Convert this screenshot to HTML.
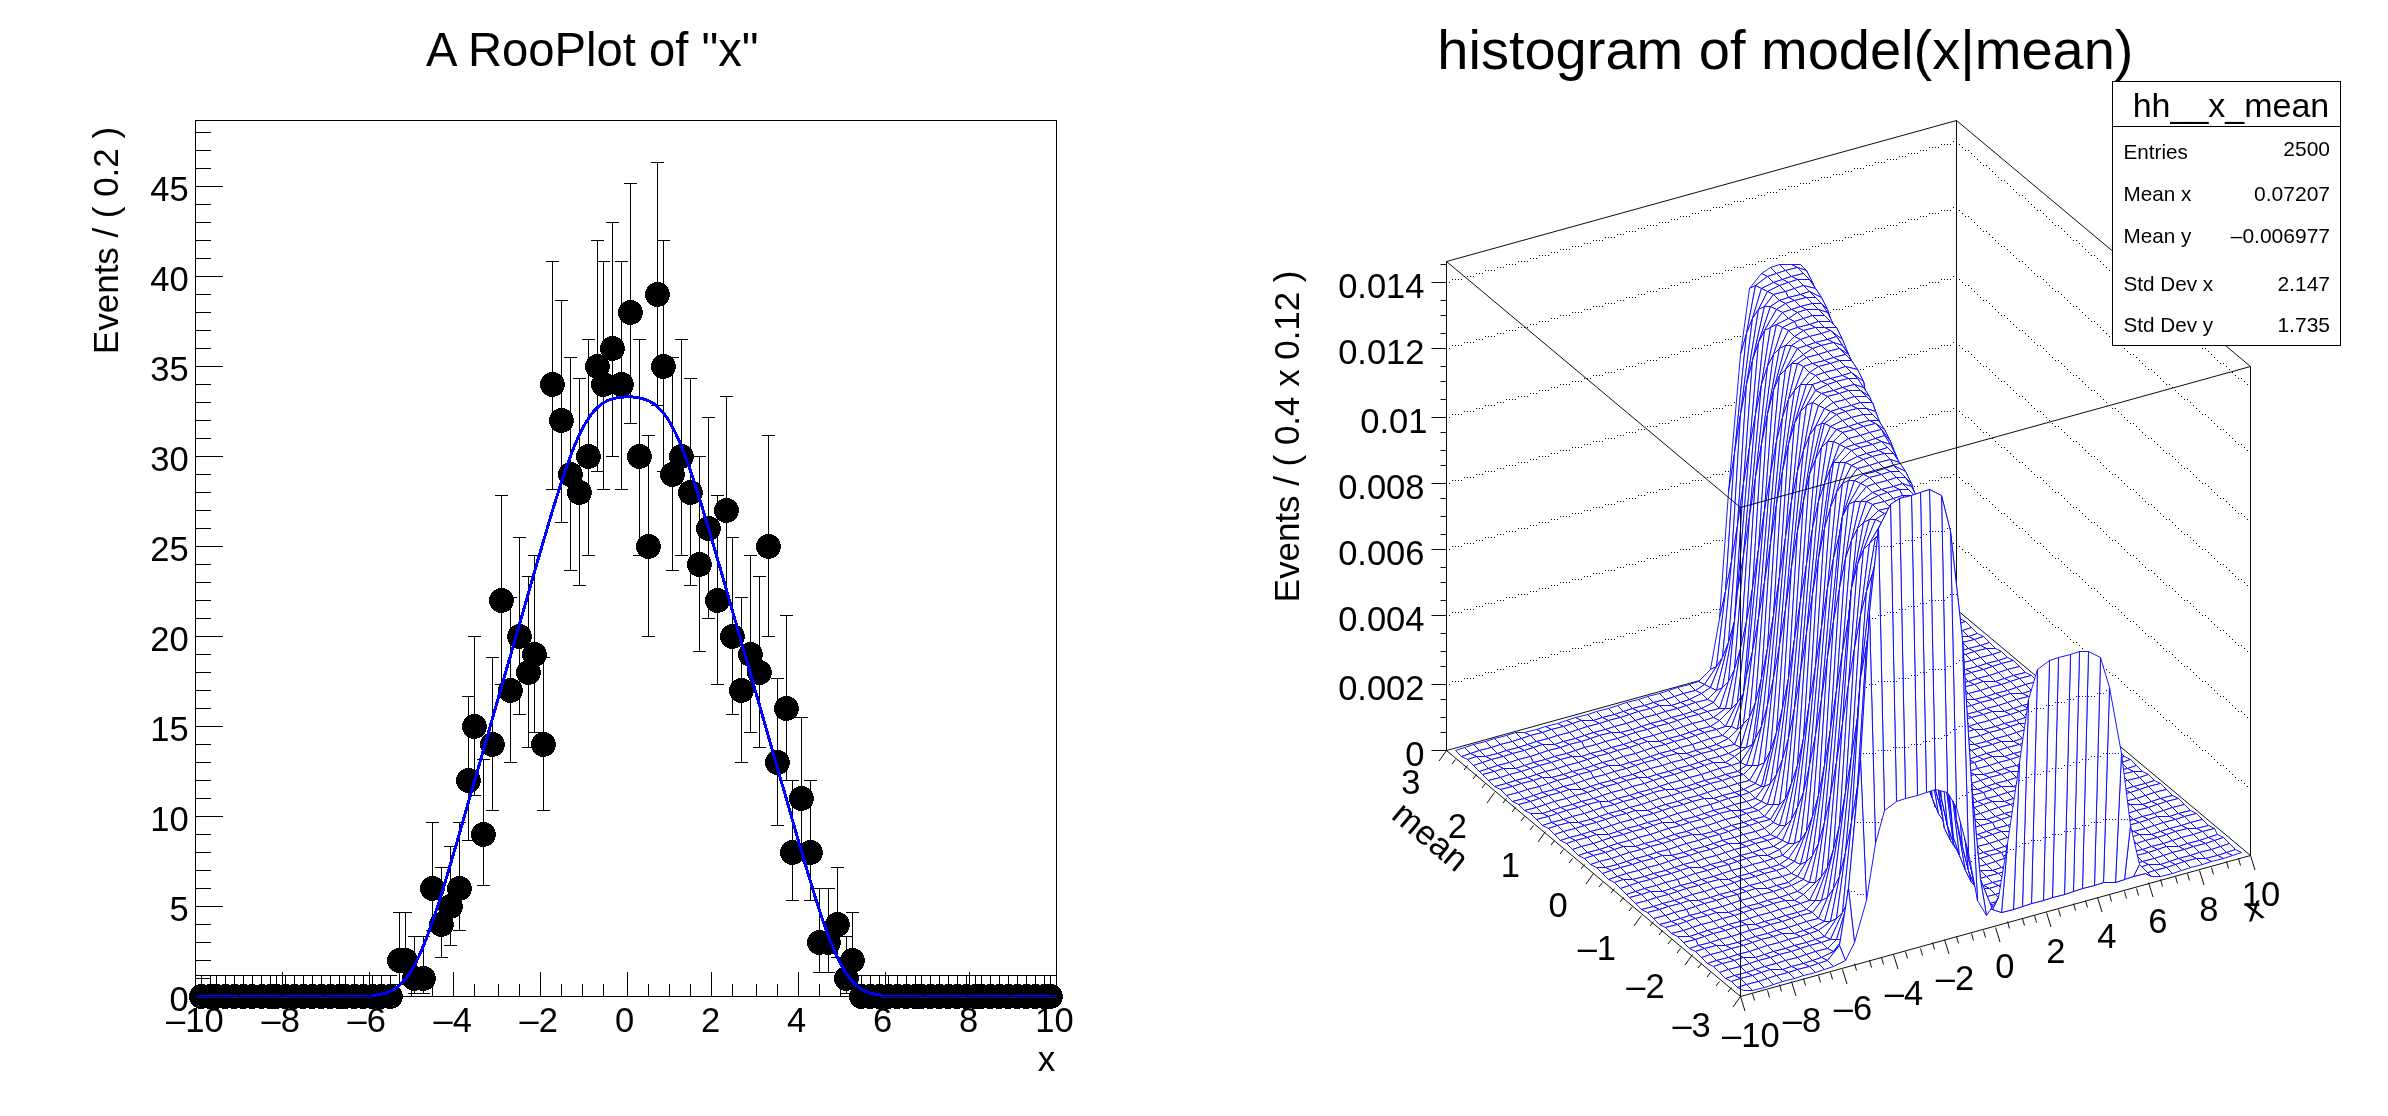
<!DOCTYPE html>
<html><head><meta charset="utf-8"><title>RooPlot</title>
<style>
html,body{margin:0;padding:0;background:#fff;}
svg{display:block;will-change:transform;}
text{font-family:"Liberation Sans",sans-serif;fill:#000;}
.lv{fill:none;stroke-dasharray:1 5;}
</style></head><body>
<svg width="2388" height="1116" viewBox="0 0 2388 1116" shape-rendering="crispEdges">
<rect width="2388" height="1116" fill="#fff"/>
<g id="left">
<rect x="195.5" y="120.5" width="861.0" height="876.0" fill="none" stroke="#000" stroke-width="1"/>
<path d="M195.5 996.5h27M195.5 978.5h15M195.5 960.5h15M195.5 942.5h15M195.5 924.5h15M195.5 906.5h27M195.5 888.5h15M195.5 870.5h15M195.5 852.5h15M195.5 834.5h15M195.5 816.5h27M195.5 798.5h15M195.5 780.5h15M195.5 762.5h15M195.5 744.5h15M195.5 726.5h27M195.5 708.5h15M195.5 690.5h15M195.5 672.5h15M195.5 654.5h15M195.5 636.5h27M195.5 618.5h15M195.5 600.5h15M195.5 582.5h15M195.5 564.5h15M195.5 546.5h27M195.5 528.5h15M195.5 510.5h15M195.5 492.5h15M195.5 474.5h15M195.5 456.5h27M195.5 438.5h15M195.5 420.5h15M195.5 402.5h15M195.5 384.5h15M195.5 366.5h27M195.5 348.5h15M195.5 330.5h15M195.5 312.5h15M195.5 294.5h15M195.5 276.5h27M195.5 258.5h15M195.5 240.5h15M195.5 222.5h15M195.5 204.5h15M195.5 186.5h27M195.5 168.5h15M195.5 150.5h15M195.5 132.5h15M195.5 996.5v-25M216.5 996.5v-13M240.5 996.5v-13M261.5 996.5v-13M282.5 996.5v-25M303.5 996.5v-13M324.5 996.5v-13M345.5 996.5v-13M369.5 996.5v-25M390.5 996.5v-13M411.5 996.5v-13M432.5 996.5v-13M453.5 996.5v-25M474.5 996.5v-13M498.5 996.5v-13M519.5 996.5v-13M540.5 996.5v-25M561.5 996.5v-13M582.5 996.5v-13M603.5 996.5v-13M627.5 996.5v-25M648.5 996.5v-13M669.5 996.5v-13M690.5 996.5v-13M711.5 996.5v-25M732.5 996.5v-13M756.5 996.5v-13M777.5 996.5v-13M798.5 996.5v-25M819.5 996.5v-13M840.5 996.5v-13M861.5 996.5v-13M885.5 996.5v-25M906.5 996.5v-13M927.5 996.5v-13M948.5 996.5v-13M969.5 996.5v-25M990.5 996.5v-13M1014.5 996.5v-13M1035.5 996.5v-13M1056.5 996.5v-25" stroke="#000" stroke-width="1" fill="none"/>
<path d="M201.5 975.5V996.5M195.0 975.5h13M195.0 996.5h13M210.5 975.5V996.5M204.0 975.5h13M204.0 996.5h13M216.5 975.5V996.5M210.0 975.5h13M210.0 996.5h13M225.5 975.5V996.5M219.0 975.5h13M219.0 996.5h13M234.5 975.5V996.5M228.0 975.5h13M228.0 996.5h13M243.5 975.5V996.5M237.0 975.5h13M237.0 996.5h13M252.5 975.5V996.5M246.0 975.5h13M246.0 996.5h13M261.5 975.5V996.5M255.0 975.5h13M255.0 996.5h13M270.5 975.5V996.5M264.0 975.5h13M264.0 996.5h13M276.5 975.5V996.5M270.0 975.5h13M270.0 996.5h13M285.5 975.5V996.5M279.0 975.5h13M279.0 996.5h13M294.5 975.5V996.5M288.0 975.5h13M288.0 996.5h13M303.5 975.5V996.5M297.0 975.5h13M297.0 996.5h13M312.5 975.5V996.5M306.0 975.5h13M306.0 996.5h13M321.5 975.5V996.5M315.0 975.5h13M315.0 996.5h13M330.5 975.5V996.5M324.0 975.5h13M324.0 996.5h13M339.5 975.5V996.5M333.0 975.5h13M333.0 996.5h13M345.5 975.5V996.5M339.0 975.5h13M339.0 996.5h13M354.5 975.5V996.5M348.0 975.5h13M348.0 996.5h13M363.5 975.5V996.5M357.0 975.5h13M357.0 996.5h13M372.5 975.5V996.5M366.0 975.5h13M366.0 996.5h13M381.5 975.5V996.5M375.0 975.5h13M375.0 996.5h13M390.5 975.5V996.5M384.0 975.5h13M384.0 996.5h13M399.5 912.5V984.5M393.0 912.5h13M393.0 984.5h13M405.5 912.5V984.5M399.0 912.5h13M399.0 984.5h13M414.5 936.5V993.5M408.0 936.5h13M408.0 993.5h13M423.5 936.5V993.5M417.0 936.5h13M417.0 993.5h13M432.5 822.5V930.5M426.0 822.5h13M426.0 930.5h13M441.5 867.5V957.5M435.0 867.5h13M435.0 957.5h13M450.5 846.5V945.5M444.0 846.5h13M444.0 945.5h13M459.5 822.5V930.5M453.0 822.5h13M453.0 930.5h13M468.5 696.5V840.5M462.0 696.5h13M462.0 840.5h13M474.5 636.5V795.5M468.0 636.5h13M468.0 795.5h13M483.5 759.5V885.5M477.0 759.5h13M477.0 885.5h13M492.5 657.5V810.5M486.0 657.5h13M486.0 810.5h13M501.5 495.5V684.5M495.0 495.5h13M495.0 684.5h13M510.5 597.5V762.5M504.0 597.5h13M504.0 762.5h13M519.5 537.5V714.5M513.0 537.5h13M513.0 714.5h13M528.5 576.5V747.5M522.0 576.5h13M522.0 747.5h13M534.5 555.5V732.5M528.0 555.5h13M528.0 732.5h13M543.5 657.5V810.5M537.0 657.5h13M537.0 810.5h13M552.5 261.5V489.5M546.0 261.5h13M546.0 489.5h13M561.5 300.5V522.5M555.0 300.5h13M555.0 522.5h13M570.5 357.5V570.5M564.0 357.5h13M564.0 570.5h13M579.5 378.5V585.5M573.0 378.5h13M573.0 585.5h13M588.5 339.5V555.5M582.0 339.5h13M582.0 555.5h13M597.5 240.5V471.5M591.0 240.5h13M591.0 471.5h13M603.5 261.5V489.5M597.0 261.5h13M597.0 489.5h13M612.5 222.5V456.5M606.0 222.5h13M606.0 456.5h13M621.5 261.5V489.5M615.0 261.5h13M615.0 489.5h13M630.5 183.5V423.5M624.0 183.5h13M624.0 423.5h13M639.5 339.5V555.5M633.0 339.5h13M633.0 555.5h13M648.5 435.5V636.5M642.0 435.5h13M642.0 636.5h13M657.5 162.5V405.5M651.0 162.5h13M651.0 405.5h13M663.5 240.5V471.5M657.0 240.5h13M657.0 471.5h13M672.5 357.5V570.5M666.0 357.5h13M666.0 570.5h13M681.5 339.5V555.5M675.0 339.5h13M675.0 555.5h13M690.5 378.5V585.5M684.0 378.5h13M684.0 585.5h13M699.5 456.5V651.5M693.0 456.5h13M693.0 651.5h13M708.5 417.5V618.5M702.0 417.5h13M702.0 618.5h13M717.5 495.5V684.5M711.0 495.5h13M711.0 684.5h13M726.5 396.5V603.5M720.0 396.5h13M720.0 603.5h13M732.5 537.5V714.5M726.0 537.5h13M726.0 714.5h13M741.5 597.5V762.5M735.0 597.5h13M735.0 762.5h13M750.5 555.5V732.5M744.0 555.5h13M744.0 732.5h13M759.5 576.5V747.5M753.0 576.5h13M753.0 747.5h13M768.5 435.5V636.5M762.0 435.5h13M762.0 636.5h13M777.5 678.5V825.5M771.0 678.5h13M771.0 825.5h13M786.5 615.5V780.5M780.0 615.5h13M780.0 780.5h13M792.5 780.5V900.5M786.0 780.5h13M786.0 900.5h13M801.5 717.5V855.5M795.0 717.5h13M795.0 855.5h13M810.5 780.5V900.5M804.0 780.5h13M804.0 900.5h13M819.5 888.5V972.5M813.0 888.5h13M813.0 972.5h13M828.5 888.5V972.5M822.0 888.5h13M822.0 972.5h13M837.5 867.5V957.5M831.0 867.5h13M831.0 957.5h13M846.5 936.5V993.5M840.0 936.5h13M840.0 993.5h13M852.5 912.5V984.5M846.0 912.5h13M846.0 984.5h13M861.5 975.5V996.5M855.0 975.5h13M855.0 996.5h13M870.5 975.5V996.5M864.0 975.5h13M864.0 996.5h13M879.5 975.5V996.5M873.0 975.5h13M873.0 996.5h13M888.5 975.5V996.5M882.0 975.5h13M882.0 996.5h13M897.5 975.5V996.5M891.0 975.5h13M891.0 996.5h13M906.5 975.5V996.5M900.0 975.5h13M900.0 996.5h13M915.5 975.5V996.5M909.0 975.5h13M909.0 996.5h13M921.5 975.5V996.5M915.0 975.5h13M915.0 996.5h13M930.5 975.5V996.5M924.0 975.5h13M924.0 996.5h13M939.5 975.5V996.5M933.0 975.5h13M933.0 996.5h13M948.5 975.5V996.5M942.0 975.5h13M942.0 996.5h13M957.5 975.5V996.5M951.0 975.5h13M951.0 996.5h13M966.5 975.5V996.5M960.0 975.5h13M960.0 996.5h13M975.5 975.5V996.5M969.0 975.5h13M969.0 996.5h13M981.5 975.5V996.5M975.0 975.5h13M975.0 996.5h13M990.5 975.5V996.5M984.0 975.5h13M984.0 996.5h13M999.5 975.5V996.5M993.0 975.5h13M993.0 996.5h13M1008.5 975.5V996.5M1002.0 975.5h13M1002.0 996.5h13M1017.5 975.5V996.5M1011.0 975.5h13M1011.0 996.5h13M1026.5 975.5V996.5M1020.0 975.5h13M1020.0 996.5h13M1035.5 975.5V996.5M1029.0 975.5h13M1029.0 996.5h13M1044.5 975.5V996.5M1038.0 975.5h13M1038.0 996.5h13M1050.5 975.5V996.5M1044.0 975.5h13M1044.0 996.5h13" stroke="#000" stroke-width="1" fill="none"/>
<g fill="#000"><circle cx="201.5" cy="996.5" r="12.4"/><circle cx="210.5" cy="996.5" r="12.4"/><circle cx="216.5" cy="996.5" r="12.4"/><circle cx="225.5" cy="996.5" r="12.4"/><circle cx="234.5" cy="996.5" r="12.4"/><circle cx="243.5" cy="996.5" r="12.4"/><circle cx="252.5" cy="996.5" r="12.4"/><circle cx="261.5" cy="996.5" r="12.4"/><circle cx="270.5" cy="996.5" r="12.4"/><circle cx="276.5" cy="996.5" r="12.4"/><circle cx="285.5" cy="996.5" r="12.4"/><circle cx="294.5" cy="996.5" r="12.4"/><circle cx="303.5" cy="996.5" r="12.4"/><circle cx="312.5" cy="996.5" r="12.4"/><circle cx="321.5" cy="996.5" r="12.4"/><circle cx="330.5" cy="996.5" r="12.4"/><circle cx="339.5" cy="996.5" r="12.4"/><circle cx="345.5" cy="996.5" r="12.4"/><circle cx="354.5" cy="996.5" r="12.4"/><circle cx="363.5" cy="996.5" r="12.4"/><circle cx="372.5" cy="996.5" r="12.4"/><circle cx="381.5" cy="996.5" r="12.4"/><circle cx="390.5" cy="996.5" r="12.4"/><circle cx="399.5" cy="960.5" r="12.4"/><circle cx="405.5" cy="960.5" r="12.4"/><circle cx="414.5" cy="978.5" r="12.4"/><circle cx="423.5" cy="978.5" r="12.4"/><circle cx="432.5" cy="888.5" r="12.4"/><circle cx="441.5" cy="924.5" r="12.4"/><circle cx="450.5" cy="906.5" r="12.4"/><circle cx="459.5" cy="888.5" r="12.4"/><circle cx="468.5" cy="780.5" r="12.4"/><circle cx="474.5" cy="726.5" r="12.4"/><circle cx="483.5" cy="834.5" r="12.4"/><circle cx="492.5" cy="744.5" r="12.4"/><circle cx="501.5" cy="600.5" r="12.4"/><circle cx="510.5" cy="690.5" r="12.4"/><circle cx="519.5" cy="636.5" r="12.4"/><circle cx="528.5" cy="672.5" r="12.4"/><circle cx="534.5" cy="654.5" r="12.4"/><circle cx="543.5" cy="744.5" r="12.4"/><circle cx="552.5" cy="384.5" r="12.4"/><circle cx="561.5" cy="420.5" r="12.4"/><circle cx="570.5" cy="474.5" r="12.4"/><circle cx="579.5" cy="492.5" r="12.4"/><circle cx="588.5" cy="456.5" r="12.4"/><circle cx="597.5" cy="366.5" r="12.4"/><circle cx="603.5" cy="384.5" r="12.4"/><circle cx="612.5" cy="348.5" r="12.4"/><circle cx="621.5" cy="384.5" r="12.4"/><circle cx="630.5" cy="312.5" r="12.4"/><circle cx="639.5" cy="456.5" r="12.4"/><circle cx="648.5" cy="546.5" r="12.4"/><circle cx="657.5" cy="294.5" r="12.4"/><circle cx="663.5" cy="366.5" r="12.4"/><circle cx="672.5" cy="474.5" r="12.4"/><circle cx="681.5" cy="456.5" r="12.4"/><circle cx="690.5" cy="492.5" r="12.4"/><circle cx="699.5" cy="564.5" r="12.4"/><circle cx="708.5" cy="528.5" r="12.4"/><circle cx="717.5" cy="600.5" r="12.4"/><circle cx="726.5" cy="510.5" r="12.4"/><circle cx="732.5" cy="636.5" r="12.4"/><circle cx="741.5" cy="690.5" r="12.4"/><circle cx="750.5" cy="654.5" r="12.4"/><circle cx="759.5" cy="672.5" r="12.4"/><circle cx="768.5" cy="546.5" r="12.4"/><circle cx="777.5" cy="762.5" r="12.4"/><circle cx="786.5" cy="708.5" r="12.4"/><circle cx="792.5" cy="852.5" r="12.4"/><circle cx="801.5" cy="798.5" r="12.4"/><circle cx="810.5" cy="852.5" r="12.4"/><circle cx="819.5" cy="942.5" r="12.4"/><circle cx="828.5" cy="942.5" r="12.4"/><circle cx="837.5" cy="924.5" r="12.4"/><circle cx="846.5" cy="978.5" r="12.4"/><circle cx="852.5" cy="960.5" r="12.4"/><circle cx="861.5" cy="996.5" r="12.4"/><circle cx="870.5" cy="996.5" r="12.4"/><circle cx="879.5" cy="996.5" r="12.4"/><circle cx="888.5" cy="996.5" r="12.4"/><circle cx="897.5" cy="996.5" r="12.4"/><circle cx="906.5" cy="996.5" r="12.4"/><circle cx="915.5" cy="996.5" r="12.4"/><circle cx="921.5" cy="996.5" r="12.4"/><circle cx="930.5" cy="996.5" r="12.4"/><circle cx="939.5" cy="996.5" r="12.4"/><circle cx="948.5" cy="996.5" r="12.4"/><circle cx="957.5" cy="996.5" r="12.4"/><circle cx="966.5" cy="996.5" r="12.4"/><circle cx="975.5" cy="996.5" r="12.4"/><circle cx="981.5" cy="996.5" r="12.4"/><circle cx="990.5" cy="996.5" r="12.4"/><circle cx="999.5" cy="996.5" r="12.4"/><circle cx="1008.5" cy="996.5" r="12.4"/><circle cx="1017.5" cy="996.5" r="12.4"/><circle cx="1026.5" cy="996.5" r="12.4"/><circle cx="1035.5" cy="996.5" r="12.4"/><circle cx="1044.5" cy="996.5" r="12.4"/><circle cx="1050.5" cy="996.5" r="12.4"/></g>
<path d="M195.5 997.5H372.5M881.9 997.5H1056.5" fill="none" stroke="#00f" stroke-width="1"/>
<path d="M196.5 995.5H372.5M881.9 995.5H1056.5" fill="none" stroke="#00f" stroke-width="1" stroke-dasharray="20 1.5"/>
<polyline points="372.5,995.4 374.7,995.2 376.8,994.9 379.0,994.6 381.1,994.2 383.3,993.7 385.4,993.1 387.6,992.4 389.7,991.6 391.9,990.5 394.0,989.3 396.2,987.9 398.3,986.3 400.5,984.4 402.6,982.2 404.8,979.8 406.9,977.1 409.1,974.1 411.2,970.7 413.4,967.1 415.5,963.1 417.7,958.8 419.8,954.2 422.0,949.3 424.1,944.1 426.3,938.7 428.4,933.0 430.6,927.0 432.7,920.8 434.9,914.5 437.0,907.9 439.2,901.2 441.3,894.4 443.5,887.5 445.6,880.4 447.8,873.3 449.9,866.0 452.1,858.8 454.2,851.4 456.4,844.1 458.5,836.7 460.7,829.3 462.8,821.8 464.9,814.4 467.1,806.9 469.2,799.4 471.4,791.9 473.5,784.4 475.7,777.0 477.8,769.5 480.0,762.0 482.1,754.5 484.3,747.0 486.4,739.5 488.6,732.0 490.7,724.5 492.9,717.0 495.0,709.5 497.2,702.0 499.3,694.5 501.5,687.0 503.6,679.5 505.8,672.0 507.9,664.5 510.1,657.0 512.2,649.5 514.4,642.0 516.5,634.5 518.7,627.0 520.8,619.5 523.0,612.0 525.1,604.5 527.3,597.0 529.4,589.6 531.6,582.1 533.7,574.6 535.9,567.2 538.0,559.7 540.2,552.3 542.3,544.9 544.5,537.6 546.6,530.3 548.8,523.0 550.9,515.8 553.1,508.7 555.2,501.7 557.4,494.8 559.5,488.0 561.7,481.4 563.8,474.9 566.0,468.6 568.1,462.5 570.3,456.7 572.4,451.1 574.6,445.7 576.7,440.6 578.9,435.9 581.0,431.4 583.2,427.2 585.3,423.4 587.5,419.9 589.6,416.6 591.8,413.7 593.9,411.1 596.1,408.8 598.2,406.8 600.4,405.0 602.5,403.5 604.7,402.1 606.8,401.0 609.0,400.0 611.1,399.3 613.3,398.6 615.4,398.1 617.6,397.7 619.7,397.3 621.9,397.1 624.0,397.0 626.2,396.9 628.3,396.8 630.4,396.9 632.6,397.0 634.7,397.2 636.9,397.5 639.0,397.8 641.2,398.3 643.3,398.9 645.5,399.6 647.6,400.4 649.8,401.4 651.9,402.6 654.1,404.0 656.2,405.7 658.4,407.6 660.5,409.7 662.7,412.1 664.8,414.9 667.0,417.9 669.1,421.2 671.3,424.9 673.4,428.9 675.6,433.1 677.7,437.7 679.9,442.6 682.0,447.8 684.2,453.3 686.3,459.0 688.5,464.9 690.6,471.1 692.8,477.5 694.9,484.0 697.1,490.7 699.2,497.6 701.4,504.5 703.5,511.6 705.7,518.7 707.8,525.9 710.0,533.2 712.1,540.5 714.3,547.9 716.4,555.3 718.6,562.7 720.7,570.1 722.9,577.6 725.0,585.1 727.2,592.5 729.3,600.0 731.5,607.5 733.6,615.0 735.8,622.5 737.9,630.0 740.1,637.5 742.2,645.0 744.4,652.5 746.5,660.0 748.7,667.5 750.8,675.0 753.0,682.5 755.1,690.0 757.3,697.5 759.4,705.0 761.6,712.5 763.7,720.0 765.9,727.5 768.0,735.0 770.2,742.5 772.3,750.0 774.5,757.5 776.6,765.0 778.8,772.5 780.9,780.0 783.1,787.4 785.2,794.9 787.4,802.4 789.5,809.9 791.6,817.3 793.8,824.8 795.9,832.2 798.1,839.6 800.2,847.0 802.4,854.4 804.5,861.7 806.7,868.9 808.8,876.1 811.0,883.2 813.1,890.2 815.3,897.2 817.4,903.9 819.6,910.6 821.7,917.1 823.9,923.3 826.0,929.4 828.2,935.3 830.3,940.9 832.5,946.2 834.6,951.3 836.8,956.1 838.9,960.6 841.1,964.7 843.2,968.6 845.4,972.1 847.5,975.3 849.7,978.2 851.8,980.8 854.0,983.1 856.1,985.2 858.3,987.0 860.4,988.5 862.6,989.8 864.7,991.0 866.9,991.9 869.0,992.7 871.2,993.4 873.3,993.9 875.5,994.4 877.6,994.7 879.8,995.0 881.9,995.3" fill="none" stroke="#00f" stroke-width="3" stroke-linejoin="round"/>
<text x="188.6" y="1011.2" font-size="34.5" text-anchor="end">0</text>
<text x="188.6" y="921.2" font-size="34.5" text-anchor="end">5</text>
<text x="188.6" y="831.2" font-size="34.5" text-anchor="end">10</text>
<text x="188.6" y="741.2" font-size="34.5" text-anchor="end">15</text>
<text x="188.6" y="651.2" font-size="34.5" text-anchor="end">20</text>
<text x="188.6" y="561.2" font-size="34.5" text-anchor="end">25</text>
<text x="188.6" y="471.2" font-size="34.5" text-anchor="end">30</text>
<text x="188.6" y="381.2" font-size="34.5" text-anchor="end">35</text>
<text x="188.6" y="291.2" font-size="34.5" text-anchor="end">40</text>
<text x="188.6" y="201.2" font-size="34.5" text-anchor="end">45</text>
<text x="194.8" y="1032" font-size="34.5" text-anchor="middle">–10</text>
<text x="280.8" y="1032" font-size="34.5" text-anchor="middle">–8</text>
<text x="366.7" y="1032" font-size="34.5" text-anchor="middle">–6</text>
<text x="452.7" y="1032" font-size="34.5" text-anchor="middle">–4</text>
<text x="538.7" y="1032" font-size="34.5" text-anchor="middle">–2</text>
<text x="624.7" y="1032" font-size="34.5" text-anchor="middle">0</text>
<text x="710.6" y="1032" font-size="34.5" text-anchor="middle">2</text>
<text x="796.6" y="1032" font-size="34.5" text-anchor="middle">4</text>
<text x="882.6" y="1032" font-size="34.5" text-anchor="middle">6</text>
<text x="968.5" y="1032" font-size="34.5" text-anchor="middle">8</text>
<text x="1054.5" y="1032" font-size="34.5" text-anchor="middle">10</text>
<text x="1046.6" y="1071" font-size="35" text-anchor="middle">x</text>
<text transform="translate(118,127) rotate(-90)" font-size="34.9" text-anchor="end">Events / ( 0.2 )</text>
<text x="592.3" y="65.6" font-size="47.2" text-anchor="middle">A RooPlot of "x"</text>
</g>
<g id="right">
<path d="M1446.5 750.5L1956.5 609.5M1956.5 609.5L2250.5 855.5M1956.5 609.5L1956.5 120.5M2250.5 855.5L2250.5 366.5M1446.5 261.5L1956.5 120.5M1956.5 120.5L2250.5 366.5" stroke="#000" stroke-width="0.95" fill="none" shape-rendering="geometricPrecision"/>
<path d="M1446 684.5h1M1449 684.5h1M1452 681.5h1M1455 681.5h1M1458 681.5h1M1461 681.5h1M1464 678.5h1M1467 678.5h1M1470 678.5h1M1473 678.5h1M1476 675.5h1M1479 675.5h1M1482 675.5h1M1485 672.5h1M1488 672.5h1M1491 672.5h1M1494 672.5h1M1497 669.5h1M1500 669.5h1M1503 669.5h1M1506 666.5h1M1509 666.5h1M1512 666.5h1M1515 666.5h1M1518 663.5h1M1521 663.5h1M1524 663.5h1M1527 663.5h1M1530 660.5h1M1533 660.5h1M1536 660.5h1M1539 657.5h1M1542 657.5h1M1545 657.5h1M1548 657.5h1M1551 654.5h1M1554 654.5h1M1557 654.5h1M1560 651.5h1M1563 651.5h1M1566 651.5h1M1569 651.5h1M1572 648.5h1M1575 648.5h1M1578 648.5h1M1581 648.5h1M1584 645.5h1M1587 645.5h1M1590 645.5h1M1593 642.5h1M1596 642.5h1M1599 642.5h1M1602 642.5h1M1605 639.5h1M1608 639.5h1M1611 639.5h1M1614 639.5h1M1617 636.5h1M1620 636.5h1M1623 636.5h1M1626 633.5h1M1629 633.5h1M1632 633.5h1M1635 633.5h1M1638 630.5h1M1641 630.5h1M1644 630.5h1M1647 627.5h1M1650 627.5h1M1653 627.5h1M1656 627.5h1M1659 624.5h1M1662 624.5h1M1665 624.5h1M1668 624.5h1M1671 621.5h1M1674 621.5h1M1677 621.5h1M1680 618.5h1M1683 618.5h1M1686 618.5h1M1689 618.5h1M1692 615.5h1M1695 615.5h1M1698 615.5h1M1701 612.5h1M1704 612.5h1M1707 612.5h1M1710 612.5h1M1713 609.5h1M1716 609.5h1M1719 609.5h1M1722 609.5h1M1725 606.5h1M1728 606.5h1M1731 606.5h1M1734 603.5h1M1737 603.5h1M1740 603.5h1M1743 603.5h1M1746 600.5h1M1749 600.5h1M1752 600.5h1M1755 600.5h1M1758 597.5h1M1761 597.5h1M1764 597.5h1M1767 594.5h1M1770 594.5h1M1773 594.5h1M1776 594.5h1M1779 591.5h1M1782 591.5h1M1785 591.5h1M1788 588.5h1M1791 588.5h1M1794 588.5h1M1797 588.5h1M1800 585.5h1M1803 585.5h1M1806 585.5h1M1809 585.5h1M1812 582.5h1M1815 582.5h1M1818 582.5h1M1821 579.5h1M1824 579.5h1M1827 579.5h1M1830 579.5h1M1833 576.5h1M1836 576.5h1M1839 576.5h1M1842 576.5h1M1845 573.5h1M1848 573.5h1M1851 573.5h1M1854 570.5h1M1857 570.5h1M1860 570.5h1M1863 570.5h1M1866 567.5h1M1869 567.5h1M1872 567.5h1M1875 564.5h1M1878 564.5h1M1881 564.5h1M1884 564.5h1M1887 561.5h1M1890 561.5h1M1893 561.5h1M1896 561.5h1M1899 558.5h1M1902 558.5h1M1905 558.5h1M1908 555.5h1M1911 555.5h1M1914 555.5h1M1917 555.5h1M1920 552.5h1M1923 552.5h1M1926 552.5h1M1929 549.5h1M1932 549.5h1M1935 549.5h1M1938 549.5h1M1941 546.5h1M1944 546.5h1M1947 546.5h1M1950 546.5h1M1953 543.5h1M1956 543.5h1M1956 543.5h1M1959 546.5h1M1962 549.5h1M1965 552.5h1M1968 552.5h1M1971 555.5h1M1974 558.5h1M1977 561.5h1M1980 564.5h1M1983 567.5h1M1986 567.5h1M1989 570.5h1M1992 573.5h1M1995 576.5h1M1998 579.5h1M2001 582.5h1M2004 582.5h1M2007 585.5h1M2010 588.5h1M2013 591.5h1M2016 594.5h1M2019 597.5h1M2022 597.5h1M2025 600.5h1M2028 603.5h1M2031 606.5h1M2034 609.5h1M2037 612.5h1M2040 612.5h1M2043 615.5h1M2046 618.5h1M2049 621.5h1M2052 624.5h1M2055 627.5h1M2058 627.5h1M2061 630.5h1M2064 633.5h1M2067 636.5h1M2070 639.5h1M2073 642.5h1M2076 642.5h1M2079 645.5h1M2082 648.5h1M2085 651.5h1M2088 654.5h1M2091 657.5h1M2094 657.5h1M2097 660.5h1M2100 663.5h1M2103 666.5h1M2106 669.5h1M2109 672.5h1M2112 675.5h1M2115 675.5h1M2118 678.5h1M2121 681.5h1M2124 684.5h1M2127 687.5h1M2130 690.5h1M2133 690.5h1M2136 693.5h1M2139 696.5h1M2142 699.5h1M2145 702.5h1M2148 705.5h1M2151 705.5h1M2154 708.5h1M2157 711.5h1M2160 714.5h1M2163 717.5h1M2166 720.5h1M2169 720.5h1M2172 723.5h1M2175 726.5h1M2178 729.5h1M2181 732.5h1M2184 735.5h1M2187 735.5h1M2190 738.5h1M2193 741.5h1M2196 744.5h1M2199 747.5h1M2202 750.5h1M2205 750.5h1M2208 753.5h1M2211 756.5h1M2214 759.5h1M2217 762.5h1M2220 765.5h1M2223 765.5h1M2226 768.5h1M2229 771.5h1M2232 774.5h1M2235 777.5h1M2238 780.5h1M2241 780.5h1M2244 783.5h1M2247 786.5h1M2250 789.5h1M1446 615.5h1M1449 615.5h1M1452 612.5h1M1455 612.5h1M1458 612.5h1M1461 612.5h1M1464 609.5h1M1467 609.5h1M1470 609.5h1M1473 609.5h1M1476 606.5h1M1479 606.5h1M1482 606.5h1M1485 603.5h1M1488 603.5h1M1491 603.5h1M1494 603.5h1M1497 600.5h1M1500 600.5h1M1503 600.5h1M1506 597.5h1M1509 597.5h1M1512 597.5h1M1515 597.5h1M1518 594.5h1M1521 594.5h1M1524 594.5h1M1527 594.5h1M1530 591.5h1M1533 591.5h1M1536 591.5h1M1539 588.5h1M1542 588.5h1M1545 588.5h1M1548 588.5h1M1551 585.5h1M1554 585.5h1M1557 585.5h1M1560 582.5h1M1563 582.5h1M1566 582.5h1M1569 582.5h1M1572 579.5h1M1575 579.5h1M1578 579.5h1M1581 579.5h1M1584 576.5h1M1587 576.5h1M1590 576.5h1M1593 573.5h1M1596 573.5h1M1599 573.5h1M1602 573.5h1M1605 570.5h1M1608 570.5h1M1611 570.5h1M1614 570.5h1M1617 567.5h1M1620 567.5h1M1623 567.5h1M1626 564.5h1M1629 564.5h1M1632 564.5h1M1635 564.5h1M1638 561.5h1M1641 561.5h1M1644 561.5h1M1647 558.5h1M1650 558.5h1M1653 558.5h1M1656 558.5h1M1659 555.5h1M1662 555.5h1M1665 555.5h1M1668 555.5h1M1671 552.5h1M1674 552.5h1M1677 552.5h1M1680 549.5h1M1683 549.5h1M1686 549.5h1M1689 549.5h1M1692 546.5h1M1695 546.5h1M1698 546.5h1M1701 546.5h1M1704 543.5h1M1707 543.5h1M1710 543.5h1M1713 540.5h1M1716 540.5h1M1719 540.5h1M1722 540.5h1M1725 537.5h1M1728 537.5h1M1731 537.5h1M1734 534.5h1M1737 534.5h1M1740 534.5h1M1743 534.5h1M1746 531.5h1M1749 531.5h1M1752 531.5h1M1755 531.5h1M1758 528.5h1M1761 528.5h1M1764 528.5h1M1767 525.5h1M1770 525.5h1M1773 525.5h1M1776 525.5h1M1779 522.5h1M1782 522.5h1M1785 522.5h1M1788 519.5h1M1791 519.5h1M1794 519.5h1M1797 519.5h1M1800 516.5h1M1803 516.5h1M1806 516.5h1M1809 516.5h1M1812 513.5h1M1815 513.5h1M1818 513.5h1M1821 510.5h1M1824 510.5h1M1827 510.5h1M1830 510.5h1M1833 507.5h1M1836 507.5h1M1839 507.5h1M1842 507.5h1M1845 504.5h1M1848 504.5h1M1851 504.5h1M1854 501.5h1M1857 501.5h1M1860 501.5h1M1863 501.5h1M1866 498.5h1M1869 498.5h1M1872 498.5h1M1875 495.5h1M1878 495.5h1M1881 495.5h1M1884 495.5h1M1887 492.5h1M1890 492.5h1M1893 492.5h1M1896 492.5h1M1899 489.5h1M1902 489.5h1M1905 489.5h1M1908 486.5h1M1911 486.5h1M1914 486.5h1M1917 486.5h1M1920 483.5h1M1923 483.5h1M1926 483.5h1M1929 480.5h1M1932 480.5h1M1935 480.5h1M1938 480.5h1M1941 477.5h1M1944 477.5h1M1947 477.5h1M1950 477.5h1M1953 474.5h1M1956 474.5h1M1956 474.5h1M1959 477.5h1M1962 480.5h1M1965 483.5h1M1968 483.5h1M1971 486.5h1M1974 489.5h1M1977 492.5h1M1980 495.5h1M1983 498.5h1M1986 498.5h1M1989 501.5h1M1992 504.5h1M1995 507.5h1M1998 510.5h1M2001 513.5h1M2004 513.5h1M2007 516.5h1M2010 519.5h1M2013 522.5h1M2016 525.5h1M2019 528.5h1M2022 528.5h1M2025 531.5h1M2028 534.5h1M2031 537.5h1M2034 540.5h1M2037 543.5h1M2040 543.5h1M2043 546.5h1M2046 549.5h1M2049 552.5h1M2052 555.5h1M2055 558.5h1M2058 558.5h1M2061 561.5h1M2064 564.5h1M2067 567.5h1M2070 570.5h1M2073 573.5h1M2076 573.5h1M2079 576.5h1M2082 579.5h1M2085 582.5h1M2088 585.5h1M2091 588.5h1M2094 588.5h1M2097 591.5h1M2100 594.5h1M2103 597.5h1M2106 600.5h1M2109 603.5h1M2112 606.5h1M2115 606.5h1M2118 609.5h1M2121 612.5h1M2124 615.5h1M2127 618.5h1M2130 621.5h1M2133 621.5h1M2136 624.5h1M2139 627.5h1M2142 630.5h1M2145 633.5h1M2148 636.5h1M2151 636.5h1M2154 639.5h1M2157 642.5h1M2160 645.5h1M2163 648.5h1M2166 651.5h1M2169 651.5h1M2172 654.5h1M2175 657.5h1M2178 660.5h1M2181 663.5h1M2184 666.5h1M2187 666.5h1M2190 669.5h1M2193 672.5h1M2196 675.5h1M2199 678.5h1M2202 681.5h1M2205 681.5h1M2208 684.5h1M2211 687.5h1M2214 690.5h1M2217 693.5h1M2220 696.5h1M2223 696.5h1M2226 699.5h1M2229 702.5h1M2232 705.5h1M2235 708.5h1M2238 711.5h1M2241 711.5h1M2244 714.5h1M2247 717.5h1M2250 720.5h1M1446 549.5h1M1449 549.5h1M1452 546.5h1M1455 546.5h1M1458 546.5h1M1461 546.5h1M1464 543.5h1M1467 543.5h1M1470 543.5h1M1473 543.5h1M1476 540.5h1M1479 540.5h1M1482 540.5h1M1485 537.5h1M1488 537.5h1M1491 537.5h1M1494 537.5h1M1497 534.5h1M1500 534.5h1M1503 534.5h1M1506 531.5h1M1509 531.5h1M1512 531.5h1M1515 531.5h1M1518 528.5h1M1521 528.5h1M1524 528.5h1M1527 528.5h1M1530 525.5h1M1533 525.5h1M1536 525.5h1M1539 522.5h1M1542 522.5h1M1545 522.5h1M1548 522.5h1M1551 519.5h1M1554 519.5h1M1557 519.5h1M1560 516.5h1M1563 516.5h1M1566 516.5h1M1569 516.5h1M1572 513.5h1M1575 513.5h1M1578 513.5h1M1581 513.5h1M1584 510.5h1M1587 510.5h1M1590 510.5h1M1593 507.5h1M1596 507.5h1M1599 507.5h1M1602 507.5h1M1605 504.5h1M1608 504.5h1M1611 504.5h1M1614 504.5h1M1617 501.5h1M1620 501.5h1M1623 501.5h1M1626 498.5h1M1629 498.5h1M1632 498.5h1M1635 498.5h1M1638 495.5h1M1641 495.5h1M1644 495.5h1M1647 492.5h1M1650 492.5h1M1653 492.5h1M1656 492.5h1M1659 489.5h1M1662 489.5h1M1665 489.5h1M1668 489.5h1M1671 486.5h1M1674 486.5h1M1677 486.5h1M1680 483.5h1M1683 483.5h1M1686 483.5h1M1689 483.5h1M1692 480.5h1M1695 480.5h1M1698 480.5h1M1701 480.5h1M1704 477.5h1M1707 477.5h1M1710 477.5h1M1713 474.5h1M1716 474.5h1M1719 474.5h1M1722 474.5h1M1725 471.5h1M1728 471.5h1M1731 471.5h1M1734 468.5h1M1737 468.5h1M1740 468.5h1M1743 468.5h1M1746 465.5h1M1749 465.5h1M1752 465.5h1M1755 465.5h1M1758 462.5h1M1761 462.5h1M1764 462.5h1M1767 459.5h1M1770 459.5h1M1773 459.5h1M1776 459.5h1M1779 456.5h1M1782 456.5h1M1785 456.5h1M1788 453.5h1M1791 453.5h1M1794 453.5h1M1797 453.5h1M1800 450.5h1M1803 450.5h1M1806 450.5h1M1809 450.5h1M1812 447.5h1M1815 447.5h1M1818 447.5h1M1821 444.5h1M1824 444.5h1M1827 444.5h1M1830 444.5h1M1833 441.5h1M1836 441.5h1M1839 441.5h1M1842 441.5h1M1845 438.5h1M1848 438.5h1M1851 438.5h1M1854 435.5h1M1857 435.5h1M1860 435.5h1M1863 435.5h1M1866 432.5h1M1869 432.5h1M1872 432.5h1M1875 429.5h1M1878 429.5h1M1881 429.5h1M1884 429.5h1M1887 426.5h1M1890 426.5h1M1893 426.5h1M1896 426.5h1M1899 423.5h1M1902 423.5h1M1905 423.5h1M1908 420.5h1M1911 420.5h1M1914 420.5h1M1917 420.5h1M1920 417.5h1M1923 417.5h1M1926 417.5h1M1929 414.5h1M1932 414.5h1M1935 414.5h1M1938 414.5h1M1941 411.5h1M1944 411.5h1M1947 411.5h1M1950 411.5h1M1953 408.5h1M1956 408.5h1M1956 408.5h1M1959 411.5h1M1962 414.5h1M1965 417.5h1M1968 417.5h1M1971 420.5h1M1974 423.5h1M1977 426.5h1M1980 429.5h1M1983 432.5h1M1986 432.5h1M1989 435.5h1M1992 438.5h1M1995 441.5h1M1998 444.5h1M2001 447.5h1M2004 447.5h1M2007 450.5h1M2010 453.5h1M2013 456.5h1M2016 459.5h1M2019 462.5h1M2022 462.5h1M2025 465.5h1M2028 468.5h1M2031 471.5h1M2034 474.5h1M2037 477.5h1M2040 477.5h1M2043 480.5h1M2046 483.5h1M2049 486.5h1M2052 489.5h1M2055 492.5h1M2058 492.5h1M2061 495.5h1M2064 498.5h1M2067 501.5h1M2070 504.5h1M2073 507.5h1M2076 507.5h1M2079 510.5h1M2082 513.5h1M2085 516.5h1M2088 519.5h1M2091 522.5h1M2094 522.5h1M2097 525.5h1M2100 528.5h1M2103 531.5h1M2106 534.5h1M2109 537.5h1M2112 540.5h1M2115 540.5h1M2118 543.5h1M2121 546.5h1M2124 549.5h1M2127 552.5h1M2130 555.5h1M2133 555.5h1M2136 558.5h1M2139 561.5h1M2142 564.5h1M2145 567.5h1M2148 570.5h1M2151 570.5h1M2154 573.5h1M2157 576.5h1M2160 579.5h1M2163 582.5h1M2166 585.5h1M2169 585.5h1M2172 588.5h1M2175 591.5h1M2178 594.5h1M2181 597.5h1M2184 600.5h1M2187 600.5h1M2190 603.5h1M2193 606.5h1M2196 609.5h1M2199 612.5h1M2202 615.5h1M2205 615.5h1M2208 618.5h1M2211 621.5h1M2214 624.5h1M2217 627.5h1M2220 630.5h1M2223 630.5h1M2226 633.5h1M2229 636.5h1M2232 639.5h1M2235 642.5h1M2238 645.5h1M2241 645.5h1M2244 648.5h1M2247 651.5h1M2250 654.5h1M1446 483.5h1M1449 483.5h1M1452 480.5h1M1455 480.5h1M1458 480.5h1M1461 480.5h1M1464 477.5h1M1467 477.5h1M1470 477.5h1M1473 477.5h1M1476 474.5h1M1479 474.5h1M1482 474.5h1M1485 471.5h1M1488 471.5h1M1491 471.5h1M1494 471.5h1M1497 468.5h1M1500 468.5h1M1503 468.5h1M1506 465.5h1M1509 465.5h1M1512 465.5h1M1515 465.5h1M1518 462.5h1M1521 462.5h1M1524 462.5h1M1527 462.5h1M1530 459.5h1M1533 459.5h1M1536 459.5h1M1539 456.5h1M1542 456.5h1M1545 456.5h1M1548 456.5h1M1551 453.5h1M1554 453.5h1M1557 453.5h1M1560 450.5h1M1563 450.5h1M1566 450.5h1M1569 450.5h1M1572 447.5h1M1575 447.5h1M1578 447.5h1M1581 447.5h1M1584 444.5h1M1587 444.5h1M1590 444.5h1M1593 441.5h1M1596 441.5h1M1599 441.5h1M1602 441.5h1M1605 438.5h1M1608 438.5h1M1611 438.5h1M1614 438.5h1M1617 435.5h1M1620 435.5h1M1623 435.5h1M1626 432.5h1M1629 432.5h1M1632 432.5h1M1635 432.5h1M1638 429.5h1M1641 429.5h1M1644 429.5h1M1647 426.5h1M1650 426.5h1M1653 426.5h1M1656 426.5h1M1659 423.5h1M1662 423.5h1M1665 423.5h1M1668 423.5h1M1671 420.5h1M1674 420.5h1M1677 420.5h1M1680 417.5h1M1683 417.5h1M1686 417.5h1M1689 417.5h1M1692 414.5h1M1695 414.5h1M1698 414.5h1M1701 414.5h1M1704 411.5h1M1707 411.5h1M1710 411.5h1M1713 408.5h1M1716 408.5h1M1719 408.5h1M1722 408.5h1M1725 405.5h1M1728 405.5h1M1731 405.5h1M1734 402.5h1M1737 402.5h1M1740 402.5h1M1743 402.5h1M1746 399.5h1M1749 399.5h1M1752 399.5h1M1755 399.5h1M1758 396.5h1M1761 396.5h1M1764 396.5h1M1767 393.5h1M1770 393.5h1M1773 393.5h1M1776 393.5h1M1779 390.5h1M1782 390.5h1M1785 390.5h1M1788 387.5h1M1791 387.5h1M1794 387.5h1M1797 387.5h1M1800 384.5h1M1803 384.5h1M1806 384.5h1M1809 384.5h1M1812 381.5h1M1815 381.5h1M1818 381.5h1M1821 378.5h1M1824 378.5h1M1827 378.5h1M1830 378.5h1M1833 375.5h1M1836 375.5h1M1839 375.5h1M1842 375.5h1M1845 372.5h1M1848 372.5h1M1851 372.5h1M1854 369.5h1M1857 369.5h1M1860 369.5h1M1863 369.5h1M1866 366.5h1M1869 366.5h1M1872 366.5h1M1875 363.5h1M1878 363.5h1M1881 363.5h1M1884 363.5h1M1887 360.5h1M1890 360.5h1M1893 360.5h1M1896 360.5h1M1899 357.5h1M1902 357.5h1M1905 357.5h1M1908 354.5h1M1911 354.5h1M1914 354.5h1M1917 354.5h1M1920 351.5h1M1923 351.5h1M1926 351.5h1M1929 348.5h1M1932 348.5h1M1935 348.5h1M1938 348.5h1M1941 345.5h1M1944 345.5h1M1947 345.5h1M1950 345.5h1M1953 342.5h1M1956 342.5h1M1956 342.5h1M1959 345.5h1M1962 348.5h1M1965 351.5h1M1968 351.5h1M1971 354.5h1M1974 357.5h1M1977 360.5h1M1980 363.5h1M1983 366.5h1M1986 366.5h1M1989 369.5h1M1992 372.5h1M1995 375.5h1M1998 378.5h1M2001 381.5h1M2004 381.5h1M2007 384.5h1M2010 387.5h1M2013 390.5h1M2016 393.5h1M2019 396.5h1M2022 396.5h1M2025 399.5h1M2028 402.5h1M2031 405.5h1M2034 408.5h1M2037 411.5h1M2040 411.5h1M2043 414.5h1M2046 417.5h1M2049 420.5h1M2052 423.5h1M2055 426.5h1M2058 426.5h1M2061 429.5h1M2064 432.5h1M2067 435.5h1M2070 438.5h1M2073 441.5h1M2076 441.5h1M2079 444.5h1M2082 447.5h1M2085 450.5h1M2088 453.5h1M2091 456.5h1M2094 456.5h1M2097 459.5h1M2100 462.5h1M2103 465.5h1M2106 468.5h1M2109 471.5h1M2112 474.5h1M2115 474.5h1M2118 477.5h1M2121 480.5h1M2124 483.5h1M2127 486.5h1M2130 489.5h1M2133 489.5h1M2136 492.5h1M2139 495.5h1M2142 498.5h1M2145 501.5h1M2148 504.5h1M2151 504.5h1M2154 507.5h1M2157 510.5h1M2160 513.5h1M2163 516.5h1M2166 519.5h1M2169 519.5h1M2172 522.5h1M2175 525.5h1M2178 528.5h1M2181 531.5h1M2184 534.5h1M2187 534.5h1M2190 537.5h1M2193 540.5h1M2196 543.5h1M2199 546.5h1M2202 549.5h1M2205 549.5h1M2208 552.5h1M2211 555.5h1M2214 558.5h1M2217 561.5h1M2220 564.5h1M2223 564.5h1M2226 567.5h1M2229 570.5h1M2232 573.5h1M2235 576.5h1M2238 579.5h1M2241 579.5h1M2244 582.5h1M2247 585.5h1M2250 588.5h1M1446 417.5h1M1449 417.5h1M1452 414.5h1M1455 414.5h1M1458 414.5h1M1461 414.5h1M1464 411.5h1M1467 411.5h1M1470 411.5h1M1473 411.5h1M1476 408.5h1M1479 408.5h1M1482 408.5h1M1485 405.5h1M1488 405.5h1M1491 405.5h1M1494 405.5h1M1497 402.5h1M1500 402.5h1M1503 402.5h1M1506 399.5h1M1509 399.5h1M1512 399.5h1M1515 399.5h1M1518 396.5h1M1521 396.5h1M1524 396.5h1M1527 396.5h1M1530 393.5h1M1533 393.5h1M1536 393.5h1M1539 390.5h1M1542 390.5h1M1545 390.5h1M1548 390.5h1M1551 387.5h1M1554 387.5h1M1557 387.5h1M1560 384.5h1M1563 384.5h1M1566 384.5h1M1569 384.5h1M1572 381.5h1M1575 381.5h1M1578 381.5h1M1581 381.5h1M1584 378.5h1M1587 378.5h1M1590 378.5h1M1593 375.5h1M1596 375.5h1M1599 375.5h1M1602 375.5h1M1605 372.5h1M1608 372.5h1M1611 372.5h1M1614 372.5h1M1617 369.5h1M1620 369.5h1M1623 369.5h1M1626 366.5h1M1629 366.5h1M1632 366.5h1M1635 366.5h1M1638 363.5h1M1641 363.5h1M1644 363.5h1M1647 360.5h1M1650 360.5h1M1653 360.5h1M1656 360.5h1M1659 357.5h1M1662 357.5h1M1665 357.5h1M1668 357.5h1M1671 354.5h1M1674 354.5h1M1677 354.5h1M1680 351.5h1M1683 351.5h1M1686 351.5h1M1689 351.5h1M1692 348.5h1M1695 348.5h1M1698 348.5h1M1701 348.5h1M1704 345.5h1M1707 345.5h1M1710 345.5h1M1713 342.5h1M1716 342.5h1M1719 342.5h1M1722 342.5h1M1725 339.5h1M1728 339.5h1M1731 339.5h1M1734 336.5h1M1737 336.5h1M1740 336.5h1M1743 336.5h1M1746 333.5h1M1749 333.5h1M1752 333.5h1M1755 333.5h1M1758 330.5h1M1761 330.5h1M1764 330.5h1M1767 327.5h1M1770 327.5h1M1773 327.5h1M1776 327.5h1M1779 324.5h1M1782 324.5h1M1785 324.5h1M1788 321.5h1M1791 321.5h1M1794 321.5h1M1797 321.5h1M1800 318.5h1M1803 318.5h1M1806 318.5h1M1809 318.5h1M1812 315.5h1M1815 315.5h1M1818 315.5h1M1821 312.5h1M1824 312.5h1M1827 312.5h1M1830 312.5h1M1833 309.5h1M1836 309.5h1M1839 309.5h1M1842 309.5h1M1845 306.5h1M1848 306.5h1M1851 306.5h1M1854 303.5h1M1857 303.5h1M1860 303.5h1M1863 303.5h1M1866 300.5h1M1869 300.5h1M1872 300.5h1M1875 297.5h1M1878 297.5h1M1881 297.5h1M1884 297.5h1M1887 294.5h1M1890 294.5h1M1893 294.5h1M1896 294.5h1M1899 291.5h1M1902 291.5h1M1905 291.5h1M1908 288.5h1M1911 288.5h1M1914 288.5h1M1917 288.5h1M1920 285.5h1M1923 285.5h1M1926 285.5h1M1929 282.5h1M1932 282.5h1M1935 282.5h1M1938 282.5h1M1941 279.5h1M1944 279.5h1M1947 279.5h1M1950 279.5h1M1953 276.5h1M1956 276.5h1M1956 276.5h1M1959 279.5h1M1962 282.5h1M1965 285.5h1M1968 285.5h1M1971 288.5h1M1974 291.5h1M1977 294.5h1M1980 297.5h1M1983 300.5h1M1986 300.5h1M1989 303.5h1M1992 306.5h1M1995 309.5h1M1998 312.5h1M2001 315.5h1M2004 315.5h1M2007 318.5h1M2010 321.5h1M2013 324.5h1M2016 327.5h1M2019 330.5h1M2022 330.5h1M2025 333.5h1M2028 336.5h1M2031 339.5h1M2034 342.5h1M2037 345.5h1M2040 345.5h1M2043 348.5h1M2046 351.5h1M2049 354.5h1M2052 357.5h1M2055 360.5h1M2058 360.5h1M2061 363.5h1M2064 366.5h1M2067 369.5h1M2070 372.5h1M2073 375.5h1M2076 375.5h1M2079 378.5h1M2082 381.5h1M2085 384.5h1M2088 387.5h1M2091 390.5h1M2094 390.5h1M2097 393.5h1M2100 396.5h1M2103 399.5h1M2106 402.5h1M2109 405.5h1M2112 408.5h1M2115 408.5h1M2118 411.5h1M2121 414.5h1M2124 417.5h1M2127 420.5h1M2130 423.5h1M2133 423.5h1M2136 426.5h1M2139 429.5h1M2142 432.5h1M2145 435.5h1M2148 438.5h1M2151 438.5h1M2154 441.5h1M2157 444.5h1M2160 447.5h1M2163 450.5h1M2166 453.5h1M2169 453.5h1M2172 456.5h1M2175 459.5h1M2178 462.5h1M2181 465.5h1M2184 468.5h1M2187 468.5h1M2190 471.5h1M2193 474.5h1M2196 477.5h1M2199 480.5h1M2202 483.5h1M2205 483.5h1M2208 486.5h1M2211 489.5h1M2214 492.5h1M2217 495.5h1M2220 498.5h1M2223 498.5h1M2226 501.5h1M2229 504.5h1M2232 507.5h1M2235 510.5h1M2238 513.5h1M2241 513.5h1M2244 516.5h1M2247 519.5h1M2250 522.5h1M1446 348.5h1M1449 348.5h1M1452 345.5h1M1455 345.5h1M1458 345.5h1M1461 345.5h1M1464 342.5h1M1467 342.5h1M1470 342.5h1M1473 342.5h1M1476 339.5h1M1479 339.5h1M1482 339.5h1M1485 336.5h1M1488 336.5h1M1491 336.5h1M1494 336.5h1M1497 333.5h1M1500 333.5h1M1503 333.5h1M1506 330.5h1M1509 330.5h1M1512 330.5h1M1515 330.5h1M1518 327.5h1M1521 327.5h1M1524 327.5h1M1527 327.5h1M1530 324.5h1M1533 324.5h1M1536 324.5h1M1539 321.5h1M1542 321.5h1M1545 321.5h1M1548 321.5h1M1551 318.5h1M1554 318.5h1M1557 318.5h1M1560 315.5h1M1563 315.5h1M1566 315.5h1M1569 315.5h1M1572 312.5h1M1575 312.5h1M1578 312.5h1M1581 312.5h1M1584 309.5h1M1587 309.5h1M1590 309.5h1M1593 306.5h1M1596 306.5h1M1599 306.5h1M1602 306.5h1M1605 303.5h1M1608 303.5h1M1611 303.5h1M1614 303.5h1M1617 300.5h1M1620 300.5h1M1623 300.5h1M1626 297.5h1M1629 297.5h1M1632 297.5h1M1635 297.5h1M1638 294.5h1M1641 294.5h1M1644 294.5h1M1647 291.5h1M1650 291.5h1M1653 291.5h1M1656 291.5h1M1659 288.5h1M1662 288.5h1M1665 288.5h1M1668 288.5h1M1671 285.5h1M1674 285.5h1M1677 285.5h1M1680 282.5h1M1683 282.5h1M1686 282.5h1M1689 282.5h1M1692 279.5h1M1695 279.5h1M1698 279.5h1M1701 276.5h1M1704 276.5h1M1707 276.5h1M1710 276.5h1M1713 273.5h1M1716 273.5h1M1719 273.5h1M1722 273.5h1M1725 270.5h1M1728 270.5h1M1731 270.5h1M1734 267.5h1M1737 267.5h1M1740 267.5h1M1743 267.5h1M1746 264.5h1M1749 264.5h1M1752 264.5h1M1755 264.5h1M1758 261.5h1M1761 261.5h1M1764 261.5h1M1767 258.5h1M1770 258.5h1M1773 258.5h1M1776 258.5h1M1779 255.5h1M1782 255.5h1M1785 255.5h1M1788 252.5h1M1791 252.5h1M1794 252.5h1M1797 252.5h1M1800 249.5h1M1803 249.5h1M1806 249.5h1M1809 249.5h1M1812 246.5h1M1815 246.5h1M1818 246.5h1M1821 243.5h1M1824 243.5h1M1827 243.5h1M1830 243.5h1M1833 240.5h1M1836 240.5h1M1839 240.5h1M1842 240.5h1M1845 237.5h1M1848 237.5h1M1851 237.5h1M1854 234.5h1M1857 234.5h1M1860 234.5h1M1863 234.5h1M1866 231.5h1M1869 231.5h1M1872 231.5h1M1875 228.5h1M1878 228.5h1M1881 228.5h1M1884 228.5h1M1887 225.5h1M1890 225.5h1M1893 225.5h1M1896 225.5h1M1899 222.5h1M1902 222.5h1M1905 222.5h1M1908 219.5h1M1911 219.5h1M1914 219.5h1M1917 219.5h1M1920 216.5h1M1923 216.5h1M1926 216.5h1M1929 213.5h1M1932 213.5h1M1935 213.5h1M1938 213.5h1M1941 210.5h1M1944 210.5h1M1947 210.5h1M1950 210.5h1M1953 207.5h1M1956 207.5h1M1956 207.5h1M1959 210.5h1M1962 213.5h1M1965 216.5h1M1968 216.5h1M1971 219.5h1M1974 222.5h1M1977 225.5h1M1980 228.5h1M1983 231.5h1M1986 231.5h1M1989 234.5h1M1992 237.5h1M1995 240.5h1M1998 243.5h1M2001 246.5h1M2004 246.5h1M2007 249.5h1M2010 252.5h1M2013 255.5h1M2016 258.5h1M2019 261.5h1M2022 261.5h1M2025 264.5h1M2028 267.5h1M2031 270.5h1M2034 273.5h1M2037 276.5h1M2040 276.5h1M2043 279.5h1M2046 282.5h1M2049 285.5h1M2052 288.5h1M2055 291.5h1M2058 291.5h1M2061 294.5h1M2064 297.5h1M2067 300.5h1M2070 303.5h1M2073 306.5h1M2076 306.5h1M2079 309.5h1M2082 312.5h1M2085 315.5h1M2088 318.5h1M2091 321.5h1M2094 321.5h1M2097 324.5h1M2100 327.5h1M2103 330.5h1M2106 333.5h1M2109 336.5h1M2112 339.5h1M2115 339.5h1M2118 342.5h1M2121 345.5h1M2124 348.5h1M2127 351.5h1M2130 354.5h1M2133 354.5h1M2136 357.5h1M2139 360.5h1M2142 363.5h1M2145 366.5h1M2148 369.5h1M2151 369.5h1M2154 372.5h1M2157 375.5h1M2160 378.5h1M2163 381.5h1M2166 384.5h1M2169 384.5h1M2172 387.5h1M2175 390.5h1M2178 393.5h1M2181 396.5h1M2184 399.5h1M2187 399.5h1M2190 402.5h1M2193 405.5h1M2196 408.5h1M2199 411.5h1M2202 414.5h1M2205 414.5h1M2208 417.5h1M2211 420.5h1M2214 423.5h1M2217 426.5h1M2220 429.5h1M2223 429.5h1M2226 432.5h1M2229 435.5h1M2232 438.5h1M2235 441.5h1M2238 444.5h1M2241 444.5h1M2244 447.5h1M2247 450.5h1M2250 453.5h1M1446 282.5h1M1449 282.5h1M1452 279.5h1M1455 279.5h1M1458 279.5h1M1461 279.5h1M1464 276.5h1M1467 276.5h1M1470 276.5h1M1473 276.5h1M1476 273.5h1M1479 273.5h1M1482 273.5h1M1485 270.5h1M1488 270.5h1M1491 270.5h1M1494 270.5h1M1497 267.5h1M1500 267.5h1M1503 267.5h1M1506 264.5h1M1509 264.5h1M1512 264.5h1M1515 264.5h1M1518 261.5h1M1521 261.5h1M1524 261.5h1M1527 261.5h1M1530 258.5h1M1533 258.5h1M1536 258.5h1M1539 255.5h1M1542 255.5h1M1545 255.5h1M1548 255.5h1M1551 252.5h1M1554 252.5h1M1557 252.5h1M1560 249.5h1M1563 249.5h1M1566 249.5h1M1569 249.5h1M1572 246.5h1M1575 246.5h1M1578 246.5h1M1581 246.5h1M1584 243.5h1M1587 243.5h1M1590 243.5h1M1593 240.5h1M1596 240.5h1M1599 240.5h1M1602 240.5h1M1605 237.5h1M1608 237.5h1M1611 237.5h1M1614 237.5h1M1617 234.5h1M1620 234.5h1M1623 234.5h1M1626 231.5h1M1629 231.5h1M1632 231.5h1M1635 231.5h1M1638 228.5h1M1641 228.5h1M1644 228.5h1M1647 225.5h1M1650 225.5h1M1653 225.5h1M1656 225.5h1M1659 222.5h1M1662 222.5h1M1665 222.5h1M1668 222.5h1M1671 219.5h1M1674 219.5h1M1677 219.5h1M1680 216.5h1M1683 216.5h1M1686 216.5h1M1689 216.5h1M1692 213.5h1M1695 213.5h1M1698 213.5h1M1701 210.5h1M1704 210.5h1M1707 210.5h1M1710 210.5h1M1713 207.5h1M1716 207.5h1M1719 207.5h1M1722 207.5h1M1725 204.5h1M1728 204.5h1M1731 204.5h1M1734 201.5h1M1737 201.5h1M1740 201.5h1M1743 201.5h1M1746 198.5h1M1749 198.5h1M1752 198.5h1M1755 198.5h1M1758 195.5h1M1761 195.5h1M1764 195.5h1M1767 192.5h1M1770 192.5h1M1773 192.5h1M1776 192.5h1M1779 189.5h1M1782 189.5h1M1785 189.5h1M1788 186.5h1M1791 186.5h1M1794 186.5h1M1797 186.5h1M1800 183.5h1M1803 183.5h1M1806 183.5h1M1809 183.5h1M1812 180.5h1M1815 180.5h1M1818 180.5h1M1821 177.5h1M1824 177.5h1M1827 177.5h1M1830 177.5h1M1833 174.5h1M1836 174.5h1M1839 174.5h1M1842 174.5h1M1845 171.5h1M1848 171.5h1M1851 171.5h1M1854 168.5h1M1857 168.5h1M1860 168.5h1M1863 168.5h1M1866 165.5h1M1869 165.5h1M1872 165.5h1M1875 162.5h1M1878 162.5h1M1881 162.5h1M1884 162.5h1M1887 159.5h1M1890 159.5h1M1893 159.5h1M1896 159.5h1M1899 156.5h1M1902 156.5h1M1905 156.5h1M1908 153.5h1M1911 153.5h1M1914 153.5h1M1917 153.5h1M1920 150.5h1M1923 150.5h1M1926 150.5h1M1929 147.5h1M1932 147.5h1M1935 147.5h1M1938 147.5h1M1941 144.5h1M1944 144.5h1M1947 144.5h1M1950 144.5h1M1953 141.5h1M1956 141.5h1M1956 141.5h1M1959 144.5h1M1962 147.5h1M1965 150.5h1M1968 150.5h1M1971 153.5h1M1974 156.5h1M1977 159.5h1M1980 162.5h1M1983 165.5h1M1986 165.5h1M1989 168.5h1M1992 171.5h1M1995 174.5h1M1998 177.5h1M2001 180.5h1M2004 180.5h1M2007 183.5h1M2010 186.5h1M2013 189.5h1M2016 192.5h1M2019 195.5h1M2022 195.5h1M2025 198.5h1M2028 201.5h1M2031 204.5h1M2034 207.5h1M2037 210.5h1M2040 210.5h1M2043 213.5h1M2046 216.5h1M2049 219.5h1M2052 222.5h1M2055 225.5h1M2058 225.5h1M2061 228.5h1M2064 231.5h1M2067 234.5h1M2070 237.5h1M2073 240.5h1M2076 240.5h1M2079 243.5h1M2082 246.5h1M2085 249.5h1M2088 252.5h1M2091 255.5h1M2094 255.5h1M2097 258.5h1M2100 261.5h1M2103 264.5h1M2106 267.5h1M2109 270.5h1M2112 273.5h1M2115 273.5h1M2118 276.5h1M2121 279.5h1M2124 282.5h1M2127 285.5h1M2130 288.5h1M2133 288.5h1M2136 291.5h1M2139 294.5h1M2142 297.5h1M2145 300.5h1M2148 303.5h1M2151 303.5h1M2154 306.5h1M2157 309.5h1M2160 312.5h1M2163 315.5h1M2166 318.5h1M2169 318.5h1M2172 321.5h1M2175 324.5h1M2178 327.5h1M2181 330.5h1M2184 333.5h1M2187 333.5h1M2190 336.5h1M2193 339.5h1M2196 342.5h1M2199 345.5h1M2202 348.5h1M2205 348.5h1M2208 351.5h1M2211 354.5h1M2214 357.5h1M2217 360.5h1M2220 363.5h1M2223 363.5h1M2226 366.5h1M2229 369.5h1M2232 372.5h1M2235 375.5h1M2238 378.5h1M2241 378.5h1M2244 381.5h1M2247 384.5h1M2250 387.5h1" stroke="#000" stroke-width="1" fill="none"/>
<g fill="#fff" stroke="#00f" stroke-width="0.9" stroke-linejoin="round" shape-rendering="geometricPrecision"><polygon points="1950.5,621.5 1959.5,618.5 1953.5,612.5 1944.5,615.5"/><polygon points="1938.5,624.5 1950.5,621.5 1944.5,615.5 1932.5,618.5"/><polygon points="1929.5,624.5 1938.5,624.5 1932.5,618.5 1923.5,621.5"/><polygon points="1920.5,627.5 1929.5,624.5 1923.5,621.5 1914.5,624.5"/><polygon points="1908.5,630.5 1920.5,627.5 1914.5,624.5 1902.5,627.5"/><polygon points="1899.5,633.5 1908.5,630.5 1902.5,627.5 1893.5,630.5"/><polygon points="1887.5,636.5 1899.5,633.5 1893.5,630.5 1881.5,630.5"/><polygon points="1878.5,639.5 1887.5,636.5 1881.5,630.5 1872.5,633.5"/><polygon points="1869.5,642.5 1878.5,639.5 1872.5,633.5 1863.5,636.5"/><polygon points="1857.5,642.5 1869.5,642.5 1863.5,636.5 1851.5,636.5"/><polygon points="1848.5,624.5 1857.5,642.5 1851.5,636.5 1842.5,606.5"/><polygon points="1836.5,549.5 1848.5,624.5 1842.5,606.5 1830.5,507.5"/><polygon points="1827.5,411.5 1836.5,549.5 1830.5,507.5 1821.5,366.5"/><polygon points="1818.5,306.5 1827.5,411.5 1821.5,366.5 1812.5,282.5"/><polygon points="1806.5,270.5 1818.5,306.5 1812.5,282.5 1800.5,264.5"/><polygon points="1797.5,267.5 1806.5,270.5 1800.5,264.5 1791.5,264.5"/><polygon points="1785.5,270.5 1797.5,267.5 1791.5,264.5 1779.5,264.5"/><polygon points="1776.5,273.5 1785.5,270.5 1779.5,264.5 1770.5,267.5"/><polygon points="1767.5,276.5 1776.5,273.5 1770.5,267.5 1761.5,273.5"/><polygon points="1755.5,285.5 1767.5,276.5 1761.5,273.5 1749.5,288.5"/><polygon points="1746.5,333.5 1755.5,285.5 1749.5,288.5 1740.5,354.5"/><polygon points="1734.5,453.5 1746.5,333.5 1740.5,354.5 1728.5,492.5"/><polygon points="1725.5,591.5 1734.5,453.5 1728.5,492.5 1719.5,618.5"/><polygon points="1716.5,666.5 1725.5,591.5 1719.5,618.5 1710.5,669.5"/><polygon points="1704.5,684.5 1716.5,666.5 1710.5,669.5 1698.5,681.5"/><polygon points="1695.5,690.5 1704.5,684.5 1698.5,681.5 1689.5,684.5"/><polygon points="1683.5,693.5 1695.5,690.5 1689.5,684.5 1677.5,687.5"/><polygon points="1674.5,696.5 1683.5,693.5 1677.5,687.5 1668.5,690.5"/><polygon points="1665.5,699.5 1674.5,696.5 1668.5,690.5 1659.5,693.5"/><polygon points="1653.5,702.5 1665.5,699.5 1659.5,693.5 1647.5,696.5"/><polygon points="1644.5,705.5 1653.5,702.5 1647.5,696.5 1638.5,699.5"/><polygon points="1632.5,708.5 1644.5,705.5 1638.5,699.5 1626.5,702.5"/><polygon points="1623.5,711.5 1632.5,708.5 1626.5,702.5 1617.5,705.5"/><polygon points="1614.5,714.5 1623.5,711.5 1617.5,705.5 1608.5,708.5"/><polygon points="1602.5,717.5 1614.5,714.5 1608.5,708.5 1596.5,711.5"/><polygon points="1593.5,720.5 1602.5,717.5 1596.5,711.5 1587.5,714.5"/><polygon points="1581.5,720.5 1593.5,720.5 1587.5,714.5 1575.5,717.5"/><polygon points="1572.5,723.5 1581.5,720.5 1575.5,717.5 1566.5,720.5"/><polygon points="1563.5,726.5 1572.5,723.5 1566.5,720.5 1557.5,723.5"/><polygon points="1551.5,729.5 1563.5,726.5 1557.5,723.5 1545.5,726.5"/><polygon points="1542.5,732.5 1551.5,729.5 1545.5,726.5 1536.5,729.5"/><polygon points="1530.5,735.5 1542.5,732.5 1536.5,729.5 1524.5,732.5"/><polygon points="1521.5,738.5 1530.5,735.5 1524.5,732.5 1515.5,732.5"/><polygon points="1512.5,741.5 1521.5,738.5 1515.5,732.5 1506.5,735.5"/><polygon points="1500.5,744.5 1512.5,741.5 1506.5,735.5 1494.5,738.5"/><polygon points="1491.5,747.5 1500.5,744.5 1494.5,738.5 1485.5,741.5"/><polygon points="1479.5,750.5 1491.5,747.5 1485.5,741.5 1473.5,744.5"/><polygon points="1470.5,753.5 1479.5,750.5 1473.5,744.5 1464.5,747.5"/><polygon points="1461.5,756.5 1470.5,753.5 1464.5,747.5 1455.5,750.5"/><polygon points="1956.5,624.5 1965.5,621.5 1959.5,618.5 1950.5,621.5"/><polygon points="1944.5,627.5 1956.5,624.5 1950.5,621.5 1938.5,624.5"/><polygon points="1935.5,630.5 1944.5,627.5 1938.5,624.5 1929.5,624.5"/><polygon points="1926.5,633.5 1935.5,630.5 1929.5,624.5 1920.5,627.5"/><polygon points="1914.5,636.5 1926.5,633.5 1920.5,627.5 1908.5,630.5"/><polygon points="1905.5,639.5 1914.5,636.5 1908.5,630.5 1899.5,633.5"/><polygon points="1893.5,642.5 1905.5,639.5 1899.5,633.5 1887.5,636.5"/><polygon points="1884.5,645.5 1893.5,642.5 1887.5,636.5 1878.5,639.5"/><polygon points="1875.5,648.5 1884.5,645.5 1878.5,639.5 1869.5,642.5"/><polygon points="1863.5,648.5 1875.5,648.5 1869.5,642.5 1857.5,642.5"/><polygon points="1854.5,639.5 1863.5,648.5 1857.5,642.5 1848.5,624.5"/><polygon points="1842.5,588.5 1854.5,639.5 1848.5,624.5 1836.5,549.5"/><polygon points="1833.5,462.5 1842.5,588.5 1836.5,549.5 1827.5,411.5"/><polygon points="1824.5,336.5 1833.5,462.5 1827.5,411.5 1818.5,306.5"/><polygon points="1812.5,282.5 1824.5,336.5 1818.5,306.5 1806.5,270.5"/><polygon points="1803.5,273.5 1812.5,282.5 1806.5,270.5 1797.5,267.5"/><polygon points="1791.5,276.5 1803.5,273.5 1797.5,267.5 1785.5,270.5"/><polygon points="1782.5,279.5 1791.5,276.5 1785.5,270.5 1776.5,273.5"/><polygon points="1773.5,282.5 1782.5,279.5 1776.5,273.5 1767.5,276.5"/><polygon points="1761.5,288.5 1773.5,282.5 1767.5,276.5 1755.5,285.5"/><polygon points="1752.5,318.5 1761.5,288.5 1755.5,285.5 1746.5,333.5"/><polygon points="1740.5,414.5 1752.5,318.5 1746.5,333.5 1734.5,453.5"/><polygon points="1731.5,561.5 1740.5,414.5 1734.5,453.5 1725.5,591.5"/><polygon points="1722.5,657.5 1731.5,561.5 1725.5,591.5 1716.5,666.5"/><polygon points="1710.5,687.5 1722.5,657.5 1716.5,666.5 1704.5,684.5"/><polygon points="1701.5,693.5 1710.5,687.5 1704.5,684.5 1695.5,690.5"/><polygon points="1689.5,699.5 1701.5,693.5 1695.5,690.5 1683.5,693.5"/><polygon points="1680.5,702.5 1689.5,699.5 1683.5,693.5 1674.5,696.5"/><polygon points="1671.5,705.5 1680.5,702.5 1674.5,696.5 1665.5,699.5"/><polygon points="1659.5,705.5 1671.5,705.5 1665.5,699.5 1653.5,702.5"/><polygon points="1650.5,708.5 1659.5,705.5 1653.5,702.5 1644.5,705.5"/><polygon points="1638.5,711.5 1650.5,708.5 1644.5,705.5 1632.5,708.5"/><polygon points="1629.5,714.5 1638.5,711.5 1632.5,708.5 1623.5,711.5"/><polygon points="1620.5,717.5 1629.5,714.5 1623.5,711.5 1614.5,714.5"/><polygon points="1608.5,720.5 1620.5,717.5 1614.5,714.5 1602.5,717.5"/><polygon points="1599.5,723.5 1608.5,720.5 1602.5,717.5 1593.5,720.5"/><polygon points="1587.5,726.5 1599.5,723.5 1593.5,720.5 1581.5,720.5"/><polygon points="1578.5,729.5 1587.5,726.5 1581.5,720.5 1572.5,723.5"/><polygon points="1569.5,732.5 1578.5,729.5 1572.5,723.5 1563.5,726.5"/><polygon points="1557.5,735.5 1569.5,732.5 1563.5,726.5 1551.5,729.5"/><polygon points="1548.5,738.5 1557.5,735.5 1551.5,729.5 1542.5,732.5"/><polygon points="1536.5,741.5 1548.5,738.5 1542.5,732.5 1530.5,735.5"/><polygon points="1527.5,744.5 1536.5,741.5 1530.5,735.5 1521.5,738.5"/><polygon points="1518.5,747.5 1527.5,744.5 1521.5,738.5 1512.5,741.5"/><polygon points="1506.5,750.5 1518.5,747.5 1512.5,741.5 1500.5,744.5"/><polygon points="1497.5,753.5 1506.5,750.5 1500.5,744.5 1491.5,747.5"/><polygon points="1485.5,756.5 1497.5,753.5 1491.5,747.5 1479.5,750.5"/><polygon points="1476.5,756.5 1485.5,756.5 1479.5,750.5 1470.5,753.5"/><polygon points="1467.5,759.5 1476.5,756.5 1470.5,753.5 1461.5,756.5"/><polygon points="1962.5,630.5 1971.5,627.5 1965.5,621.5 1956.5,624.5"/><polygon points="1950.5,633.5 1962.5,630.5 1956.5,624.5 1944.5,627.5"/><polygon points="1941.5,636.5 1950.5,633.5 1944.5,627.5 1935.5,630.5"/><polygon points="1932.5,639.5 1941.5,636.5 1935.5,630.5 1926.5,633.5"/><polygon points="1920.5,642.5 1932.5,639.5 1926.5,633.5 1914.5,636.5"/><polygon points="1911.5,642.5 1920.5,642.5 1914.5,636.5 1905.5,639.5"/><polygon points="1899.5,645.5 1911.5,642.5 1905.5,639.5 1893.5,642.5"/><polygon points="1890.5,648.5 1899.5,645.5 1893.5,642.5 1884.5,645.5"/><polygon points="1881.5,651.5 1890.5,648.5 1884.5,645.5 1875.5,648.5"/><polygon points="1869.5,654.5 1881.5,651.5 1875.5,648.5 1863.5,648.5"/><polygon points="1860.5,651.5 1869.5,654.5 1863.5,648.5 1854.5,639.5"/><polygon points="1848.5,615.5 1860.5,651.5 1854.5,639.5 1842.5,588.5"/><polygon points="1839.5,510.5 1848.5,615.5 1842.5,588.5 1833.5,462.5"/><polygon points="1830.5,372.5 1839.5,510.5 1833.5,462.5 1824.5,336.5"/><polygon points="1818.5,297.5 1830.5,372.5 1824.5,336.5 1812.5,282.5"/><polygon points="1809.5,279.5 1818.5,297.5 1812.5,282.5 1803.5,273.5"/><polygon points="1797.5,279.5 1809.5,279.5 1803.5,273.5 1791.5,276.5"/><polygon points="1788.5,282.5 1797.5,279.5 1791.5,276.5 1782.5,279.5"/><polygon points="1779.5,285.5 1788.5,282.5 1782.5,279.5 1773.5,282.5"/><polygon points="1767.5,291.5 1779.5,285.5 1773.5,282.5 1761.5,288.5"/><polygon points="1758.5,309.5 1767.5,291.5 1761.5,288.5 1752.5,318.5"/><polygon points="1746.5,384.5 1758.5,309.5 1752.5,318.5 1740.5,414.5"/><polygon points="1737.5,525.5 1746.5,384.5 1740.5,414.5 1731.5,561.5"/><polygon points="1728.5,642.5 1737.5,525.5 1731.5,561.5 1722.5,657.5"/><polygon points="1716.5,690.5 1728.5,642.5 1722.5,657.5 1710.5,687.5"/><polygon points="1707.5,699.5 1716.5,690.5 1710.5,687.5 1701.5,693.5"/><polygon points="1695.5,702.5 1707.5,699.5 1701.5,693.5 1689.5,699.5"/><polygon points="1686.5,705.5 1695.5,702.5 1689.5,699.5 1680.5,702.5"/><polygon points="1677.5,708.5 1686.5,705.5 1680.5,702.5 1671.5,705.5"/><polygon points="1665.5,711.5 1677.5,708.5 1671.5,705.5 1659.5,705.5"/><polygon points="1656.5,714.5 1665.5,711.5 1659.5,705.5 1650.5,708.5"/><polygon points="1644.5,717.5 1656.5,714.5 1650.5,708.5 1638.5,711.5"/><polygon points="1635.5,720.5 1644.5,717.5 1638.5,711.5 1629.5,714.5"/><polygon points="1626.5,723.5 1635.5,720.5 1629.5,714.5 1620.5,717.5"/><polygon points="1614.5,726.5 1626.5,723.5 1620.5,717.5 1608.5,720.5"/><polygon points="1605.5,729.5 1614.5,726.5 1608.5,720.5 1599.5,723.5"/><polygon points="1593.5,732.5 1605.5,729.5 1599.5,723.5 1587.5,726.5"/><polygon points="1584.5,735.5 1593.5,732.5 1587.5,726.5 1578.5,729.5"/><polygon points="1575.5,738.5 1584.5,735.5 1578.5,729.5 1569.5,732.5"/><polygon points="1563.5,741.5 1575.5,738.5 1569.5,732.5 1557.5,735.5"/><polygon points="1554.5,744.5 1563.5,741.5 1557.5,735.5 1548.5,738.5"/><polygon points="1542.5,744.5 1554.5,744.5 1548.5,738.5 1536.5,741.5"/><polygon points="1533.5,747.5 1542.5,744.5 1536.5,741.5 1527.5,744.5"/><polygon points="1524.5,750.5 1533.5,747.5 1527.5,744.5 1518.5,747.5"/><polygon points="1512.5,753.5 1524.5,750.5 1518.5,747.5 1506.5,750.5"/><polygon points="1503.5,756.5 1512.5,753.5 1506.5,750.5 1497.5,753.5"/><polygon points="1491.5,759.5 1503.5,756.5 1497.5,753.5 1485.5,756.5"/><polygon points="1482.5,762.5 1491.5,759.5 1485.5,756.5 1476.5,756.5"/><polygon points="1473.5,765.5 1482.5,762.5 1476.5,756.5 1467.5,759.5"/><polygon points="1968.5,636.5 1977.5,633.5 1971.5,627.5 1962.5,630.5"/><polygon points="1956.5,636.5 1968.5,636.5 1962.5,630.5 1950.5,633.5"/><polygon points="1947.5,639.5 1956.5,636.5 1950.5,633.5 1941.5,636.5"/><polygon points="1938.5,642.5 1947.5,639.5 1941.5,636.5 1932.5,639.5"/><polygon points="1926.5,645.5 1938.5,642.5 1932.5,639.5 1920.5,642.5"/><polygon points="1917.5,648.5 1926.5,645.5 1920.5,642.5 1911.5,642.5"/><polygon points="1905.5,651.5 1917.5,648.5 1911.5,642.5 1899.5,645.5"/><polygon points="1896.5,654.5 1905.5,651.5 1899.5,645.5 1890.5,648.5"/><polygon points="1887.5,657.5 1896.5,654.5 1890.5,648.5 1881.5,651.5"/><polygon points="1875.5,660.5 1887.5,657.5 1881.5,651.5 1869.5,654.5"/><polygon points="1866.5,660.5 1875.5,660.5 1869.5,654.5 1860.5,651.5"/><polygon points="1854.5,639.5 1866.5,660.5 1860.5,651.5 1848.5,615.5"/><polygon points="1845.5,555.5 1854.5,639.5 1848.5,615.5 1839.5,510.5"/><polygon points="1836.5,414.5 1845.5,555.5 1839.5,510.5 1830.5,372.5"/><polygon points="1824.5,315.5 1836.5,414.5 1830.5,372.5 1818.5,297.5"/><polygon points="1815.5,288.5 1824.5,315.5 1818.5,297.5 1809.5,279.5"/><polygon points="1803.5,285.5 1815.5,288.5 1809.5,279.5 1797.5,279.5"/><polygon points="1794.5,288.5 1803.5,285.5 1797.5,279.5 1788.5,282.5"/><polygon points="1785.5,291.5 1794.5,288.5 1788.5,282.5 1779.5,285.5"/><polygon points="1773.5,294.5 1785.5,291.5 1779.5,285.5 1767.5,291.5"/><polygon points="1764.5,306.5 1773.5,294.5 1767.5,291.5 1758.5,309.5"/><polygon points="1752.5,360.5 1764.5,306.5 1758.5,309.5 1746.5,384.5"/><polygon points="1743.5,483.5 1752.5,360.5 1746.5,384.5 1737.5,525.5"/><polygon points="1734.5,621.5 1743.5,483.5 1737.5,525.5 1728.5,642.5"/><polygon points="1722.5,687.5 1734.5,621.5 1728.5,642.5 1716.5,690.5"/><polygon points="1713.5,702.5 1722.5,687.5 1716.5,690.5 1707.5,699.5"/><polygon points="1701.5,708.5 1713.5,702.5 1707.5,699.5 1695.5,702.5"/><polygon points="1692.5,711.5 1701.5,708.5 1695.5,702.5 1686.5,705.5"/><polygon points="1683.5,714.5 1692.5,711.5 1686.5,705.5 1677.5,708.5"/><polygon points="1671.5,717.5 1683.5,714.5 1677.5,708.5 1665.5,711.5"/><polygon points="1662.5,720.5 1671.5,717.5 1665.5,711.5 1656.5,714.5"/><polygon points="1650.5,723.5 1662.5,720.5 1656.5,714.5 1644.5,717.5"/><polygon points="1641.5,726.5 1650.5,723.5 1644.5,717.5 1635.5,720.5"/><polygon points="1632.5,729.5 1641.5,726.5 1635.5,720.5 1626.5,723.5"/><polygon points="1620.5,732.5 1632.5,729.5 1626.5,723.5 1614.5,726.5"/><polygon points="1611.5,732.5 1620.5,732.5 1614.5,726.5 1605.5,729.5"/><polygon points="1599.5,735.5 1611.5,732.5 1605.5,729.5 1593.5,732.5"/><polygon points="1590.5,738.5 1599.5,735.5 1593.5,732.5 1584.5,735.5"/><polygon points="1581.5,741.5 1590.5,738.5 1584.5,735.5 1575.5,738.5"/><polygon points="1569.5,744.5 1581.5,741.5 1575.5,738.5 1563.5,741.5"/><polygon points="1560.5,747.5 1569.5,744.5 1563.5,741.5 1554.5,744.5"/><polygon points="1548.5,750.5 1560.5,747.5 1554.5,744.5 1542.5,744.5"/><polygon points="1539.5,753.5 1548.5,750.5 1542.5,744.5 1533.5,747.5"/><polygon points="1530.5,756.5 1539.5,753.5 1533.5,747.5 1524.5,750.5"/><polygon points="1518.5,759.5 1530.5,756.5 1524.5,750.5 1512.5,753.5"/><polygon points="1509.5,762.5 1518.5,759.5 1512.5,753.5 1503.5,756.5"/><polygon points="1497.5,765.5 1509.5,762.5 1503.5,756.5 1491.5,759.5"/><polygon points="1488.5,768.5 1497.5,765.5 1491.5,759.5 1482.5,762.5"/><polygon points="1479.5,771.5 1488.5,768.5 1482.5,762.5 1473.5,765.5"/><polygon points="1974.5,639.5 1983.5,636.5 1977.5,633.5 1968.5,636.5"/><polygon points="1962.5,642.5 1974.5,639.5 1968.5,636.5 1956.5,636.5"/><polygon points="1953.5,645.5 1962.5,642.5 1956.5,636.5 1947.5,639.5"/><polygon points="1941.5,648.5 1953.5,645.5 1947.5,639.5 1938.5,642.5"/><polygon points="1932.5,651.5 1941.5,648.5 1938.5,642.5 1926.5,645.5"/><polygon points="1923.5,654.5 1932.5,651.5 1926.5,645.5 1917.5,648.5"/><polygon points="1911.5,657.5 1923.5,654.5 1917.5,648.5 1905.5,651.5"/><polygon points="1902.5,660.5 1911.5,657.5 1905.5,651.5 1896.5,654.5"/><polygon points="1890.5,660.5 1902.5,660.5 1896.5,654.5 1887.5,657.5"/><polygon points="1881.5,663.5 1890.5,660.5 1887.5,657.5 1875.5,660.5"/><polygon points="1872.5,666.5 1881.5,663.5 1875.5,660.5 1866.5,660.5"/><polygon points="1860.5,654.5 1872.5,666.5 1866.5,660.5 1854.5,639.5"/><polygon points="1851.5,594.5 1860.5,654.5 1854.5,639.5 1845.5,555.5"/><polygon points="1839.5,462.5 1851.5,594.5 1845.5,555.5 1836.5,414.5"/><polygon points="1830.5,342.5 1839.5,462.5 1836.5,414.5 1824.5,315.5"/><polygon points="1821.5,297.5 1830.5,342.5 1824.5,315.5 1815.5,288.5"/><polygon points="1809.5,291.5 1821.5,297.5 1815.5,288.5 1803.5,285.5"/><polygon points="1800.5,294.5 1809.5,291.5 1803.5,285.5 1794.5,288.5"/><polygon points="1788.5,297.5 1800.5,294.5 1794.5,288.5 1785.5,291.5"/><polygon points="1779.5,300.5 1788.5,297.5 1785.5,291.5 1773.5,294.5"/><polygon points="1770.5,306.5 1779.5,300.5 1773.5,294.5 1764.5,306.5"/><polygon points="1758.5,342.5 1770.5,306.5 1764.5,306.5 1752.5,360.5"/><polygon points="1749.5,447.5 1758.5,342.5 1752.5,360.5 1743.5,483.5"/><polygon points="1737.5,591.5 1749.5,447.5 1743.5,483.5 1734.5,621.5"/><polygon points="1728.5,681.5 1737.5,591.5 1734.5,621.5 1722.5,687.5"/><polygon points="1719.5,708.5 1728.5,681.5 1722.5,687.5 1713.5,702.5"/><polygon points="1707.5,711.5 1719.5,708.5 1713.5,702.5 1701.5,708.5"/><polygon points="1698.5,714.5 1707.5,711.5 1701.5,708.5 1692.5,711.5"/><polygon points="1686.5,717.5 1698.5,714.5 1692.5,711.5 1683.5,714.5"/><polygon points="1677.5,720.5 1686.5,717.5 1683.5,714.5 1671.5,717.5"/><polygon points="1668.5,723.5 1677.5,720.5 1671.5,717.5 1662.5,720.5"/><polygon points="1656.5,726.5 1668.5,723.5 1662.5,720.5 1650.5,723.5"/><polygon points="1647.5,729.5 1656.5,726.5 1650.5,723.5 1641.5,726.5"/><polygon points="1635.5,732.5 1647.5,729.5 1641.5,726.5 1632.5,729.5"/><polygon points="1626.5,735.5 1635.5,732.5 1632.5,729.5 1620.5,732.5"/><polygon points="1617.5,738.5 1626.5,735.5 1620.5,732.5 1611.5,732.5"/><polygon points="1605.5,741.5 1617.5,738.5 1611.5,732.5 1599.5,735.5"/><polygon points="1596.5,744.5 1605.5,741.5 1599.5,735.5 1590.5,738.5"/><polygon points="1584.5,747.5 1596.5,744.5 1590.5,738.5 1581.5,741.5"/><polygon points="1575.5,750.5 1584.5,747.5 1581.5,741.5 1569.5,744.5"/><polygon points="1566.5,753.5 1575.5,750.5 1569.5,744.5 1560.5,747.5"/><polygon points="1554.5,756.5 1566.5,753.5 1560.5,747.5 1548.5,750.5"/><polygon points="1545.5,759.5 1554.5,756.5 1548.5,750.5 1539.5,753.5"/><polygon points="1533.5,762.5 1545.5,759.5 1539.5,753.5 1530.5,756.5"/><polygon points="1524.5,765.5 1533.5,762.5 1530.5,756.5 1518.5,759.5"/><polygon points="1515.5,768.5 1524.5,765.5 1518.5,759.5 1509.5,762.5"/><polygon points="1503.5,768.5 1515.5,768.5 1509.5,762.5 1497.5,765.5"/><polygon points="1494.5,771.5 1503.5,768.5 1497.5,765.5 1488.5,768.5"/><polygon points="1482.5,774.5 1494.5,771.5 1488.5,768.5 1479.5,771.5"/><polygon points="1980.5,645.5 1989.5,642.5 1983.5,636.5 1974.5,639.5"/><polygon points="1968.5,648.5 1980.5,645.5 1974.5,639.5 1962.5,642.5"/><polygon points="1959.5,651.5 1968.5,648.5 1962.5,642.5 1953.5,645.5"/><polygon points="1947.5,654.5 1959.5,651.5 1953.5,645.5 1941.5,648.5"/><polygon points="1938.5,657.5 1947.5,654.5 1941.5,648.5 1932.5,651.5"/><polygon points="1929.5,657.5 1938.5,657.5 1932.5,651.5 1923.5,654.5"/><polygon points="1917.5,660.5 1929.5,657.5 1923.5,654.5 1911.5,657.5"/><polygon points="1908.5,663.5 1917.5,660.5 1911.5,657.5 1902.5,660.5"/><polygon points="1896.5,666.5 1908.5,663.5 1902.5,660.5 1890.5,660.5"/><polygon points="1887.5,669.5 1896.5,666.5 1890.5,660.5 1881.5,663.5"/><polygon points="1878.5,672.5 1887.5,669.5 1881.5,663.5 1872.5,666.5"/><polygon points="1866.5,666.5 1878.5,672.5 1872.5,666.5 1860.5,654.5"/><polygon points="1857.5,627.5 1866.5,666.5 1860.5,654.5 1851.5,594.5"/><polygon points="1845.5,513.5 1857.5,627.5 1851.5,594.5 1839.5,462.5"/><polygon points="1836.5,378.5 1845.5,513.5 1839.5,462.5 1830.5,342.5"/><polygon points="1827.5,309.5 1836.5,378.5 1830.5,342.5 1821.5,297.5"/><polygon points="1815.5,297.5 1827.5,309.5 1821.5,297.5 1809.5,291.5"/><polygon points="1806.5,297.5 1815.5,297.5 1809.5,291.5 1800.5,294.5"/><polygon points="1794.5,300.5 1806.5,297.5 1800.5,294.5 1788.5,297.5"/><polygon points="1785.5,303.5 1794.5,300.5 1788.5,297.5 1779.5,300.5"/><polygon points="1776.5,309.5 1785.5,303.5 1779.5,300.5 1770.5,306.5"/><polygon points="1764.5,330.5 1776.5,309.5 1770.5,306.5 1758.5,342.5"/><polygon points="1755.5,414.5 1764.5,330.5 1758.5,342.5 1749.5,447.5"/><polygon points="1743.5,555.5 1755.5,414.5 1749.5,447.5 1737.5,591.5"/><polygon points="1734.5,669.5 1743.5,555.5 1737.5,591.5 1728.5,681.5"/><polygon points="1725.5,708.5 1734.5,669.5 1728.5,681.5 1719.5,708.5"/><polygon points="1713.5,717.5 1725.5,708.5 1719.5,708.5 1707.5,711.5"/><polygon points="1704.5,720.5 1713.5,717.5 1707.5,711.5 1698.5,714.5"/><polygon points="1692.5,723.5 1704.5,720.5 1698.5,714.5 1686.5,717.5"/><polygon points="1683.5,726.5 1692.5,723.5 1686.5,717.5 1677.5,720.5"/><polygon points="1674.5,729.5 1683.5,726.5 1677.5,720.5 1668.5,723.5"/><polygon points="1662.5,732.5 1674.5,729.5 1668.5,723.5 1656.5,726.5"/><polygon points="1653.5,735.5 1662.5,732.5 1656.5,726.5 1647.5,729.5"/><polygon points="1641.5,738.5 1653.5,735.5 1647.5,729.5 1635.5,732.5"/><polygon points="1632.5,741.5 1641.5,738.5 1635.5,732.5 1626.5,735.5"/><polygon points="1623.5,744.5 1632.5,741.5 1626.5,735.5 1617.5,738.5"/><polygon points="1611.5,747.5 1623.5,744.5 1617.5,738.5 1605.5,741.5"/><polygon points="1602.5,750.5 1611.5,747.5 1605.5,741.5 1596.5,744.5"/><polygon points="1590.5,753.5 1602.5,750.5 1596.5,744.5 1584.5,747.5"/><polygon points="1581.5,756.5 1590.5,753.5 1584.5,747.5 1575.5,750.5"/><polygon points="1572.5,756.5 1581.5,756.5 1575.5,750.5 1566.5,753.5"/><polygon points="1560.5,759.5 1572.5,756.5 1566.5,753.5 1554.5,756.5"/><polygon points="1551.5,762.5 1560.5,759.5 1554.5,756.5 1545.5,759.5"/><polygon points="1539.5,765.5 1551.5,762.5 1545.5,759.5 1533.5,762.5"/><polygon points="1530.5,768.5 1539.5,765.5 1533.5,762.5 1524.5,765.5"/><polygon points="1521.5,771.5 1530.5,768.5 1524.5,765.5 1515.5,768.5"/><polygon points="1509.5,774.5 1521.5,771.5 1515.5,768.5 1503.5,768.5"/><polygon points="1500.5,777.5 1509.5,774.5 1503.5,768.5 1494.5,771.5"/><polygon points="1488.5,780.5 1500.5,777.5 1494.5,771.5 1482.5,774.5"/><polygon points="1986.5,648.5 1995.5,648.5 1989.5,642.5 1980.5,645.5"/><polygon points="1974.5,651.5 1986.5,648.5 1980.5,645.5 1968.5,648.5"/><polygon points="1965.5,654.5 1974.5,651.5 1968.5,648.5 1959.5,651.5"/><polygon points="1953.5,657.5 1965.5,654.5 1959.5,651.5 1947.5,654.5"/><polygon points="1944.5,660.5 1953.5,657.5 1947.5,654.5 1938.5,657.5"/><polygon points="1935.5,663.5 1944.5,660.5 1938.5,657.5 1929.5,657.5"/><polygon points="1923.5,666.5 1935.5,663.5 1929.5,657.5 1917.5,660.5"/><polygon points="1914.5,669.5 1923.5,666.5 1917.5,660.5 1908.5,663.5"/><polygon points="1902.5,672.5 1914.5,669.5 1908.5,663.5 1896.5,666.5"/><polygon points="1893.5,675.5 1902.5,672.5 1896.5,666.5 1887.5,669.5"/><polygon points="1884.5,675.5 1893.5,675.5 1887.5,669.5 1878.5,672.5"/><polygon points="1872.5,675.5 1884.5,675.5 1878.5,672.5 1866.5,666.5"/><polygon points="1863.5,651.5 1872.5,675.5 1866.5,666.5 1857.5,627.5"/><polygon points="1851.5,558.5 1863.5,651.5 1857.5,627.5 1845.5,513.5"/><polygon points="1842.5,420.5 1851.5,558.5 1845.5,513.5 1836.5,378.5"/><polygon points="1833.5,327.5 1842.5,420.5 1836.5,378.5 1827.5,309.5"/><polygon points="1821.5,303.5 1833.5,327.5 1827.5,309.5 1815.5,297.5"/><polygon points="1812.5,303.5 1821.5,303.5 1815.5,297.5 1806.5,297.5"/><polygon points="1800.5,306.5 1812.5,303.5 1806.5,297.5 1794.5,300.5"/><polygon points="1791.5,309.5 1800.5,306.5 1794.5,300.5 1785.5,303.5"/><polygon points="1782.5,312.5 1791.5,309.5 1785.5,303.5 1776.5,309.5"/><polygon points="1770.5,327.5 1782.5,312.5 1776.5,309.5 1764.5,330.5"/><polygon points="1761.5,384.5 1770.5,327.5 1764.5,330.5 1755.5,414.5"/><polygon points="1749.5,516.5 1761.5,384.5 1755.5,414.5 1743.5,555.5"/><polygon points="1740.5,648.5 1749.5,516.5 1743.5,555.5 1734.5,669.5"/><polygon points="1731.5,708.5 1740.5,648.5 1734.5,669.5 1725.5,708.5"/><polygon points="1719.5,720.5 1731.5,708.5 1725.5,708.5 1713.5,717.5"/><polygon points="1710.5,726.5 1719.5,720.5 1713.5,717.5 1704.5,720.5"/><polygon points="1698.5,729.5 1710.5,726.5 1704.5,720.5 1692.5,723.5"/><polygon points="1689.5,732.5 1698.5,729.5 1692.5,723.5 1683.5,726.5"/><polygon points="1680.5,735.5 1689.5,732.5 1683.5,726.5 1674.5,729.5"/><polygon points="1668.5,738.5 1680.5,735.5 1674.5,729.5 1662.5,732.5"/><polygon points="1659.5,741.5 1668.5,738.5 1662.5,732.5 1653.5,735.5"/><polygon points="1647.5,741.5 1659.5,741.5 1653.5,735.5 1641.5,738.5"/><polygon points="1638.5,744.5 1647.5,741.5 1641.5,738.5 1632.5,741.5"/><polygon points="1629.5,747.5 1638.5,744.5 1632.5,741.5 1623.5,744.5"/><polygon points="1617.5,750.5 1629.5,747.5 1623.5,744.5 1611.5,747.5"/><polygon points="1608.5,753.5 1617.5,750.5 1611.5,747.5 1602.5,750.5"/><polygon points="1596.5,756.5 1608.5,753.5 1602.5,750.5 1590.5,753.5"/><polygon points="1587.5,759.5 1596.5,756.5 1590.5,753.5 1581.5,756.5"/><polygon points="1578.5,762.5 1587.5,759.5 1581.5,756.5 1572.5,756.5"/><polygon points="1566.5,765.5 1578.5,762.5 1572.5,756.5 1560.5,759.5"/><polygon points="1557.5,768.5 1566.5,765.5 1560.5,759.5 1551.5,762.5"/><polygon points="1545.5,771.5 1557.5,768.5 1551.5,762.5 1539.5,765.5"/><polygon points="1536.5,774.5 1545.5,771.5 1539.5,765.5 1530.5,768.5"/><polygon points="1527.5,777.5 1536.5,774.5 1530.5,768.5 1521.5,771.5"/><polygon points="1515.5,780.5 1527.5,777.5 1521.5,771.5 1509.5,774.5"/><polygon points="1506.5,783.5 1515.5,780.5 1509.5,774.5 1500.5,777.5"/><polygon points="1494.5,786.5 1506.5,783.5 1500.5,777.5 1488.5,780.5"/><polygon points="1992.5,654.5 2001.5,651.5 1995.5,648.5 1986.5,648.5"/><polygon points="1980.5,657.5 1992.5,654.5 1986.5,648.5 1974.5,651.5"/><polygon points="1971.5,660.5 1980.5,657.5 1974.5,651.5 1965.5,654.5"/><polygon points="1959.5,663.5 1971.5,660.5 1965.5,654.5 1953.5,657.5"/><polygon points="1950.5,666.5 1959.5,663.5 1953.5,657.5 1944.5,660.5"/><polygon points="1941.5,669.5 1950.5,666.5 1944.5,660.5 1935.5,663.5"/><polygon points="1929.5,672.5 1941.5,669.5 1935.5,663.5 1923.5,666.5"/><polygon points="1920.5,672.5 1929.5,672.5 1923.5,666.5 1914.5,669.5"/><polygon points="1908.5,675.5 1920.5,672.5 1914.5,669.5 1902.5,672.5"/><polygon points="1899.5,678.5 1908.5,675.5 1902.5,672.5 1893.5,675.5"/><polygon points="1890.5,681.5 1899.5,678.5 1893.5,675.5 1884.5,675.5"/><polygon points="1878.5,681.5 1890.5,681.5 1884.5,675.5 1872.5,675.5"/><polygon points="1869.5,669.5 1878.5,681.5 1872.5,675.5 1863.5,651.5"/><polygon points="1857.5,600.5 1869.5,669.5 1863.5,651.5 1851.5,558.5"/><polygon points="1848.5,465.5 1857.5,600.5 1851.5,558.5 1842.5,420.5"/><polygon points="1839.5,354.5 1848.5,465.5 1842.5,420.5 1833.5,327.5"/><polygon points="1827.5,312.5 1839.5,354.5 1833.5,327.5 1821.5,303.5"/><polygon points="1818.5,309.5 1827.5,312.5 1821.5,303.5 1812.5,303.5"/><polygon points="1806.5,309.5 1818.5,309.5 1812.5,303.5 1800.5,306.5"/><polygon points="1797.5,312.5 1806.5,309.5 1800.5,306.5 1791.5,309.5"/><polygon points="1788.5,318.5 1797.5,312.5 1791.5,309.5 1782.5,312.5"/><polygon points="1776.5,324.5 1788.5,318.5 1782.5,312.5 1770.5,327.5"/><polygon points="1767.5,366.5 1776.5,324.5 1770.5,327.5 1761.5,384.5"/><polygon points="1755.5,477.5 1767.5,366.5 1761.5,384.5 1749.5,516.5"/><polygon points="1746.5,621.5 1755.5,477.5 1749.5,516.5 1740.5,648.5"/><polygon points="1737.5,702.5 1746.5,621.5 1740.5,648.5 1731.5,708.5"/><polygon points="1725.5,726.5 1737.5,702.5 1731.5,708.5 1719.5,720.5"/><polygon points="1716.5,729.5 1725.5,726.5 1719.5,720.5 1710.5,726.5"/><polygon points="1704.5,732.5 1716.5,729.5 1710.5,726.5 1698.5,729.5"/><polygon points="1695.5,735.5 1704.5,732.5 1698.5,729.5 1689.5,732.5"/><polygon points="1686.5,738.5 1695.5,735.5 1689.5,732.5 1680.5,735.5"/><polygon points="1674.5,741.5 1686.5,738.5 1680.5,735.5 1668.5,738.5"/><polygon points="1665.5,744.5 1674.5,741.5 1668.5,738.5 1659.5,741.5"/><polygon points="1653.5,747.5 1665.5,744.5 1659.5,741.5 1647.5,741.5"/><polygon points="1644.5,750.5 1653.5,747.5 1647.5,741.5 1638.5,744.5"/><polygon points="1635.5,753.5 1644.5,750.5 1638.5,744.5 1629.5,747.5"/><polygon points="1623.5,756.5 1635.5,753.5 1629.5,747.5 1617.5,750.5"/><polygon points="1614.5,759.5 1623.5,756.5 1617.5,750.5 1608.5,753.5"/><polygon points="1602.5,762.5 1614.5,759.5 1608.5,753.5 1596.5,756.5"/><polygon points="1593.5,765.5 1602.5,762.5 1596.5,756.5 1587.5,759.5"/><polygon points="1584.5,768.5 1593.5,765.5 1587.5,759.5 1578.5,762.5"/><polygon points="1572.5,771.5 1584.5,768.5 1578.5,762.5 1566.5,765.5"/><polygon points="1563.5,774.5 1572.5,771.5 1566.5,765.5 1557.5,768.5"/><polygon points="1551.5,777.5 1563.5,774.5 1557.5,768.5 1545.5,771.5"/><polygon points="1542.5,777.5 1551.5,777.5 1545.5,771.5 1536.5,774.5"/><polygon points="1533.5,780.5 1542.5,777.5 1536.5,774.5 1527.5,777.5"/><polygon points="1521.5,783.5 1533.5,780.5 1527.5,777.5 1515.5,780.5"/><polygon points="1512.5,786.5 1521.5,783.5 1515.5,780.5 1506.5,783.5"/><polygon points="1500.5,789.5 1512.5,786.5 1506.5,783.5 1494.5,786.5"/><polygon points="1998.5,660.5 2007.5,657.5 2001.5,651.5 1992.5,654.5"/><polygon points="1986.5,663.5 1998.5,660.5 1992.5,654.5 1980.5,657.5"/><polygon points="1977.5,666.5 1986.5,663.5 1980.5,657.5 1971.5,660.5"/><polygon points="1965.5,669.5 1977.5,666.5 1971.5,660.5 1959.5,663.5"/><polygon points="1956.5,669.5 1965.5,669.5 1959.5,663.5 1950.5,666.5"/><polygon points="1947.5,672.5 1956.5,669.5 1950.5,666.5 1941.5,669.5"/><polygon points="1935.5,675.5 1947.5,672.5 1941.5,669.5 1929.5,672.5"/><polygon points="1926.5,678.5 1935.5,675.5 1929.5,672.5 1920.5,672.5"/><polygon points="1914.5,681.5 1926.5,678.5 1920.5,672.5 1908.5,675.5"/><polygon points="1905.5,684.5 1914.5,681.5 1908.5,675.5 1899.5,678.5"/><polygon points="1896.5,687.5 1905.5,684.5 1899.5,678.5 1890.5,681.5"/><polygon points="1884.5,687.5 1896.5,687.5 1890.5,681.5 1878.5,681.5"/><polygon points="1875.5,681.5 1884.5,687.5 1878.5,681.5 1869.5,669.5"/><polygon points="1863.5,636.5 1875.5,681.5 1869.5,669.5 1857.5,600.5"/><polygon points="1854.5,516.5 1863.5,636.5 1857.5,600.5 1848.5,465.5"/><polygon points="1845.5,384.5 1854.5,516.5 1848.5,465.5 1839.5,354.5"/><polygon points="1833.5,324.5 1845.5,384.5 1839.5,354.5 1827.5,312.5"/><polygon points="1824.5,315.5 1833.5,324.5 1827.5,312.5 1818.5,309.5"/><polygon points="1812.5,315.5 1824.5,315.5 1818.5,309.5 1806.5,309.5"/><polygon points="1803.5,318.5 1812.5,315.5 1806.5,309.5 1797.5,312.5"/><polygon points="1794.5,321.5 1803.5,318.5 1797.5,312.5 1788.5,318.5"/><polygon points="1782.5,327.5 1794.5,321.5 1788.5,318.5 1776.5,324.5"/><polygon points="1773.5,354.5 1782.5,327.5 1776.5,324.5 1767.5,366.5"/><polygon points="1761.5,444.5 1773.5,354.5 1767.5,366.5 1755.5,477.5"/><polygon points="1752.5,588.5 1761.5,444.5 1755.5,477.5 1746.5,621.5"/><polygon points="1743.5,693.5 1752.5,588.5 1746.5,621.5 1737.5,702.5"/><polygon points="1731.5,726.5 1743.5,693.5 1737.5,702.5 1725.5,726.5"/><polygon points="1722.5,735.5 1731.5,726.5 1725.5,726.5 1716.5,729.5"/><polygon points="1710.5,738.5 1722.5,735.5 1716.5,729.5 1704.5,732.5"/><polygon points="1701.5,741.5 1710.5,738.5 1704.5,732.5 1695.5,735.5"/><polygon points="1692.5,744.5 1701.5,741.5 1695.5,735.5 1686.5,738.5"/><polygon points="1680.5,747.5 1692.5,744.5 1686.5,738.5 1674.5,741.5"/><polygon points="1671.5,750.5 1680.5,747.5 1674.5,741.5 1665.5,744.5"/><polygon points="1659.5,753.5 1671.5,750.5 1665.5,744.5 1653.5,747.5"/><polygon points="1650.5,756.5 1659.5,753.5 1653.5,747.5 1644.5,750.5"/><polygon points="1641.5,759.5 1650.5,756.5 1644.5,750.5 1635.5,753.5"/><polygon points="1629.5,762.5 1641.5,759.5 1635.5,753.5 1623.5,756.5"/><polygon points="1620.5,765.5 1629.5,762.5 1623.5,756.5 1614.5,759.5"/><polygon points="1608.5,765.5 1620.5,765.5 1614.5,759.5 1602.5,762.5"/><polygon points="1599.5,768.5 1608.5,765.5 1602.5,762.5 1593.5,765.5"/><polygon points="1590.5,771.5 1599.5,768.5 1593.5,765.5 1584.5,768.5"/><polygon points="1578.5,774.5 1590.5,771.5 1584.5,768.5 1572.5,771.5"/><polygon points="1569.5,777.5 1578.5,774.5 1572.5,771.5 1563.5,774.5"/><polygon points="1557.5,780.5 1569.5,777.5 1563.5,774.5 1551.5,777.5"/><polygon points="1548.5,783.5 1557.5,780.5 1551.5,777.5 1542.5,777.5"/><polygon points="1539.5,786.5 1548.5,783.5 1542.5,777.5 1533.5,780.5"/><polygon points="1527.5,789.5 1539.5,786.5 1533.5,780.5 1521.5,783.5"/><polygon points="1518.5,792.5 1527.5,789.5 1521.5,783.5 1512.5,786.5"/><polygon points="1506.5,795.5 1518.5,792.5 1512.5,786.5 1500.5,789.5"/><polygon points="2001.5,663.5 2013.5,660.5 2007.5,657.5 1998.5,660.5"/><polygon points="1992.5,666.5 2001.5,663.5 1998.5,660.5 1986.5,663.5"/><polygon points="1983.5,669.5 1992.5,666.5 1986.5,663.5 1977.5,666.5"/><polygon points="1971.5,672.5 1983.5,669.5 1977.5,666.5 1965.5,669.5"/><polygon points="1962.5,675.5 1971.5,672.5 1965.5,669.5 1956.5,669.5"/><polygon points="1950.5,678.5 1962.5,675.5 1956.5,669.5 1947.5,672.5"/><polygon points="1941.5,681.5 1950.5,678.5 1947.5,672.5 1935.5,675.5"/><polygon points="1932.5,684.5 1941.5,681.5 1935.5,675.5 1926.5,678.5"/><polygon points="1920.5,687.5 1932.5,684.5 1926.5,678.5 1914.5,681.5"/><polygon points="1911.5,690.5 1920.5,687.5 1914.5,681.5 1905.5,684.5"/><polygon points="1899.5,690.5 1911.5,690.5 1905.5,684.5 1896.5,687.5"/><polygon points="1890.5,693.5 1899.5,690.5 1896.5,687.5 1884.5,687.5"/><polygon points="1881.5,693.5 1890.5,693.5 1884.5,687.5 1875.5,681.5"/><polygon points="1869.5,663.5 1881.5,693.5 1875.5,681.5 1863.5,636.5"/><polygon points="1860.5,564.5 1869.5,663.5 1863.5,636.5 1854.5,516.5"/><polygon points="1848.5,423.5 1860.5,564.5 1854.5,516.5 1845.5,384.5"/><polygon points="1839.5,339.5 1848.5,423.5 1845.5,384.5 1833.5,324.5"/><polygon points="1830.5,321.5 1839.5,339.5 1833.5,324.5 1824.5,315.5"/><polygon points="1818.5,321.5 1830.5,321.5 1824.5,315.5 1812.5,315.5"/><polygon points="1809.5,324.5 1818.5,321.5 1812.5,315.5 1803.5,318.5"/><polygon points="1797.5,327.5 1809.5,324.5 1803.5,318.5 1794.5,321.5"/><polygon points="1788.5,330.5 1797.5,327.5 1794.5,321.5 1782.5,327.5"/><polygon points="1779.5,348.5 1788.5,330.5 1782.5,327.5 1773.5,354.5"/><polygon points="1767.5,414.5 1779.5,348.5 1773.5,354.5 1761.5,444.5"/><polygon points="1758.5,549.5 1767.5,414.5 1761.5,444.5 1752.5,588.5"/><polygon points="1746.5,675.5 1758.5,549.5 1752.5,588.5 1743.5,693.5"/><polygon points="1737.5,729.5 1746.5,675.5 1743.5,693.5 1731.5,726.5"/><polygon points="1728.5,738.5 1737.5,729.5 1731.5,726.5 1722.5,735.5"/><polygon points="1716.5,744.5 1728.5,738.5 1722.5,735.5 1710.5,738.5"/><polygon points="1707.5,747.5 1716.5,744.5 1710.5,738.5 1701.5,741.5"/><polygon points="1695.5,750.5 1707.5,747.5 1701.5,741.5 1692.5,744.5"/><polygon points="1686.5,753.5 1695.5,750.5 1692.5,744.5 1680.5,747.5"/><polygon points="1677.5,753.5 1686.5,753.5 1680.5,747.5 1671.5,750.5"/><polygon points="1665.5,756.5 1677.5,753.5 1671.5,750.5 1659.5,753.5"/><polygon points="1656.5,759.5 1665.5,756.5 1659.5,753.5 1650.5,756.5"/><polygon points="1644.5,762.5 1656.5,759.5 1650.5,756.5 1641.5,759.5"/><polygon points="1635.5,765.5 1644.5,762.5 1641.5,759.5 1629.5,762.5"/><polygon points="1626.5,768.5 1635.5,765.5 1629.5,762.5 1620.5,765.5"/><polygon points="1614.5,771.5 1626.5,768.5 1620.5,765.5 1608.5,765.5"/><polygon points="1605.5,774.5 1614.5,771.5 1608.5,765.5 1599.5,768.5"/><polygon points="1593.5,777.5 1605.5,774.5 1599.5,768.5 1590.5,771.5"/><polygon points="1584.5,780.5 1593.5,777.5 1590.5,771.5 1578.5,774.5"/><polygon points="1575.5,783.5 1584.5,780.5 1578.5,774.5 1569.5,777.5"/><polygon points="1563.5,786.5 1575.5,783.5 1569.5,777.5 1557.5,780.5"/><polygon points="1554.5,789.5 1563.5,786.5 1557.5,780.5 1548.5,783.5"/><polygon points="1542.5,792.5 1554.5,789.5 1548.5,783.5 1539.5,786.5"/><polygon points="1533.5,795.5 1542.5,792.5 1539.5,786.5 1527.5,789.5"/><polygon points="1524.5,798.5 1533.5,795.5 1527.5,789.5 1518.5,792.5"/><polygon points="1512.5,801.5 1524.5,798.5 1518.5,792.5 1506.5,795.5"/><polygon points="2007.5,669.5 2019.5,666.5 2013.5,660.5 2001.5,663.5"/><polygon points="1998.5,672.5 2007.5,669.5 2001.5,663.5 1992.5,666.5"/><polygon points="1989.5,675.5 1998.5,672.5 1992.5,666.5 1983.5,669.5"/><polygon points="1977.5,678.5 1989.5,675.5 1983.5,669.5 1971.5,672.5"/><polygon points="1968.5,681.5 1977.5,678.5 1971.5,672.5 1962.5,675.5"/><polygon points="1956.5,684.5 1968.5,681.5 1962.5,675.5 1950.5,678.5"/><polygon points="1947.5,687.5 1956.5,684.5 1950.5,678.5 1941.5,681.5"/><polygon points="1938.5,687.5 1947.5,687.5 1941.5,681.5 1932.5,684.5"/><polygon points="1926.5,690.5 1938.5,687.5 1932.5,684.5 1920.5,687.5"/><polygon points="1917.5,693.5 1926.5,690.5 1920.5,687.5 1911.5,690.5"/><polygon points="1905.5,696.5 1917.5,693.5 1911.5,690.5 1899.5,690.5"/><polygon points="1896.5,699.5 1905.5,696.5 1899.5,690.5 1890.5,693.5"/><polygon points="1887.5,699.5 1896.5,699.5 1890.5,693.5 1881.5,693.5"/><polygon points="1875.5,684.5 1887.5,699.5 1881.5,693.5 1869.5,663.5"/><polygon points="1866.5,606.5 1875.5,684.5 1869.5,663.5 1860.5,564.5"/><polygon points="1854.5,468.5 1866.5,606.5 1860.5,564.5 1848.5,423.5"/><polygon points="1845.5,363.5 1854.5,468.5 1848.5,423.5 1839.5,339.5"/><polygon points="1836.5,327.5 1845.5,363.5 1839.5,339.5 1830.5,321.5"/><polygon points="1824.5,327.5 1836.5,327.5 1830.5,321.5 1818.5,321.5"/><polygon points="1815.5,327.5 1824.5,327.5 1818.5,321.5 1809.5,324.5"/><polygon points="1803.5,330.5 1815.5,327.5 1809.5,324.5 1797.5,327.5"/><polygon points="1794.5,336.5 1803.5,330.5 1797.5,327.5 1788.5,330.5"/><polygon points="1785.5,345.5 1794.5,336.5 1788.5,330.5 1779.5,348.5"/><polygon points="1773.5,390.5 1785.5,345.5 1779.5,348.5 1767.5,414.5"/><polygon points="1764.5,510.5 1773.5,390.5 1767.5,414.5 1758.5,549.5"/><polygon points="1752.5,651.5 1764.5,510.5 1758.5,549.5 1746.5,675.5"/><polygon points="1743.5,723.5 1752.5,651.5 1746.5,675.5 1737.5,729.5"/><polygon points="1734.5,744.5 1743.5,723.5 1737.5,729.5 1728.5,738.5"/><polygon points="1722.5,747.5 1734.5,744.5 1728.5,738.5 1716.5,744.5"/><polygon points="1713.5,750.5 1722.5,747.5 1716.5,744.5 1707.5,747.5"/><polygon points="1701.5,753.5 1713.5,750.5 1707.5,747.5 1695.5,750.5"/><polygon points="1692.5,756.5 1701.5,753.5 1695.5,750.5 1686.5,753.5"/><polygon points="1683.5,759.5 1692.5,756.5 1686.5,753.5 1677.5,753.5"/><polygon points="1671.5,762.5 1683.5,759.5 1677.5,753.5 1665.5,756.5"/><polygon points="1662.5,765.5 1671.5,762.5 1665.5,756.5 1656.5,759.5"/><polygon points="1650.5,768.5 1662.5,765.5 1656.5,759.5 1644.5,762.5"/><polygon points="1641.5,771.5 1650.5,768.5 1644.5,762.5 1635.5,765.5"/><polygon points="1632.5,774.5 1641.5,771.5 1635.5,765.5 1626.5,768.5"/><polygon points="1620.5,777.5 1632.5,774.5 1626.5,768.5 1614.5,771.5"/><polygon points="1611.5,780.5 1620.5,777.5 1614.5,771.5 1605.5,774.5"/><polygon points="1599.5,783.5 1611.5,780.5 1605.5,774.5 1593.5,777.5"/><polygon points="1590.5,786.5 1599.5,783.5 1593.5,777.5 1584.5,780.5"/><polygon points="1581.5,789.5 1590.5,786.5 1584.5,780.5 1575.5,783.5"/><polygon points="1569.5,789.5 1581.5,789.5 1575.5,783.5 1563.5,786.5"/><polygon points="1560.5,792.5 1569.5,789.5 1563.5,786.5 1554.5,789.5"/><polygon points="1548.5,795.5 1560.5,792.5 1554.5,789.5 1542.5,792.5"/><polygon points="1539.5,798.5 1548.5,795.5 1542.5,792.5 1533.5,795.5"/><polygon points="1530.5,801.5 1539.5,798.5 1533.5,795.5 1524.5,798.5"/><polygon points="1518.5,804.5 1530.5,801.5 1524.5,798.5 1512.5,801.5"/><polygon points="2013.5,675.5 2025.5,672.5 2019.5,666.5 2007.5,669.5"/><polygon points="2004.5,678.5 2013.5,675.5 2007.5,669.5 1998.5,672.5"/><polygon points="1995.5,681.5 2004.5,678.5 1998.5,672.5 1989.5,675.5"/><polygon points="1983.5,681.5 1995.5,681.5 1989.5,675.5 1977.5,678.5"/><polygon points="1974.5,684.5 1983.5,681.5 1977.5,678.5 1968.5,681.5"/><polygon points="1962.5,687.5 1974.5,684.5 1968.5,681.5 1956.5,684.5"/><polygon points="1953.5,690.5 1962.5,687.5 1956.5,684.5 1947.5,687.5"/><polygon points="1944.5,693.5 1953.5,690.5 1947.5,687.5 1938.5,687.5"/><polygon points="1932.5,696.5 1944.5,693.5 1938.5,687.5 1926.5,690.5"/><polygon points="1923.5,699.5 1932.5,696.5 1926.5,690.5 1917.5,693.5"/><polygon points="1911.5,702.5 1923.5,699.5 1917.5,693.5 1905.5,696.5"/><polygon points="1902.5,705.5 1911.5,702.5 1905.5,696.5 1896.5,699.5"/><polygon points="1893.5,705.5 1902.5,705.5 1896.5,699.5 1887.5,699.5"/><polygon points="1881.5,696.5 1893.5,705.5 1887.5,699.5 1875.5,684.5"/><polygon points="1872.5,645.5 1881.5,696.5 1875.5,684.5 1866.5,606.5"/><polygon points="1860.5,519.5 1872.5,645.5 1866.5,606.5 1854.5,468.5"/><polygon points="1851.5,393.5 1860.5,519.5 1854.5,468.5 1845.5,363.5"/><polygon points="1842.5,339.5 1851.5,393.5 1845.5,363.5 1836.5,327.5"/><polygon points="1830.5,330.5 1842.5,339.5 1836.5,327.5 1824.5,327.5"/><polygon points="1821.5,333.5 1830.5,330.5 1824.5,327.5 1815.5,327.5"/><polygon points="1809.5,336.5 1821.5,333.5 1815.5,327.5 1803.5,330.5"/><polygon points="1800.5,339.5 1809.5,336.5 1803.5,330.5 1794.5,336.5"/><polygon points="1791.5,345.5 1800.5,339.5 1794.5,336.5 1785.5,345.5"/><polygon points="1779.5,375.5 1791.5,345.5 1785.5,345.5 1773.5,390.5"/><polygon points="1770.5,474.5 1779.5,375.5 1773.5,390.5 1764.5,510.5"/><polygon points="1758.5,618.5 1770.5,474.5 1764.5,510.5 1752.5,651.5"/><polygon points="1749.5,717.5 1758.5,618.5 1752.5,651.5 1743.5,723.5"/><polygon points="1740.5,747.5 1749.5,717.5 1743.5,723.5 1734.5,744.5"/><polygon points="1728.5,753.5 1740.5,747.5 1734.5,744.5 1722.5,747.5"/><polygon points="1719.5,756.5 1728.5,753.5 1722.5,747.5 1713.5,750.5"/><polygon points="1707.5,759.5 1719.5,756.5 1713.5,750.5 1701.5,753.5"/><polygon points="1698.5,762.5 1707.5,759.5 1701.5,753.5 1692.5,756.5"/><polygon points="1689.5,765.5 1698.5,762.5 1692.5,756.5 1683.5,759.5"/><polygon points="1677.5,768.5 1689.5,765.5 1683.5,759.5 1671.5,762.5"/><polygon points="1668.5,771.5 1677.5,768.5 1671.5,762.5 1662.5,765.5"/><polygon points="1656.5,774.5 1668.5,771.5 1662.5,765.5 1650.5,768.5"/><polygon points="1647.5,777.5 1656.5,774.5 1650.5,768.5 1641.5,771.5"/><polygon points="1638.5,777.5 1647.5,777.5 1641.5,771.5 1632.5,774.5"/><polygon points="1626.5,780.5 1638.5,777.5 1632.5,774.5 1620.5,777.5"/><polygon points="1617.5,783.5 1626.5,780.5 1620.5,777.5 1611.5,780.5"/><polygon points="1605.5,786.5 1617.5,783.5 1611.5,780.5 1599.5,783.5"/><polygon points="1596.5,789.5 1605.5,786.5 1599.5,783.5 1590.5,786.5"/><polygon points="1587.5,792.5 1596.5,789.5 1590.5,786.5 1581.5,789.5"/><polygon points="1575.5,795.5 1587.5,792.5 1581.5,789.5 1569.5,789.5"/><polygon points="1566.5,798.5 1575.5,795.5 1569.5,789.5 1560.5,792.5"/><polygon points="1554.5,801.5 1566.5,798.5 1560.5,792.5 1548.5,795.5"/><polygon points="1545.5,804.5 1554.5,801.5 1548.5,795.5 1539.5,798.5"/><polygon points="1536.5,807.5 1545.5,804.5 1539.5,798.5 1530.5,801.5"/><polygon points="1524.5,810.5 1536.5,807.5 1530.5,801.5 1518.5,804.5"/><polygon points="2019.5,678.5 2031.5,675.5 2025.5,672.5 2013.5,675.5"/><polygon points="2010.5,681.5 2019.5,678.5 2013.5,675.5 2004.5,678.5"/><polygon points="2001.5,684.5 2010.5,681.5 2004.5,678.5 1995.5,681.5"/><polygon points="1989.5,687.5 2001.5,684.5 1995.5,681.5 1983.5,681.5"/><polygon points="1980.5,690.5 1989.5,687.5 1983.5,681.5 1974.5,684.5"/><polygon points="1968.5,693.5 1980.5,690.5 1974.5,684.5 1962.5,687.5"/><polygon points="1959.5,696.5 1968.5,693.5 1962.5,687.5 1953.5,690.5"/><polygon points="1950.5,699.5 1959.5,696.5 1953.5,690.5 1944.5,693.5"/><polygon points="1938.5,702.5 1950.5,699.5 1944.5,693.5 1932.5,696.5"/><polygon points="1929.5,702.5 1938.5,702.5 1932.5,696.5 1923.5,699.5"/><polygon points="1917.5,705.5 1929.5,702.5 1923.5,699.5 1911.5,702.5"/><polygon points="1908.5,708.5 1917.5,705.5 1911.5,702.5 1902.5,705.5"/><polygon points="1899.5,711.5 1908.5,708.5 1902.5,705.5 1893.5,705.5"/><polygon points="1887.5,708.5 1899.5,711.5 1893.5,705.5 1881.5,696.5"/><polygon points="1878.5,672.5 1887.5,708.5 1881.5,696.5 1872.5,645.5"/><polygon points="1866.5,567.5 1878.5,672.5 1872.5,645.5 1860.5,519.5"/><polygon points="1857.5,429.5 1866.5,567.5 1860.5,519.5 1851.5,393.5"/><polygon points="1848.5,354.5 1857.5,429.5 1851.5,393.5 1842.5,339.5"/><polygon points="1836.5,336.5 1848.5,354.5 1842.5,339.5 1830.5,330.5"/><polygon points="1827.5,339.5 1836.5,336.5 1830.5,330.5 1821.5,333.5"/><polygon points="1815.5,342.5 1827.5,339.5 1821.5,333.5 1809.5,336.5"/><polygon points="1806.5,345.5 1815.5,342.5 1809.5,336.5 1800.5,339.5"/><polygon points="1797.5,348.5 1806.5,345.5 1800.5,339.5 1791.5,345.5"/><polygon points="1785.5,369.5 1797.5,348.5 1791.5,345.5 1779.5,375.5"/><polygon points="1776.5,441.5 1785.5,369.5 1779.5,375.5 1770.5,474.5"/><polygon points="1764.5,582.5 1776.5,441.5 1770.5,474.5 1758.5,618.5"/><polygon points="1755.5,702.5 1764.5,582.5 1758.5,618.5 1749.5,717.5"/><polygon points="1746.5,747.5 1755.5,702.5 1749.5,717.5 1740.5,747.5"/><polygon points="1734.5,756.5 1746.5,747.5 1740.5,747.5 1728.5,753.5"/><polygon points="1725.5,762.5 1734.5,756.5 1728.5,753.5 1719.5,756.5"/><polygon points="1713.5,762.5 1725.5,762.5 1719.5,756.5 1707.5,759.5"/><polygon points="1704.5,765.5 1713.5,762.5 1707.5,759.5 1698.5,762.5"/><polygon points="1695.5,768.5 1704.5,765.5 1698.5,762.5 1689.5,765.5"/><polygon points="1683.5,771.5 1695.5,768.5 1689.5,765.5 1677.5,768.5"/><polygon points="1674.5,774.5 1683.5,771.5 1677.5,768.5 1668.5,771.5"/><polygon points="1662.5,777.5 1674.5,774.5 1668.5,771.5 1656.5,774.5"/><polygon points="1653.5,780.5 1662.5,777.5 1656.5,774.5 1647.5,777.5"/><polygon points="1644.5,783.5 1653.5,780.5 1647.5,777.5 1638.5,777.5"/><polygon points="1632.5,786.5 1644.5,783.5 1638.5,777.5 1626.5,780.5"/><polygon points="1623.5,789.5 1632.5,786.5 1626.5,780.5 1617.5,783.5"/><polygon points="1611.5,792.5 1623.5,789.5 1617.5,783.5 1605.5,786.5"/><polygon points="1602.5,795.5 1611.5,792.5 1605.5,786.5 1596.5,789.5"/><polygon points="1593.5,798.5 1602.5,795.5 1596.5,789.5 1587.5,792.5"/><polygon points="1581.5,801.5 1593.5,798.5 1587.5,792.5 1575.5,795.5"/><polygon points="1572.5,804.5 1581.5,801.5 1575.5,795.5 1566.5,798.5"/><polygon points="1560.5,807.5 1572.5,804.5 1566.5,798.5 1554.5,801.5"/><polygon points="1551.5,810.5 1560.5,807.5 1554.5,801.5 1545.5,804.5"/><polygon points="1542.5,813.5 1551.5,810.5 1545.5,804.5 1536.5,807.5"/><polygon points="1530.5,813.5 1542.5,813.5 1536.5,807.5 1524.5,810.5"/><polygon points="2025.5,684.5 2037.5,681.5 2031.5,675.5 2019.5,678.5"/><polygon points="2016.5,687.5 2025.5,684.5 2019.5,678.5 2010.5,681.5"/><polygon points="2007.5,690.5 2016.5,687.5 2010.5,681.5 2001.5,684.5"/><polygon points="1995.5,693.5 2007.5,690.5 2001.5,684.5 1989.5,687.5"/><polygon points="1986.5,696.5 1995.5,693.5 1989.5,687.5 1980.5,690.5"/><polygon points="1974.5,699.5 1986.5,696.5 1980.5,690.5 1968.5,693.5"/><polygon points="1965.5,699.5 1974.5,699.5 1968.5,693.5 1959.5,696.5"/><polygon points="1956.5,702.5 1965.5,699.5 1959.5,696.5 1950.5,699.5"/><polygon points="1944.5,705.5 1956.5,702.5 1950.5,699.5 1938.5,702.5"/><polygon points="1935.5,708.5 1944.5,705.5 1938.5,702.5 1929.5,702.5"/><polygon points="1923.5,711.5 1935.5,708.5 1929.5,702.5 1917.5,705.5"/><polygon points="1914.5,714.5 1923.5,711.5 1917.5,705.5 1908.5,708.5"/><polygon points="1905.5,717.5 1914.5,714.5 1908.5,708.5 1899.5,711.5"/><polygon points="1893.5,717.5 1905.5,717.5 1899.5,711.5 1887.5,708.5"/><polygon points="1884.5,696.5 1893.5,717.5 1887.5,708.5 1878.5,672.5"/><polygon points="1872.5,612.5 1884.5,696.5 1878.5,672.5 1866.5,567.5"/><polygon points="1863.5,474.5 1872.5,612.5 1866.5,567.5 1857.5,429.5"/><polygon points="1854.5,375.5 1863.5,474.5 1857.5,429.5 1848.5,354.5"/><polygon points="1842.5,345.5 1854.5,375.5 1848.5,354.5 1836.5,336.5"/><polygon points="1833.5,342.5 1842.5,345.5 1836.5,336.5 1827.5,339.5"/><polygon points="1821.5,345.5 1833.5,342.5 1827.5,339.5 1815.5,342.5"/><polygon points="1812.5,348.5 1821.5,345.5 1815.5,342.5 1806.5,345.5"/><polygon points="1803.5,354.5 1812.5,348.5 1806.5,345.5 1797.5,348.5"/><polygon points="1791.5,363.5 1803.5,354.5 1797.5,348.5 1785.5,369.5"/><polygon points="1782.5,417.5 1791.5,363.5 1785.5,369.5 1776.5,441.5"/><polygon points="1770.5,543.5 1782.5,417.5 1776.5,441.5 1764.5,582.5"/><polygon points="1761.5,678.5 1770.5,543.5 1764.5,582.5 1755.5,702.5"/><polygon points="1752.5,744.5 1761.5,678.5 1755.5,702.5 1746.5,747.5"/><polygon points="1740.5,762.5 1752.5,744.5 1746.5,747.5 1734.5,756.5"/><polygon points="1731.5,765.5 1740.5,762.5 1734.5,756.5 1725.5,762.5"/><polygon points="1719.5,768.5 1731.5,765.5 1725.5,762.5 1713.5,762.5"/><polygon points="1710.5,771.5 1719.5,768.5 1713.5,762.5 1704.5,765.5"/><polygon points="1701.5,774.5 1710.5,771.5 1704.5,765.5 1695.5,768.5"/><polygon points="1689.5,777.5 1701.5,774.5 1695.5,768.5 1683.5,771.5"/><polygon points="1680.5,780.5 1689.5,777.5 1683.5,771.5 1674.5,774.5"/><polygon points="1668.5,783.5 1680.5,780.5 1674.5,774.5 1662.5,777.5"/><polygon points="1659.5,786.5 1668.5,783.5 1662.5,777.5 1653.5,780.5"/><polygon points="1650.5,789.5 1659.5,786.5 1653.5,780.5 1644.5,783.5"/><polygon points="1638.5,792.5 1650.5,789.5 1644.5,783.5 1632.5,786.5"/><polygon points="1629.5,795.5 1638.5,792.5 1632.5,786.5 1623.5,789.5"/><polygon points="1617.5,798.5 1629.5,795.5 1623.5,789.5 1611.5,792.5"/><polygon points="1608.5,801.5 1617.5,798.5 1611.5,792.5 1602.5,795.5"/><polygon points="1599.5,801.5 1608.5,801.5 1602.5,795.5 1593.5,798.5"/><polygon points="1587.5,804.5 1599.5,801.5 1593.5,798.5 1581.5,801.5"/><polygon points="1578.5,807.5 1587.5,804.5 1581.5,801.5 1572.5,804.5"/><polygon points="1566.5,810.5 1578.5,807.5 1572.5,804.5 1560.5,807.5"/><polygon points="1557.5,813.5 1566.5,810.5 1560.5,807.5 1551.5,810.5"/><polygon points="1548.5,816.5 1557.5,813.5 1551.5,810.5 1542.5,813.5"/><polygon points="1536.5,819.5 1548.5,816.5 1542.5,813.5 1530.5,813.5"/><polygon points="2031.5,690.5 2043.5,687.5 2037.5,681.5 2025.5,684.5"/><polygon points="2022.5,693.5 2031.5,690.5 2025.5,684.5 2016.5,687.5"/><polygon points="2010.5,693.5 2022.5,693.5 2016.5,687.5 2007.5,690.5"/><polygon points="2001.5,696.5 2010.5,693.5 2007.5,690.5 1995.5,693.5"/><polygon points="1992.5,699.5 2001.5,696.5 1995.5,693.5 1986.5,696.5"/><polygon points="1980.5,702.5 1992.5,699.5 1986.5,696.5 1974.5,699.5"/><polygon points="1971.5,705.5 1980.5,702.5 1974.5,699.5 1965.5,699.5"/><polygon points="1959.5,708.5 1971.5,705.5 1965.5,699.5 1956.5,702.5"/><polygon points="1950.5,711.5 1959.5,708.5 1956.5,702.5 1944.5,705.5"/><polygon points="1941.5,714.5 1950.5,711.5 1944.5,705.5 1935.5,708.5"/><polygon points="1929.5,717.5 1941.5,714.5 1935.5,708.5 1923.5,711.5"/><polygon points="1920.5,717.5 1929.5,717.5 1923.5,711.5 1914.5,714.5"/><polygon points="1908.5,720.5 1920.5,717.5 1914.5,714.5 1905.5,717.5"/><polygon points="1899.5,723.5 1908.5,720.5 1905.5,717.5 1893.5,717.5"/><polygon points="1890.5,711.5 1899.5,723.5 1893.5,717.5 1884.5,696.5"/><polygon points="1878.5,651.5 1890.5,711.5 1884.5,696.5 1872.5,612.5"/><polygon points="1869.5,522.5 1878.5,651.5 1872.5,612.5 1863.5,474.5"/><polygon points="1857.5,402.5 1869.5,522.5 1863.5,474.5 1854.5,375.5"/><polygon points="1848.5,354.5 1857.5,402.5 1854.5,375.5 1842.5,345.5"/><polygon points="1839.5,348.5 1848.5,354.5 1842.5,345.5 1833.5,342.5"/><polygon points="1827.5,351.5 1839.5,348.5 1833.5,342.5 1821.5,345.5"/><polygon points="1818.5,354.5 1827.5,351.5 1821.5,345.5 1812.5,348.5"/><polygon points="1806.5,357.5 1818.5,354.5 1812.5,348.5 1803.5,354.5"/><polygon points="1797.5,363.5 1806.5,357.5 1803.5,354.5 1791.5,363.5"/><polygon points="1788.5,399.5 1797.5,363.5 1791.5,363.5 1782.5,417.5"/><polygon points="1776.5,504.5 1788.5,399.5 1782.5,417.5 1770.5,543.5"/><polygon points="1767.5,648.5 1776.5,504.5 1770.5,543.5 1761.5,678.5"/><polygon points="1755.5,738.5 1767.5,648.5 1761.5,678.5 1752.5,744.5"/><polygon points="1746.5,765.5 1755.5,738.5 1752.5,744.5 1740.5,762.5"/><polygon points="1737.5,771.5 1746.5,765.5 1740.5,762.5 1731.5,765.5"/><polygon points="1725.5,774.5 1737.5,771.5 1731.5,765.5 1719.5,768.5"/><polygon points="1716.5,777.5 1725.5,774.5 1719.5,768.5 1710.5,771.5"/><polygon points="1704.5,780.5 1716.5,777.5 1710.5,771.5 1701.5,774.5"/><polygon points="1695.5,783.5 1704.5,780.5 1701.5,774.5 1689.5,777.5"/><polygon points="1686.5,786.5 1695.5,783.5 1689.5,777.5 1680.5,780.5"/><polygon points="1674.5,789.5 1686.5,786.5 1680.5,780.5 1668.5,783.5"/><polygon points="1665.5,789.5 1674.5,789.5 1668.5,783.5 1659.5,786.5"/><polygon points="1653.5,792.5 1665.5,789.5 1659.5,786.5 1650.5,789.5"/><polygon points="1644.5,795.5 1653.5,792.5 1650.5,789.5 1638.5,792.5"/><polygon points="1635.5,798.5 1644.5,795.5 1638.5,792.5 1629.5,795.5"/><polygon points="1623.5,801.5 1635.5,798.5 1629.5,795.5 1617.5,798.5"/><polygon points="1614.5,804.5 1623.5,801.5 1617.5,798.5 1608.5,801.5"/><polygon points="1602.5,807.5 1614.5,804.5 1608.5,801.5 1599.5,801.5"/><polygon points="1593.5,810.5 1602.5,807.5 1599.5,801.5 1587.5,804.5"/><polygon points="1584.5,813.5 1593.5,810.5 1587.5,804.5 1578.5,807.5"/><polygon points="1572.5,816.5 1584.5,813.5 1578.5,807.5 1566.5,810.5"/><polygon points="1563.5,819.5 1572.5,816.5 1566.5,810.5 1557.5,813.5"/><polygon points="1551.5,822.5 1563.5,819.5 1557.5,813.5 1548.5,816.5"/><polygon points="1542.5,825.5 1551.5,822.5 1548.5,816.5 1536.5,819.5"/><polygon points="2037.5,693.5 2049.5,690.5 2043.5,687.5 2031.5,690.5"/><polygon points="2028.5,696.5 2037.5,693.5 2031.5,690.5 2022.5,693.5"/><polygon points="2016.5,699.5 2028.5,696.5 2022.5,693.5 2010.5,693.5"/><polygon points="2007.5,702.5 2016.5,699.5 2010.5,693.5 2001.5,696.5"/><polygon points="1998.5,705.5 2007.5,702.5 2001.5,696.5 1992.5,699.5"/><polygon points="1986.5,708.5 1998.5,705.5 1992.5,699.5 1980.5,702.5"/><polygon points="1977.5,711.5 1986.5,708.5 1980.5,702.5 1971.5,705.5"/><polygon points="1965.5,714.5 1977.5,711.5 1971.5,705.5 1959.5,708.5"/><polygon points="1956.5,714.5 1965.5,714.5 1959.5,708.5 1950.5,711.5"/><polygon points="1947.5,717.5 1956.5,714.5 1950.5,711.5 1941.5,714.5"/><polygon points="1935.5,720.5 1947.5,717.5 1941.5,714.5 1929.5,717.5"/><polygon points="1926.5,723.5 1935.5,720.5 1929.5,717.5 1920.5,717.5"/><polygon points="1914.5,726.5 1926.5,723.5 1920.5,717.5 1908.5,720.5"/><polygon points="1905.5,729.5 1914.5,726.5 1908.5,720.5 1899.5,723.5"/><polygon points="1896.5,723.5 1905.5,729.5 1899.5,723.5 1890.5,711.5"/><polygon points="1884.5,684.5 1896.5,723.5 1890.5,711.5 1878.5,651.5"/><polygon points="1875.5,570.5 1884.5,684.5 1878.5,651.5 1869.5,522.5"/><polygon points="1863.5,435.5 1875.5,570.5 1869.5,522.5 1857.5,402.5"/><polygon points="1854.5,366.5 1863.5,435.5 1857.5,402.5 1848.5,354.5"/><polygon points="1845.5,354.5 1854.5,366.5 1848.5,354.5 1839.5,348.5"/><polygon points="1833.5,357.5 1845.5,354.5 1839.5,348.5 1827.5,351.5"/><polygon points="1824.5,360.5 1833.5,357.5 1827.5,351.5 1818.5,354.5"/><polygon points="1812.5,363.5 1824.5,360.5 1818.5,354.5 1806.5,357.5"/><polygon points="1803.5,366.5 1812.5,363.5 1806.5,357.5 1797.5,363.5"/><polygon points="1794.5,390.5 1803.5,366.5 1797.5,363.5 1788.5,399.5"/><polygon points="1782.5,471.5 1794.5,390.5 1788.5,399.5 1776.5,504.5"/><polygon points="1773.5,615.5 1782.5,471.5 1776.5,504.5 1767.5,648.5"/><polygon points="1761.5,726.5 1773.5,615.5 1767.5,648.5 1755.5,738.5"/><polygon points="1752.5,765.5 1761.5,726.5 1755.5,738.5 1746.5,765.5"/><polygon points="1743.5,774.5 1752.5,765.5 1746.5,765.5 1737.5,771.5"/><polygon points="1731.5,777.5 1743.5,774.5 1737.5,771.5 1725.5,774.5"/><polygon points="1722.5,780.5 1731.5,777.5 1725.5,774.5 1716.5,777.5"/><polygon points="1710.5,783.5 1722.5,780.5 1716.5,777.5 1704.5,780.5"/><polygon points="1701.5,786.5 1710.5,783.5 1704.5,780.5 1695.5,783.5"/><polygon points="1692.5,789.5 1701.5,786.5 1695.5,783.5 1686.5,786.5"/><polygon points="1680.5,792.5 1692.5,789.5 1686.5,786.5 1674.5,789.5"/><polygon points="1671.5,795.5 1680.5,792.5 1674.5,789.5 1665.5,789.5"/><polygon points="1659.5,798.5 1671.5,795.5 1665.5,789.5 1653.5,792.5"/><polygon points="1650.5,801.5 1659.5,798.5 1653.5,792.5 1644.5,795.5"/><polygon points="1641.5,804.5 1650.5,801.5 1644.5,795.5 1635.5,798.5"/><polygon points="1629.5,807.5 1641.5,804.5 1635.5,798.5 1623.5,801.5"/><polygon points="1620.5,810.5 1629.5,807.5 1623.5,801.5 1614.5,804.5"/><polygon points="1608.5,813.5 1620.5,810.5 1614.5,804.5 1602.5,807.5"/><polygon points="1599.5,816.5 1608.5,813.5 1602.5,807.5 1593.5,810.5"/><polygon points="1590.5,819.5 1599.5,816.5 1593.5,810.5 1584.5,813.5"/><polygon points="1578.5,822.5 1590.5,819.5 1584.5,813.5 1572.5,816.5"/><polygon points="1569.5,822.5 1578.5,822.5 1572.5,816.5 1563.5,819.5"/><polygon points="1557.5,825.5 1569.5,822.5 1563.5,819.5 1551.5,822.5"/><polygon points="1548.5,828.5 1557.5,825.5 1551.5,822.5 1542.5,825.5"/><polygon points="2043.5,699.5 2055.5,696.5 2049.5,690.5 2037.5,693.5"/><polygon points="2034.5,702.5 2043.5,699.5 2037.5,693.5 2028.5,696.5"/><polygon points="2022.5,705.5 2034.5,702.5 2028.5,696.5 2016.5,699.5"/><polygon points="2013.5,708.5 2022.5,705.5 2016.5,699.5 2007.5,702.5"/><polygon points="2004.5,711.5 2013.5,708.5 2007.5,702.5 1998.5,705.5"/><polygon points="1992.5,711.5 2004.5,711.5 1998.5,705.5 1986.5,708.5"/><polygon points="1983.5,714.5 1992.5,711.5 1986.5,708.5 1977.5,711.5"/><polygon points="1971.5,717.5 1983.5,714.5 1977.5,711.5 1965.5,714.5"/><polygon points="1962.5,720.5 1971.5,717.5 1965.5,714.5 1956.5,714.5"/><polygon points="1953.5,723.5 1962.5,720.5 1956.5,714.5 1947.5,717.5"/><polygon points="1941.5,726.5 1953.5,723.5 1947.5,717.5 1935.5,720.5"/><polygon points="1932.5,729.5 1941.5,726.5 1935.5,720.5 1926.5,723.5"/><polygon points="1920.5,732.5 1932.5,729.5 1926.5,723.5 1914.5,726.5"/><polygon points="1911.5,732.5 1920.5,732.5 1914.5,726.5 1905.5,729.5"/><polygon points="1902.5,732.5 1911.5,732.5 1905.5,729.5 1896.5,723.5"/><polygon points="1890.5,708.5 1902.5,732.5 1896.5,723.5 1884.5,684.5"/><polygon points="1881.5,618.5 1890.5,708.5 1884.5,684.5 1875.5,570.5"/><polygon points="1869.5,477.5 1881.5,618.5 1875.5,570.5 1863.5,435.5"/><polygon points="1860.5,387.5 1869.5,477.5 1863.5,435.5 1854.5,366.5"/><polygon points="1851.5,360.5 1860.5,387.5 1854.5,366.5 1845.5,354.5"/><polygon points="1839.5,360.5 1851.5,360.5 1845.5,354.5 1833.5,357.5"/><polygon points="1830.5,363.5 1839.5,360.5 1833.5,357.5 1824.5,360.5"/><polygon points="1818.5,366.5 1830.5,363.5 1824.5,360.5 1812.5,363.5"/><polygon points="1809.5,372.5 1818.5,366.5 1812.5,363.5 1803.5,366.5"/><polygon points="1800.5,384.5 1809.5,372.5 1803.5,366.5 1794.5,390.5"/><polygon points="1788.5,444.5 1800.5,384.5 1794.5,390.5 1782.5,471.5"/><polygon points="1779.5,576.5 1788.5,444.5 1782.5,471.5 1773.5,615.5"/><polygon points="1767.5,705.5 1779.5,576.5 1773.5,615.5 1761.5,726.5"/><polygon points="1758.5,765.5 1767.5,705.5 1761.5,726.5 1752.5,765.5"/><polygon points="1749.5,780.5 1758.5,765.5 1752.5,765.5 1743.5,774.5"/><polygon points="1737.5,783.5 1749.5,780.5 1743.5,774.5 1731.5,777.5"/><polygon points="1728.5,786.5 1737.5,783.5 1731.5,777.5 1722.5,780.5"/><polygon points="1716.5,789.5 1728.5,786.5 1722.5,780.5 1710.5,783.5"/><polygon points="1707.5,792.5 1716.5,789.5 1710.5,783.5 1701.5,786.5"/><polygon points="1698.5,795.5 1707.5,792.5 1701.5,786.5 1692.5,789.5"/><polygon points="1686.5,798.5 1698.5,795.5 1692.5,789.5 1680.5,792.5"/><polygon points="1677.5,801.5 1686.5,798.5 1680.5,792.5 1671.5,795.5"/><polygon points="1665.5,804.5 1677.5,801.5 1671.5,795.5 1659.5,798.5"/><polygon points="1656.5,807.5 1665.5,804.5 1659.5,798.5 1650.5,801.5"/><polygon points="1647.5,810.5 1656.5,807.5 1650.5,801.5 1641.5,804.5"/><polygon points="1635.5,810.5 1647.5,810.5 1641.5,804.5 1629.5,807.5"/><polygon points="1626.5,813.5 1635.5,810.5 1629.5,807.5 1620.5,810.5"/><polygon points="1614.5,816.5 1626.5,813.5 1620.5,810.5 1608.5,813.5"/><polygon points="1605.5,819.5 1614.5,816.5 1608.5,813.5 1599.5,816.5"/><polygon points="1596.5,822.5 1605.5,819.5 1599.5,816.5 1590.5,819.5"/><polygon points="1584.5,825.5 1596.5,822.5 1590.5,819.5 1578.5,822.5"/><polygon points="1575.5,828.5 1584.5,825.5 1578.5,822.5 1569.5,822.5"/><polygon points="1563.5,831.5 1575.5,828.5 1569.5,822.5 1557.5,825.5"/><polygon points="1554.5,834.5 1563.5,831.5 1557.5,825.5 1548.5,828.5"/><polygon points="2049.5,705.5 2061.5,702.5 2055.5,696.5 2043.5,699.5"/><polygon points="2040.5,705.5 2049.5,705.5 2043.5,699.5 2034.5,702.5"/><polygon points="2028.5,708.5 2040.5,705.5 2034.5,702.5 2022.5,705.5"/><polygon points="2019.5,711.5 2028.5,708.5 2022.5,705.5 2013.5,708.5"/><polygon points="2010.5,714.5 2019.5,711.5 2013.5,708.5 2004.5,711.5"/><polygon points="1998.5,717.5 2010.5,714.5 2004.5,711.5 1992.5,711.5"/><polygon points="1989.5,720.5 1998.5,717.5 1992.5,711.5 1983.5,714.5"/><polygon points="1977.5,723.5 1989.5,720.5 1983.5,714.5 1971.5,717.5"/><polygon points="1968.5,726.5 1977.5,723.5 1971.5,717.5 1962.5,720.5"/><polygon points="1959.5,729.5 1968.5,726.5 1962.5,720.5 1953.5,723.5"/><polygon points="1947.5,732.5 1959.5,729.5 1953.5,723.5 1941.5,726.5"/><polygon points="1938.5,732.5 1947.5,732.5 1941.5,726.5 1932.5,729.5"/><polygon points="1926.5,735.5 1938.5,732.5 1932.5,729.5 1920.5,732.5"/><polygon points="1917.5,738.5 1926.5,735.5 1920.5,732.5 1911.5,732.5"/><polygon points="1908.5,741.5 1917.5,738.5 1911.5,732.5 1902.5,732.5"/><polygon points="1896.5,726.5 1908.5,741.5 1902.5,732.5 1890.5,708.5"/><polygon points="1887.5,657.5 1896.5,726.5 1890.5,708.5 1881.5,618.5"/><polygon points="1875.5,525.5 1887.5,657.5 1881.5,618.5 1869.5,477.5"/><polygon points="1866.5,411.5 1875.5,525.5 1869.5,477.5 1860.5,387.5"/><polygon points="1857.5,369.5 1866.5,411.5 1860.5,387.5 1851.5,360.5"/><polygon points="1845.5,366.5 1857.5,369.5 1851.5,360.5 1839.5,360.5"/><polygon points="1836.5,369.5 1845.5,366.5 1839.5,360.5 1830.5,363.5"/><polygon points="1824.5,372.5 1836.5,369.5 1830.5,363.5 1818.5,366.5"/><polygon points="1815.5,375.5 1824.5,372.5 1818.5,366.5 1809.5,372.5"/><polygon points="1806.5,384.5 1815.5,375.5 1809.5,372.5 1800.5,384.5"/><polygon points="1794.5,423.5 1806.5,384.5 1800.5,384.5 1788.5,444.5"/><polygon points="1785.5,537.5 1794.5,423.5 1788.5,444.5 1779.5,576.5"/><polygon points="1773.5,678.5 1785.5,537.5 1779.5,576.5 1767.5,705.5"/><polygon points="1764.5,762.5 1773.5,678.5 1767.5,705.5 1758.5,765.5"/><polygon points="1755.5,783.5 1764.5,762.5 1758.5,765.5 1749.5,780.5"/><polygon points="1743.5,789.5 1755.5,783.5 1749.5,780.5 1737.5,783.5"/><polygon points="1734.5,792.5 1743.5,789.5 1737.5,783.5 1728.5,786.5"/><polygon points="1722.5,795.5 1734.5,792.5 1728.5,786.5 1716.5,789.5"/><polygon points="1713.5,798.5 1722.5,795.5 1716.5,789.5 1707.5,792.5"/><polygon points="1704.5,798.5 1713.5,798.5 1707.5,792.5 1698.5,795.5"/><polygon points="1692.5,801.5 1704.5,798.5 1698.5,795.5 1686.5,798.5"/><polygon points="1683.5,804.5 1692.5,801.5 1686.5,798.5 1677.5,801.5"/><polygon points="1671.5,807.5 1683.5,804.5 1677.5,801.5 1665.5,804.5"/><polygon points="1662.5,810.5 1671.5,807.5 1665.5,804.5 1656.5,807.5"/><polygon points="1653.5,813.5 1662.5,810.5 1656.5,807.5 1647.5,810.5"/><polygon points="1641.5,816.5 1653.5,813.5 1647.5,810.5 1635.5,810.5"/><polygon points="1632.5,819.5 1641.5,816.5 1635.5,810.5 1626.5,813.5"/><polygon points="1620.5,822.5 1632.5,819.5 1626.5,813.5 1614.5,816.5"/><polygon points="1611.5,825.5 1620.5,822.5 1614.5,816.5 1605.5,819.5"/><polygon points="1602.5,828.5 1611.5,825.5 1605.5,819.5 1596.5,822.5"/><polygon points="1590.5,831.5 1602.5,828.5 1596.5,822.5 1584.5,825.5"/><polygon points="1581.5,834.5 1590.5,831.5 1584.5,825.5 1575.5,828.5"/><polygon points="1569.5,837.5 1581.5,834.5 1575.5,828.5 1563.5,831.5"/><polygon points="1560.5,840.5 1569.5,837.5 1563.5,831.5 1554.5,834.5"/><polygon points="2055.5,708.5 2067.5,705.5 2061.5,702.5 2049.5,705.5"/><polygon points="2046.5,711.5 2055.5,708.5 2049.5,705.5 2040.5,705.5"/><polygon points="2034.5,714.5 2046.5,711.5 2040.5,705.5 2028.5,708.5"/><polygon points="2025.5,717.5 2034.5,714.5 2028.5,708.5 2019.5,711.5"/><polygon points="2016.5,720.5 2025.5,717.5 2019.5,711.5 2010.5,714.5"/><polygon points="2004.5,723.5 2016.5,720.5 2010.5,714.5 1998.5,717.5"/><polygon points="1995.5,726.5 2004.5,723.5 1998.5,717.5 1989.5,720.5"/><polygon points="1983.5,729.5 1995.5,726.5 1989.5,720.5 1977.5,723.5"/><polygon points="1974.5,729.5 1983.5,729.5 1977.5,723.5 1968.5,726.5"/><polygon points="1965.5,732.5 1974.5,729.5 1968.5,726.5 1959.5,729.5"/><polygon points="1953.5,735.5 1965.5,732.5 1959.5,729.5 1947.5,732.5"/><polygon points="1944.5,738.5 1953.5,735.5 1947.5,732.5 1938.5,732.5"/><polygon points="1932.5,741.5 1944.5,738.5 1938.5,732.5 1926.5,735.5"/><polygon points="1923.5,744.5 1932.5,741.5 1926.5,735.5 1917.5,738.5"/><polygon points="1914.5,744.5 1923.5,744.5 1917.5,738.5 1908.5,741.5"/><polygon points="1902.5,738.5 1914.5,744.5 1908.5,741.5 1896.5,726.5"/><polygon points="1893.5,693.5 1902.5,738.5 1896.5,726.5 1887.5,657.5"/><polygon points="1881.5,573.5 1893.5,693.5 1887.5,657.5 1875.5,525.5"/><polygon points="1872.5,441.5 1881.5,573.5 1875.5,525.5 1866.5,411.5"/><polygon points="1863.5,381.5 1872.5,441.5 1866.5,411.5 1857.5,369.5"/><polygon points="1851.5,372.5 1863.5,381.5 1857.5,369.5 1845.5,366.5"/><polygon points="1842.5,375.5 1851.5,372.5 1845.5,366.5 1836.5,369.5"/><polygon points="1830.5,378.5 1842.5,375.5 1836.5,369.5 1824.5,372.5"/><polygon points="1821.5,381.5 1830.5,378.5 1824.5,372.5 1815.5,375.5"/><polygon points="1812.5,384.5 1821.5,381.5 1815.5,375.5 1806.5,384.5"/><polygon points="1800.5,411.5 1812.5,384.5 1806.5,384.5 1794.5,423.5"/><polygon points="1791.5,501.5 1800.5,411.5 1794.5,423.5 1785.5,537.5"/><polygon points="1779.5,645.5 1791.5,501.5 1785.5,537.5 1773.5,678.5"/><polygon points="1770.5,750.5 1779.5,645.5 1773.5,678.5 1764.5,762.5"/><polygon points="1761.5,786.5 1770.5,750.5 1764.5,762.5 1755.5,783.5"/><polygon points="1749.5,792.5 1761.5,786.5 1755.5,783.5 1743.5,789.5"/><polygon points="1740.5,795.5 1749.5,792.5 1743.5,789.5 1734.5,792.5"/><polygon points="1728.5,798.5 1740.5,795.5 1734.5,792.5 1722.5,795.5"/><polygon points="1719.5,801.5 1728.5,798.5 1722.5,795.5 1713.5,798.5"/><polygon points="1710.5,804.5 1719.5,801.5 1713.5,798.5 1704.5,798.5"/><polygon points="1698.5,807.5 1710.5,804.5 1704.5,798.5 1692.5,801.5"/><polygon points="1689.5,810.5 1698.5,807.5 1692.5,801.5 1683.5,804.5"/><polygon points="1677.5,813.5 1689.5,810.5 1683.5,804.5 1671.5,807.5"/><polygon points="1668.5,816.5 1677.5,813.5 1671.5,807.5 1662.5,810.5"/><polygon points="1659.5,819.5 1668.5,816.5 1662.5,810.5 1653.5,813.5"/><polygon points="1647.5,822.5 1659.5,819.5 1653.5,813.5 1641.5,816.5"/><polygon points="1638.5,825.5 1647.5,822.5 1641.5,816.5 1632.5,819.5"/><polygon points="1626.5,828.5 1638.5,825.5 1632.5,819.5 1620.5,822.5"/><polygon points="1617.5,831.5 1626.5,828.5 1620.5,822.5 1611.5,825.5"/><polygon points="1608.5,834.5 1617.5,831.5 1611.5,825.5 1602.5,828.5"/><polygon points="1596.5,834.5 1608.5,834.5 1602.5,828.5 1590.5,831.5"/><polygon points="1587.5,837.5 1596.5,834.5 1590.5,831.5 1581.5,834.5"/><polygon points="1575.5,840.5 1587.5,837.5 1581.5,834.5 1569.5,837.5"/><polygon points="1566.5,843.5 1575.5,840.5 1569.5,837.5 1560.5,840.5"/><polygon points="2061.5,714.5 2070.5,711.5 2067.5,705.5 2055.5,708.5"/><polygon points="2052.5,717.5 2061.5,714.5 2055.5,708.5 2046.5,711.5"/><polygon points="2040.5,720.5 2052.5,717.5 2046.5,711.5 2034.5,714.5"/><polygon points="2031.5,723.5 2040.5,720.5 2034.5,714.5 2025.5,717.5"/><polygon points="2019.5,723.5 2031.5,723.5 2025.5,717.5 2016.5,720.5"/><polygon points="2010.5,726.5 2019.5,723.5 2016.5,720.5 2004.5,723.5"/><polygon points="2001.5,729.5 2010.5,726.5 2004.5,723.5 1995.5,726.5"/><polygon points="1989.5,732.5 2001.5,729.5 1995.5,726.5 1983.5,729.5"/><polygon points="1980.5,735.5 1989.5,732.5 1983.5,729.5 1974.5,729.5"/><polygon points="1968.5,738.5 1980.5,735.5 1974.5,729.5 1965.5,732.5"/><polygon points="1959.5,741.5 1968.5,738.5 1965.5,732.5 1953.5,735.5"/><polygon points="1950.5,744.5 1959.5,741.5 1953.5,735.5 1944.5,738.5"/><polygon points="1938.5,747.5 1950.5,744.5 1944.5,738.5 1932.5,741.5"/><polygon points="1929.5,747.5 1938.5,747.5 1932.5,741.5 1923.5,744.5"/><polygon points="1917.5,750.5 1929.5,747.5 1923.5,744.5 1914.5,744.5"/><polygon points="1908.5,750.5 1917.5,750.5 1914.5,744.5 1902.5,738.5"/><polygon points="1899.5,720.5 1908.5,750.5 1902.5,738.5 1893.5,693.5"/><polygon points="1887.5,621.5 1899.5,720.5 1893.5,693.5 1881.5,573.5"/><polygon points="1878.5,483.5 1887.5,621.5 1881.5,573.5 1872.5,441.5"/><polygon points="1866.5,399.5 1878.5,483.5 1872.5,441.5 1863.5,381.5"/><polygon points="1857.5,378.5 1866.5,399.5 1863.5,381.5 1851.5,372.5"/><polygon points="1848.5,378.5 1857.5,378.5 1851.5,372.5 1842.5,375.5"/><polygon points="1836.5,381.5 1848.5,378.5 1842.5,375.5 1830.5,378.5"/><polygon points="1827.5,384.5 1836.5,381.5 1830.5,378.5 1821.5,381.5"/><polygon points="1815.5,390.5 1827.5,384.5 1821.5,381.5 1812.5,384.5"/><polygon points="1806.5,405.5 1815.5,390.5 1812.5,384.5 1800.5,411.5"/><polygon points="1797.5,471.5 1806.5,405.5 1800.5,411.5 1791.5,501.5"/><polygon points="1785.5,609.5 1797.5,471.5 1791.5,501.5 1779.5,645.5"/><polygon points="1776.5,732.5 1785.5,609.5 1779.5,645.5 1770.5,750.5"/><polygon points="1764.5,786.5 1776.5,732.5 1770.5,750.5 1761.5,786.5"/><polygon points="1755.5,798.5 1764.5,786.5 1761.5,786.5 1749.5,792.5"/><polygon points="1746.5,801.5 1755.5,798.5 1749.5,792.5 1740.5,795.5"/><polygon points="1734.5,804.5 1746.5,801.5 1740.5,795.5 1728.5,798.5"/><polygon points="1725.5,807.5 1734.5,804.5 1728.5,798.5 1719.5,801.5"/><polygon points="1713.5,810.5 1725.5,807.5 1719.5,801.5 1710.5,804.5"/><polygon points="1704.5,813.5 1713.5,810.5 1710.5,804.5 1698.5,807.5"/><polygon points="1695.5,816.5 1704.5,813.5 1698.5,807.5 1689.5,810.5"/><polygon points="1683.5,819.5 1695.5,816.5 1689.5,810.5 1677.5,813.5"/><polygon points="1674.5,822.5 1683.5,819.5 1677.5,813.5 1668.5,816.5"/><polygon points="1662.5,822.5 1674.5,822.5 1668.5,816.5 1659.5,819.5"/><polygon points="1653.5,825.5 1662.5,822.5 1659.5,819.5 1647.5,822.5"/><polygon points="1644.5,828.5 1653.5,825.5 1647.5,822.5 1638.5,825.5"/><polygon points="1632.5,831.5 1644.5,828.5 1638.5,825.5 1626.5,828.5"/><polygon points="1623.5,834.5 1632.5,831.5 1626.5,828.5 1617.5,831.5"/><polygon points="1611.5,837.5 1623.5,834.5 1617.5,831.5 1608.5,834.5"/><polygon points="1602.5,840.5 1611.5,837.5 1608.5,834.5 1596.5,834.5"/><polygon points="1593.5,843.5 1602.5,840.5 1596.5,834.5 1587.5,837.5"/><polygon points="1581.5,846.5 1593.5,843.5 1587.5,837.5 1575.5,840.5"/><polygon points="1572.5,849.5 1581.5,846.5 1575.5,840.5 1566.5,843.5"/><polygon points="2067.5,717.5 2076.5,714.5 2070.5,711.5 2061.5,714.5"/><polygon points="2058.5,720.5 2067.5,717.5 2061.5,714.5 2052.5,717.5"/><polygon points="2046.5,723.5 2058.5,720.5 2052.5,717.5 2040.5,720.5"/><polygon points="2037.5,726.5 2046.5,723.5 2040.5,720.5 2031.5,723.5"/><polygon points="2025.5,729.5 2037.5,726.5 2031.5,723.5 2019.5,723.5"/><polygon points="2016.5,732.5 2025.5,729.5 2019.5,723.5 2010.5,726.5"/><polygon points="2007.5,735.5 2016.5,732.5 2010.5,726.5 2001.5,729.5"/><polygon points="1995.5,738.5 2007.5,735.5 2001.5,729.5 1989.5,732.5"/><polygon points="1986.5,741.5 1995.5,738.5 1989.5,732.5 1980.5,735.5"/><polygon points="1974.5,744.5 1986.5,741.5 1980.5,735.5 1968.5,738.5"/><polygon points="1965.5,744.5 1974.5,744.5 1968.5,738.5 1959.5,741.5"/><polygon points="1956.5,747.5 1965.5,744.5 1959.5,741.5 1950.5,744.5"/><polygon points="1944.5,750.5 1956.5,747.5 1950.5,744.5 1938.5,747.5"/><polygon points="1935.5,753.5 1944.5,750.5 1938.5,747.5 1929.5,747.5"/><polygon points="1923.5,756.5 1935.5,753.5 1929.5,747.5 1917.5,750.5"/><polygon points="1914.5,756.5 1923.5,756.5 1917.5,750.5 1908.5,750.5"/><polygon points="1905.5,741.5 1914.5,756.5 1908.5,750.5 1899.5,720.5"/><polygon points="1893.5,663.5 1905.5,741.5 1899.5,720.5 1887.5,621.5"/><polygon points="1884.5,528.5 1893.5,663.5 1887.5,621.5 1878.5,483.5"/><polygon points="1872.5,420.5 1884.5,528.5 1878.5,483.5 1866.5,399.5"/><polygon points="1863.5,387.5 1872.5,420.5 1866.5,399.5 1857.5,378.5"/><polygon points="1854.5,384.5 1863.5,387.5 1857.5,378.5 1848.5,378.5"/><polygon points="1842.5,387.5 1854.5,384.5 1848.5,378.5 1836.5,381.5"/><polygon points="1833.5,390.5 1842.5,387.5 1836.5,381.5 1827.5,384.5"/><polygon points="1821.5,393.5 1833.5,390.5 1827.5,384.5 1815.5,390.5"/><polygon points="1812.5,402.5 1821.5,393.5 1815.5,390.5 1806.5,405.5"/><polygon points="1803.5,450.5 1812.5,402.5 1806.5,405.5 1797.5,471.5"/><polygon points="1791.5,567.5 1803.5,450.5 1797.5,471.5 1785.5,609.5"/><polygon points="1782.5,708.5 1791.5,567.5 1785.5,609.5 1776.5,732.5"/><polygon points="1770.5,783.5 1782.5,708.5 1776.5,732.5 1764.5,786.5"/><polygon points="1761.5,801.5 1770.5,783.5 1764.5,786.5 1755.5,798.5"/><polygon points="1752.5,807.5 1761.5,801.5 1755.5,798.5 1746.5,801.5"/><polygon points="1740.5,810.5 1752.5,807.5 1746.5,801.5 1734.5,804.5"/><polygon points="1731.5,810.5 1740.5,810.5 1734.5,804.5 1725.5,807.5"/><polygon points="1719.5,813.5 1731.5,810.5 1725.5,807.5 1713.5,810.5"/><polygon points="1710.5,816.5 1719.5,813.5 1713.5,810.5 1704.5,813.5"/><polygon points="1701.5,819.5 1710.5,816.5 1704.5,813.5 1695.5,816.5"/><polygon points="1689.5,822.5 1701.5,819.5 1695.5,816.5 1683.5,819.5"/><polygon points="1680.5,825.5 1689.5,822.5 1683.5,819.5 1674.5,822.5"/><polygon points="1668.5,828.5 1680.5,825.5 1674.5,822.5 1662.5,822.5"/><polygon points="1659.5,831.5 1668.5,828.5 1662.5,822.5 1653.5,825.5"/><polygon points="1650.5,834.5 1659.5,831.5 1653.5,825.5 1644.5,828.5"/><polygon points="1638.5,837.5 1650.5,834.5 1644.5,828.5 1632.5,831.5"/><polygon points="1629.5,840.5 1638.5,837.5 1632.5,831.5 1623.5,834.5"/><polygon points="1617.5,843.5 1629.5,840.5 1623.5,834.5 1611.5,837.5"/><polygon points="1608.5,846.5 1617.5,843.5 1611.5,837.5 1602.5,840.5"/><polygon points="1599.5,849.5 1608.5,846.5 1602.5,840.5 1593.5,843.5"/><polygon points="1587.5,852.5 1599.5,849.5 1593.5,843.5 1581.5,846.5"/><polygon points="1578.5,855.5 1587.5,852.5 1581.5,846.5 1572.5,849.5"/><polygon points="2073.5,723.5 2082.5,720.5 2076.5,714.5 2067.5,717.5"/><polygon points="2064.5,726.5 2073.5,723.5 2067.5,717.5 2058.5,720.5"/><polygon points="2052.5,729.5 2064.5,726.5 2058.5,720.5 2046.5,723.5"/><polygon points="2043.5,732.5 2052.5,729.5 2046.5,723.5 2037.5,726.5"/><polygon points="2031.5,735.5 2043.5,732.5 2037.5,726.5 2025.5,729.5"/><polygon points="2022.5,738.5 2031.5,735.5 2025.5,729.5 2016.5,732.5"/><polygon points="2013.5,741.5 2022.5,738.5 2016.5,732.5 2007.5,735.5"/><polygon points="2001.5,741.5 2013.5,741.5 2007.5,735.5 1995.5,738.5"/><polygon points="1992.5,744.5 2001.5,741.5 1995.5,738.5 1986.5,741.5"/><polygon points="1980.5,747.5 1992.5,744.5 1986.5,741.5 1974.5,744.5"/><polygon points="1971.5,750.5 1980.5,747.5 1974.5,744.5 1965.5,744.5"/><polygon points="1962.5,753.5 1971.5,750.5 1965.5,744.5 1956.5,747.5"/><polygon points="1950.5,756.5 1962.5,753.5 1956.5,747.5 1944.5,750.5"/><polygon points="1941.5,759.5 1950.5,756.5 1944.5,750.5 1935.5,753.5"/><polygon points="1929.5,762.5 1941.5,759.5 1935.5,753.5 1923.5,756.5"/><polygon points="1920.5,762.5 1929.5,762.5 1923.5,756.5 1914.5,756.5"/><polygon points="1911.5,756.5 1920.5,762.5 1914.5,756.5 1905.5,741.5"/><polygon points="1899.5,702.5 1911.5,756.5 1905.5,741.5 1893.5,663.5"/><polygon points="1890.5,576.5 1899.5,702.5 1893.5,663.5 1884.5,528.5"/><polygon points="1878.5,450.5 1890.5,576.5 1884.5,528.5 1872.5,420.5"/><polygon points="1869.5,396.5 1878.5,450.5 1872.5,420.5 1863.5,387.5"/><polygon points="1860.5,390.5 1869.5,396.5 1863.5,387.5 1854.5,384.5"/><polygon points="1848.5,390.5 1860.5,390.5 1854.5,384.5 1842.5,387.5"/><polygon points="1839.5,393.5 1848.5,390.5 1842.5,387.5 1833.5,390.5"/><polygon points="1827.5,396.5 1839.5,393.5 1833.5,390.5 1821.5,393.5"/><polygon points="1818.5,405.5 1827.5,396.5 1821.5,393.5 1812.5,402.5"/><polygon points="1809.5,435.5 1818.5,405.5 1812.5,402.5 1803.5,450.5"/><polygon points="1797.5,531.5 1809.5,435.5 1803.5,450.5 1791.5,567.5"/><polygon points="1788.5,678.5 1797.5,531.5 1791.5,567.5 1782.5,708.5"/><polygon points="1776.5,774.5 1788.5,678.5 1782.5,708.5 1770.5,783.5"/><polygon points="1767.5,804.5 1776.5,774.5 1770.5,783.5 1761.5,801.5"/><polygon points="1758.5,810.5 1767.5,804.5 1761.5,801.5 1752.5,807.5"/><polygon points="1746.5,813.5 1758.5,810.5 1752.5,807.5 1740.5,810.5"/><polygon points="1737.5,816.5 1746.5,813.5 1740.5,810.5 1731.5,810.5"/><polygon points="1725.5,819.5 1737.5,816.5 1731.5,810.5 1719.5,813.5"/><polygon points="1716.5,822.5 1725.5,819.5 1719.5,813.5 1710.5,816.5"/><polygon points="1707.5,825.5 1716.5,822.5 1710.5,816.5 1701.5,819.5"/><polygon points="1695.5,828.5 1707.5,825.5 1701.5,819.5 1689.5,822.5"/><polygon points="1686.5,831.5 1695.5,828.5 1689.5,822.5 1680.5,825.5"/><polygon points="1674.5,834.5 1686.5,831.5 1680.5,825.5 1668.5,828.5"/><polygon points="1665.5,837.5 1674.5,834.5 1668.5,828.5 1659.5,831.5"/><polygon points="1656.5,840.5 1665.5,837.5 1659.5,831.5 1650.5,834.5"/><polygon points="1644.5,843.5 1656.5,840.5 1650.5,834.5 1638.5,837.5"/><polygon points="1635.5,846.5 1644.5,843.5 1638.5,837.5 1629.5,840.5"/><polygon points="1623.5,846.5 1635.5,846.5 1629.5,840.5 1617.5,843.5"/><polygon points="1614.5,849.5 1623.5,846.5 1617.5,843.5 1608.5,846.5"/><polygon points="1605.5,852.5 1614.5,849.5 1608.5,846.5 1599.5,849.5"/><polygon points="1593.5,855.5 1605.5,852.5 1599.5,849.5 1587.5,852.5"/><polygon points="1584.5,858.5 1593.5,855.5 1587.5,852.5 1578.5,855.5"/><polygon points="2079.5,729.5 2088.5,726.5 2082.5,720.5 2073.5,723.5"/><polygon points="2070.5,732.5 2079.5,729.5 2073.5,723.5 2064.5,726.5"/><polygon points="2058.5,735.5 2070.5,732.5 2064.5,726.5 2052.5,729.5"/><polygon points="2049.5,735.5 2058.5,735.5 2052.5,729.5 2043.5,732.5"/><polygon points="2037.5,738.5 2049.5,735.5 2043.5,732.5 2031.5,735.5"/><polygon points="2028.5,741.5 2037.5,738.5 2031.5,735.5 2022.5,738.5"/><polygon points="2019.5,744.5 2028.5,741.5 2022.5,738.5 2013.5,741.5"/><polygon points="2007.5,747.5 2019.5,744.5 2013.5,741.5 2001.5,741.5"/><polygon points="1998.5,750.5 2007.5,747.5 2001.5,741.5 1992.5,744.5"/><polygon points="1986.5,753.5 1998.5,750.5 1992.5,744.5 1980.5,747.5"/><polygon points="1977.5,756.5 1986.5,753.5 1980.5,747.5 1971.5,750.5"/><polygon points="1968.5,759.5 1977.5,756.5 1971.5,750.5 1962.5,753.5"/><polygon points="1956.5,759.5 1968.5,759.5 1962.5,753.5 1950.5,756.5"/><polygon points="1947.5,762.5 1956.5,759.5 1950.5,756.5 1941.5,759.5"/><polygon points="1935.5,765.5 1947.5,762.5 1941.5,759.5 1929.5,762.5"/><polygon points="1926.5,768.5 1935.5,765.5 1929.5,762.5 1920.5,762.5"/><polygon points="1917.5,765.5 1926.5,768.5 1920.5,762.5 1911.5,756.5"/><polygon points="1905.5,732.5 1917.5,765.5 1911.5,756.5 1899.5,702.5"/><polygon points="1896.5,624.5 1905.5,732.5 1899.5,702.5 1890.5,576.5"/><polygon points="1884.5,486.5 1896.5,624.5 1890.5,576.5 1878.5,450.5"/><polygon points="1875.5,411.5 1884.5,486.5 1878.5,450.5 1869.5,396.5"/><polygon points="1866.5,396.5 1875.5,411.5 1869.5,396.5 1860.5,390.5"/><polygon points="1854.5,396.5 1866.5,396.5 1860.5,390.5 1848.5,390.5"/><polygon points="1845.5,399.5 1854.5,396.5 1848.5,390.5 1839.5,393.5"/><polygon points="1833.5,402.5 1845.5,399.5 1839.5,393.5 1827.5,396.5"/><polygon points="1824.5,408.5 1833.5,402.5 1827.5,396.5 1818.5,405.5"/><polygon points="1815.5,426.5 1824.5,408.5 1818.5,405.5 1809.5,435.5"/><polygon points="1803.5,501.5 1815.5,426.5 1809.5,435.5 1797.5,531.5"/><polygon points="1794.5,639.5 1803.5,501.5 1797.5,531.5 1788.5,678.5"/><polygon points="1782.5,759.5 1794.5,639.5 1788.5,678.5 1776.5,774.5"/><polygon points="1773.5,804.5 1782.5,759.5 1776.5,774.5 1767.5,804.5"/><polygon points="1764.5,816.5 1773.5,804.5 1767.5,804.5 1758.5,810.5"/><polygon points="1752.5,819.5 1764.5,816.5 1758.5,810.5 1746.5,813.5"/><polygon points="1743.5,822.5 1752.5,819.5 1746.5,813.5 1737.5,816.5"/><polygon points="1731.5,825.5 1743.5,822.5 1737.5,816.5 1725.5,819.5"/><polygon points="1722.5,828.5 1731.5,825.5 1725.5,819.5 1716.5,822.5"/><polygon points="1713.5,831.5 1722.5,828.5 1716.5,822.5 1707.5,825.5"/><polygon points="1701.5,834.5 1713.5,831.5 1707.5,825.5 1695.5,828.5"/><polygon points="1692.5,834.5 1701.5,834.5 1695.5,828.5 1686.5,831.5"/><polygon points="1680.5,837.5 1692.5,834.5 1686.5,831.5 1674.5,834.5"/><polygon points="1671.5,840.5 1680.5,837.5 1674.5,834.5 1665.5,837.5"/><polygon points="1662.5,843.5 1671.5,840.5 1665.5,837.5 1656.5,840.5"/><polygon points="1650.5,846.5 1662.5,843.5 1656.5,840.5 1644.5,843.5"/><polygon points="1641.5,849.5 1650.5,846.5 1644.5,843.5 1635.5,846.5"/><polygon points="1629.5,852.5 1641.5,849.5 1635.5,846.5 1623.5,846.5"/><polygon points="1620.5,855.5 1629.5,852.5 1623.5,846.5 1614.5,849.5"/><polygon points="1611.5,858.5 1620.5,855.5 1614.5,849.5 1605.5,852.5"/><polygon points="1599.5,861.5 1611.5,858.5 1605.5,852.5 1593.5,855.5"/><polygon points="1590.5,864.5 1599.5,861.5 1593.5,855.5 1584.5,858.5"/><polygon points="2085.5,732.5 2094.5,729.5 2088.5,726.5 2079.5,729.5"/><polygon points="2076.5,735.5 2085.5,732.5 2079.5,729.5 2070.5,732.5"/><polygon points="2064.5,738.5 2076.5,735.5 2070.5,732.5 2058.5,735.5"/><polygon points="2055.5,741.5 2064.5,738.5 2058.5,735.5 2049.5,735.5"/><polygon points="2043.5,744.5 2055.5,741.5 2049.5,735.5 2037.5,738.5"/><polygon points="2034.5,747.5 2043.5,744.5 2037.5,738.5 2028.5,741.5"/><polygon points="2025.5,750.5 2034.5,747.5 2028.5,741.5 2019.5,744.5"/><polygon points="2013.5,753.5 2025.5,750.5 2019.5,744.5 2007.5,747.5"/><polygon points="2004.5,756.5 2013.5,753.5 2007.5,747.5 1998.5,750.5"/><polygon points="1992.5,756.5 2004.5,756.5 1998.5,750.5 1986.5,753.5"/><polygon points="1983.5,759.5 1992.5,756.5 1986.5,753.5 1977.5,756.5"/><polygon points="1974.5,762.5 1983.5,759.5 1977.5,756.5 1968.5,759.5"/><polygon points="1962.5,765.5 1974.5,762.5 1968.5,759.5 1956.5,759.5"/><polygon points="1953.5,768.5 1962.5,765.5 1956.5,759.5 1947.5,762.5"/><polygon points="1941.5,771.5 1953.5,768.5 1947.5,762.5 1935.5,765.5"/><polygon points="1932.5,774.5 1941.5,771.5 1935.5,765.5 1926.5,768.5"/><polygon points="1923.5,774.5 1932.5,774.5 1926.5,768.5 1917.5,765.5"/><polygon points="1911.5,753.5 1923.5,774.5 1917.5,765.5 1905.5,732.5"/><polygon points="1902.5,669.5 1911.5,753.5 1905.5,732.5 1896.5,624.5"/><polygon points="1890.5,531.5 1902.5,669.5 1896.5,624.5 1884.5,486.5"/><polygon points="1881.5,432.5 1890.5,531.5 1884.5,486.5 1875.5,411.5"/><polygon points="1872.5,402.5 1881.5,432.5 1875.5,411.5 1866.5,396.5"/><polygon points="1860.5,402.5 1872.5,402.5 1866.5,396.5 1854.5,396.5"/><polygon points="1851.5,405.5 1860.5,402.5 1854.5,396.5 1845.5,399.5"/><polygon points="1839.5,408.5 1851.5,405.5 1845.5,399.5 1833.5,402.5"/><polygon points="1830.5,411.5 1839.5,408.5 1833.5,402.5 1824.5,408.5"/><polygon points="1821.5,423.5 1830.5,411.5 1824.5,408.5 1815.5,426.5"/><polygon points="1809.5,474.5 1821.5,423.5 1815.5,426.5 1803.5,501.5"/><polygon points="1800.5,600.5 1809.5,474.5 1803.5,501.5 1794.5,639.5"/><polygon points="1788.5,738.5 1800.5,600.5 1794.5,639.5 1782.5,759.5"/><polygon points="1779.5,804.5 1788.5,738.5 1782.5,759.5 1773.5,804.5"/><polygon points="1770.5,819.5 1779.5,804.5 1773.5,804.5 1764.5,816.5"/><polygon points="1758.5,822.5 1770.5,819.5 1764.5,816.5 1752.5,819.5"/><polygon points="1749.5,825.5 1758.5,822.5 1752.5,819.5 1743.5,822.5"/><polygon points="1737.5,828.5 1749.5,825.5 1743.5,822.5 1731.5,825.5"/><polygon points="1728.5,831.5 1737.5,828.5 1731.5,825.5 1722.5,828.5"/><polygon points="1719.5,834.5 1728.5,831.5 1722.5,828.5 1713.5,831.5"/><polygon points="1707.5,837.5 1719.5,834.5 1713.5,831.5 1701.5,834.5"/><polygon points="1698.5,840.5 1707.5,837.5 1701.5,834.5 1692.5,834.5"/><polygon points="1686.5,843.5 1698.5,840.5 1692.5,834.5 1680.5,837.5"/><polygon points="1677.5,846.5 1686.5,843.5 1680.5,837.5 1671.5,840.5"/><polygon points="1668.5,849.5 1677.5,846.5 1671.5,840.5 1662.5,843.5"/><polygon points="1656.5,852.5 1668.5,849.5 1662.5,843.5 1650.5,846.5"/><polygon points="1647.5,855.5 1656.5,852.5 1650.5,846.5 1641.5,849.5"/><polygon points="1635.5,858.5 1647.5,855.5 1641.5,849.5 1629.5,852.5"/><polygon points="1626.5,861.5 1635.5,858.5 1629.5,852.5 1620.5,855.5"/><polygon points="1617.5,864.5 1626.5,861.5 1620.5,855.5 1611.5,858.5"/><polygon points="1605.5,867.5 1617.5,864.5 1611.5,858.5 1599.5,861.5"/><polygon points="1596.5,867.5 1605.5,867.5 1599.5,861.5 1590.5,864.5"/><polygon points="2091.5,738.5 2100.5,735.5 2094.5,729.5 2085.5,732.5"/><polygon points="2079.5,741.5 2091.5,738.5 2085.5,732.5 2076.5,735.5"/><polygon points="2070.5,744.5 2079.5,741.5 2076.5,735.5 2064.5,738.5"/><polygon points="2061.5,747.5 2070.5,744.5 2064.5,738.5 2055.5,741.5"/><polygon points="2049.5,750.5 2061.5,747.5 2055.5,741.5 2043.5,744.5"/><polygon points="2040.5,753.5 2049.5,750.5 2043.5,744.5 2034.5,747.5"/><polygon points="2028.5,753.5 2040.5,753.5 2034.5,747.5 2025.5,750.5"/><polygon points="2019.5,756.5 2028.5,753.5 2025.5,750.5 2013.5,753.5"/><polygon points="2010.5,759.5 2019.5,756.5 2013.5,753.5 2004.5,756.5"/><polygon points="1998.5,762.5 2010.5,759.5 2004.5,756.5 1992.5,756.5"/><polygon points="1989.5,765.5 1998.5,762.5 1992.5,756.5 1983.5,759.5"/><polygon points="1977.5,768.5 1989.5,765.5 1983.5,759.5 1974.5,762.5"/><polygon points="1968.5,771.5 1977.5,768.5 1974.5,762.5 1962.5,765.5"/><polygon points="1959.5,774.5 1968.5,771.5 1962.5,765.5 1953.5,768.5"/><polygon points="1947.5,777.5 1959.5,774.5 1953.5,768.5 1941.5,771.5"/><polygon points="1938.5,777.5 1947.5,777.5 1941.5,771.5 1932.5,774.5"/><polygon points="1926.5,780.5 1938.5,777.5 1932.5,774.5 1923.5,774.5"/><polygon points="1917.5,771.5 1926.5,780.5 1923.5,774.5 1911.5,753.5"/><polygon points="1908.5,708.5 1917.5,771.5 1911.5,753.5 1902.5,669.5"/><polygon points="1896.5,579.5 1908.5,708.5 1902.5,669.5 1890.5,531.5"/><polygon points="1887.5,459.5 1896.5,579.5 1890.5,531.5 1881.5,432.5"/><polygon points="1875.5,411.5 1887.5,459.5 1881.5,432.5 1872.5,402.5"/><polygon points="1866.5,408.5 1875.5,411.5 1872.5,402.5 1860.5,402.5"/><polygon points="1857.5,408.5 1866.5,408.5 1860.5,402.5 1851.5,405.5"/><polygon points="1845.5,411.5 1857.5,408.5 1851.5,405.5 1839.5,408.5"/><polygon points="1836.5,414.5 1845.5,411.5 1839.5,408.5 1830.5,411.5"/><polygon points="1824.5,423.5 1836.5,414.5 1830.5,411.5 1821.5,423.5"/><polygon points="1815.5,459.5 1824.5,423.5 1821.5,423.5 1809.5,474.5"/><polygon points="1806.5,564.5 1815.5,459.5 1809.5,474.5 1800.5,600.5"/><polygon points="1794.5,708.5 1806.5,564.5 1800.5,600.5 1788.5,738.5"/><polygon points="1785.5,798.5 1794.5,708.5 1788.5,738.5 1779.5,804.5"/><polygon points="1773.5,822.5 1785.5,798.5 1779.5,804.5 1770.5,819.5"/><polygon points="1764.5,828.5 1773.5,822.5 1770.5,819.5 1758.5,822.5"/><polygon points="1755.5,831.5 1764.5,828.5 1758.5,822.5 1749.5,825.5"/><polygon points="1743.5,834.5 1755.5,831.5 1749.5,825.5 1737.5,828.5"/><polygon points="1734.5,837.5 1743.5,834.5 1737.5,828.5 1728.5,831.5"/><polygon points="1722.5,840.5 1734.5,837.5 1728.5,831.5 1719.5,834.5"/><polygon points="1713.5,843.5 1722.5,840.5 1719.5,834.5 1707.5,837.5"/><polygon points="1704.5,846.5 1713.5,843.5 1707.5,837.5 1698.5,840.5"/><polygon points="1692.5,849.5 1704.5,846.5 1698.5,840.5 1686.5,843.5"/><polygon points="1683.5,852.5 1692.5,849.5 1686.5,843.5 1677.5,846.5"/><polygon points="1671.5,855.5 1683.5,852.5 1677.5,846.5 1668.5,849.5"/><polygon points="1662.5,855.5 1671.5,855.5 1668.5,849.5 1656.5,852.5"/><polygon points="1653.5,858.5 1662.5,855.5 1656.5,852.5 1647.5,855.5"/><polygon points="1641.5,861.5 1653.5,858.5 1647.5,855.5 1635.5,858.5"/><polygon points="1632.5,864.5 1641.5,861.5 1635.5,858.5 1626.5,861.5"/><polygon points="1620.5,867.5 1632.5,864.5 1626.5,861.5 1617.5,864.5"/><polygon points="1611.5,870.5 1620.5,867.5 1617.5,864.5 1605.5,867.5"/><polygon points="1602.5,873.5 1611.5,870.5 1605.5,867.5 1596.5,867.5"/><polygon points="2097.5,744.5 2106.5,741.5 2100.5,735.5 2091.5,738.5"/><polygon points="2085.5,747.5 2097.5,744.5 2091.5,738.5 2079.5,741.5"/><polygon points="2076.5,747.5 2085.5,747.5 2079.5,741.5 2070.5,744.5"/><polygon points="2067.5,750.5 2076.5,747.5 2070.5,744.5 2061.5,747.5"/><polygon points="2055.5,753.5 2067.5,750.5 2061.5,747.5 2049.5,750.5"/><polygon points="2046.5,756.5 2055.5,753.5 2049.5,750.5 2040.5,753.5"/><polygon points="2034.5,759.5 2046.5,756.5 2040.5,753.5 2028.5,753.5"/><polygon points="2025.5,762.5 2034.5,759.5 2028.5,753.5 2019.5,756.5"/><polygon points="2016.5,765.5 2025.5,762.5 2019.5,756.5 2010.5,759.5"/><polygon points="2004.5,768.5 2016.5,765.5 2010.5,759.5 1998.5,762.5"/><polygon points="1995.5,771.5 2004.5,768.5 1998.5,762.5 1989.5,765.5"/><polygon points="1983.5,774.5 1995.5,771.5 1989.5,765.5 1977.5,768.5"/><polygon points="1974.5,774.5 1983.5,774.5 1977.5,768.5 1968.5,771.5"/><polygon points="1965.5,777.5 1974.5,774.5 1968.5,771.5 1959.5,774.5"/><polygon points="1953.5,780.5 1965.5,777.5 1959.5,774.5 1947.5,777.5"/><polygon points="1944.5,783.5 1953.5,780.5 1947.5,777.5 1938.5,777.5"/><polygon points="1932.5,786.5 1944.5,783.5 1938.5,777.5 1926.5,780.5"/><polygon points="1923.5,780.5 1932.5,786.5 1926.5,780.5 1917.5,771.5"/><polygon points="1914.5,741.5 1923.5,780.5 1917.5,771.5 1908.5,708.5"/><polygon points="1902.5,627.5 1914.5,741.5 1908.5,708.5 1896.5,579.5"/><polygon points="1893.5,492.5 1902.5,627.5 1896.5,579.5 1887.5,459.5"/><polygon points="1881.5,426.5 1893.5,492.5 1887.5,459.5 1875.5,411.5"/><polygon points="1872.5,414.5 1881.5,426.5 1875.5,411.5 1866.5,408.5"/><polygon points="1863.5,414.5 1872.5,414.5 1866.5,408.5 1857.5,408.5"/><polygon points="1851.5,417.5 1863.5,414.5 1857.5,408.5 1845.5,411.5"/><polygon points="1842.5,420.5 1851.5,417.5 1845.5,411.5 1836.5,414.5"/><polygon points="1830.5,426.5 1842.5,420.5 1836.5,414.5 1824.5,423.5"/><polygon points="1821.5,447.5 1830.5,426.5 1824.5,423.5 1815.5,459.5"/><polygon points="1812.5,528.5 1821.5,447.5 1815.5,459.5 1806.5,564.5"/><polygon points="1800.5,672.5 1812.5,528.5 1806.5,564.5 1794.5,708.5"/><polygon points="1791.5,783.5 1800.5,672.5 1794.5,708.5 1785.5,798.5"/><polygon points="1779.5,825.5 1791.5,783.5 1785.5,798.5 1773.5,822.5"/><polygon points="1770.5,834.5 1779.5,825.5 1773.5,822.5 1764.5,828.5"/><polygon points="1761.5,837.5 1770.5,834.5 1764.5,828.5 1755.5,831.5"/><polygon points="1749.5,840.5 1761.5,837.5 1755.5,831.5 1743.5,834.5"/><polygon points="1740.5,843.5 1749.5,840.5 1743.5,834.5 1734.5,837.5"/><polygon points="1728.5,843.5 1740.5,843.5 1734.5,837.5 1722.5,840.5"/><polygon points="1719.5,846.5 1728.5,843.5 1722.5,840.5 1713.5,843.5"/><polygon points="1710.5,849.5 1719.5,846.5 1713.5,843.5 1704.5,846.5"/><polygon points="1698.5,852.5 1710.5,849.5 1704.5,846.5 1692.5,849.5"/><polygon points="1689.5,855.5 1698.5,852.5 1692.5,849.5 1683.5,852.5"/><polygon points="1677.5,858.5 1689.5,855.5 1683.5,852.5 1671.5,855.5"/><polygon points="1668.5,861.5 1677.5,858.5 1671.5,855.5 1662.5,855.5"/><polygon points="1659.5,864.5 1668.5,861.5 1662.5,855.5 1653.5,858.5"/><polygon points="1647.5,867.5 1659.5,864.5 1653.5,858.5 1641.5,861.5"/><polygon points="1638.5,870.5 1647.5,867.5 1641.5,861.5 1632.5,864.5"/><polygon points="1626.5,873.5 1638.5,870.5 1632.5,864.5 1620.5,867.5"/><polygon points="1617.5,876.5 1626.5,873.5 1620.5,867.5 1611.5,870.5"/><polygon points="1608.5,879.5 1617.5,876.5 1611.5,870.5 1602.5,873.5"/><polygon points="2103.5,747.5 2112.5,744.5 2106.5,741.5 2097.5,744.5"/><polygon points="2091.5,750.5 2103.5,747.5 2097.5,744.5 2085.5,747.5"/><polygon points="2082.5,753.5 2091.5,750.5 2085.5,747.5 2076.5,747.5"/><polygon points="2073.5,756.5 2082.5,753.5 2076.5,747.5 2067.5,750.5"/><polygon points="2061.5,759.5 2073.5,756.5 2067.5,750.5 2055.5,753.5"/><polygon points="2052.5,762.5 2061.5,759.5 2055.5,753.5 2046.5,756.5"/><polygon points="2040.5,765.5 2052.5,762.5 2046.5,756.5 2034.5,759.5"/><polygon points="2031.5,768.5 2040.5,765.5 2034.5,759.5 2025.5,762.5"/><polygon points="2022.5,771.5 2031.5,768.5 2025.5,762.5 2016.5,765.5"/><polygon points="2010.5,771.5 2022.5,771.5 2016.5,765.5 2004.5,768.5"/><polygon points="2001.5,774.5 2010.5,771.5 2004.5,768.5 1995.5,771.5"/><polygon points="1989.5,777.5 2001.5,774.5 1995.5,771.5 1983.5,774.5"/><polygon points="1980.5,780.5 1989.5,777.5 1983.5,774.5 1974.5,774.5"/><polygon points="1971.5,783.5 1980.5,780.5 1974.5,774.5 1965.5,777.5"/><polygon points="1959.5,786.5 1971.5,783.5 1965.5,777.5 1953.5,780.5"/><polygon points="1950.5,789.5 1959.5,786.5 1953.5,780.5 1944.5,783.5"/><polygon points="1938.5,792.5 1950.5,789.5 1944.5,783.5 1932.5,786.5"/><polygon points="1929.5,789.5 1938.5,792.5 1932.5,786.5 1923.5,780.5"/><polygon points="1920.5,765.5 1929.5,789.5 1923.5,780.5 1914.5,741.5"/><polygon points="1908.5,675.5 1920.5,765.5 1914.5,741.5 1902.5,627.5"/><polygon points="1899.5,534.5 1908.5,675.5 1902.5,627.5 1893.5,492.5"/><polygon points="1887.5,444.5 1899.5,534.5 1893.5,492.5 1881.5,426.5"/><polygon points="1878.5,420.5 1887.5,444.5 1881.5,426.5 1872.5,414.5"/><polygon points="1869.5,420.5 1878.5,420.5 1872.5,414.5 1863.5,414.5"/><polygon points="1857.5,423.5 1869.5,420.5 1863.5,414.5 1851.5,417.5"/><polygon points="1848.5,426.5 1857.5,423.5 1851.5,417.5 1842.5,420.5"/><polygon points="1836.5,429.5 1848.5,426.5 1842.5,420.5 1830.5,426.5"/><polygon points="1827.5,441.5 1836.5,429.5 1830.5,426.5 1821.5,447.5"/><polygon points="1818.5,501.5 1827.5,441.5 1821.5,447.5 1812.5,528.5"/><polygon points="1806.5,633.5 1818.5,501.5 1812.5,528.5 1800.5,672.5"/><polygon points="1797.5,765.5 1806.5,633.5 1800.5,672.5 1791.5,783.5"/><polygon points="1785.5,825.5 1797.5,765.5 1791.5,783.5 1779.5,825.5"/><polygon points="1776.5,837.5 1785.5,825.5 1779.5,825.5 1770.5,834.5"/><polygon points="1767.5,840.5 1776.5,837.5 1770.5,834.5 1761.5,837.5"/><polygon points="1755.5,843.5 1767.5,840.5 1761.5,837.5 1749.5,840.5"/><polygon points="1746.5,846.5 1755.5,843.5 1749.5,840.5 1740.5,843.5"/><polygon points="1734.5,849.5 1746.5,846.5 1740.5,843.5 1728.5,843.5"/><polygon points="1725.5,852.5 1734.5,849.5 1728.5,843.5 1719.5,846.5"/><polygon points="1716.5,855.5 1725.5,852.5 1719.5,846.5 1710.5,849.5"/><polygon points="1704.5,858.5 1716.5,855.5 1710.5,849.5 1698.5,852.5"/><polygon points="1695.5,861.5 1704.5,858.5 1698.5,852.5 1689.5,855.5"/><polygon points="1683.5,864.5 1695.5,861.5 1689.5,855.5 1677.5,858.5"/><polygon points="1674.5,867.5 1683.5,864.5 1677.5,858.5 1668.5,861.5"/><polygon points="1665.5,870.5 1674.5,867.5 1668.5,861.5 1659.5,864.5"/><polygon points="1653.5,873.5 1665.5,870.5 1659.5,864.5 1647.5,867.5"/><polygon points="1644.5,876.5 1653.5,873.5 1647.5,867.5 1638.5,870.5"/><polygon points="1632.5,879.5 1644.5,876.5 1638.5,870.5 1626.5,873.5"/><polygon points="1623.5,879.5 1632.5,879.5 1626.5,873.5 1617.5,876.5"/><polygon points="1614.5,882.5 1623.5,879.5 1617.5,876.5 1608.5,879.5"/><polygon points="2109.5,753.5 2118.5,750.5 2112.5,744.5 2103.5,747.5"/><polygon points="2097.5,756.5 2109.5,753.5 2103.5,747.5 2091.5,750.5"/><polygon points="2088.5,759.5 2097.5,756.5 2091.5,750.5 2082.5,753.5"/><polygon points="2079.5,762.5 2088.5,759.5 2082.5,753.5 2073.5,756.5"/><polygon points="2067.5,765.5 2079.5,762.5 2073.5,756.5 2061.5,759.5"/><polygon points="2058.5,765.5 2067.5,765.5 2061.5,759.5 2052.5,762.5"/><polygon points="2046.5,768.5 2058.5,765.5 2052.5,762.5 2040.5,765.5"/><polygon points="2037.5,771.5 2046.5,768.5 2040.5,765.5 2031.5,768.5"/><polygon points="2028.5,774.5 2037.5,771.5 2031.5,768.5 2022.5,771.5"/><polygon points="2016.5,777.5 2028.5,774.5 2022.5,771.5 2010.5,771.5"/><polygon points="2007.5,780.5 2016.5,777.5 2010.5,771.5 2001.5,774.5"/><polygon points="1995.5,783.5 2007.5,780.5 2001.5,774.5 1989.5,777.5"/><polygon points="1986.5,786.5 1995.5,783.5 1989.5,777.5 1980.5,780.5"/><polygon points="1977.5,789.5 1986.5,786.5 1980.5,780.5 1971.5,783.5"/><polygon points="1965.5,789.5 1977.5,789.5 1971.5,783.5 1959.5,786.5"/><polygon points="1956.5,792.5 1965.5,789.5 1959.5,786.5 1950.5,789.5"/><polygon points="1944.5,795.5 1956.5,792.5 1950.5,789.5 1938.5,792.5"/><polygon points="1935.5,798.5 1944.5,795.5 1938.5,792.5 1929.5,789.5"/><polygon points="1926.5,783.5 1935.5,798.5 1929.5,789.5 1920.5,765.5"/><polygon points="1914.5,717.5 1926.5,783.5 1920.5,765.5 1908.5,675.5"/><polygon points="1905.5,582.5 1914.5,717.5 1908.5,675.5 1899.5,534.5"/><polygon points="1893.5,468.5 1905.5,582.5 1899.5,534.5 1887.5,444.5"/><polygon points="1884.5,429.5 1893.5,468.5 1887.5,444.5 1878.5,420.5"/><polygon points="1875.5,423.5 1884.5,429.5 1878.5,420.5 1869.5,420.5"/><polygon points="1863.5,426.5 1875.5,423.5 1869.5,420.5 1857.5,423.5"/><polygon points="1854.5,429.5 1863.5,426.5 1857.5,423.5 1848.5,426.5"/><polygon points="1842.5,432.5 1854.5,429.5 1848.5,426.5 1836.5,429.5"/><polygon points="1833.5,441.5 1842.5,432.5 1836.5,429.5 1827.5,441.5"/><polygon points="1824.5,483.5 1833.5,441.5 1827.5,441.5 1818.5,501.5"/><polygon points="1812.5,594.5 1824.5,483.5 1818.5,501.5 1806.5,633.5"/><polygon points="1803.5,738.5 1812.5,594.5 1806.5,633.5 1797.5,765.5"/><polygon points="1791.5,819.5 1803.5,738.5 1797.5,765.5 1785.5,825.5"/><polygon points="1782.5,840.5 1791.5,819.5 1785.5,825.5 1776.5,837.5"/><polygon points="1773.5,846.5 1782.5,840.5 1776.5,837.5 1767.5,840.5"/><polygon points="1761.5,849.5 1773.5,846.5 1767.5,840.5 1755.5,843.5"/><polygon points="1752.5,852.5 1761.5,849.5 1755.5,843.5 1746.5,846.5"/><polygon points="1740.5,855.5 1752.5,852.5 1746.5,846.5 1734.5,849.5"/><polygon points="1731.5,858.5 1740.5,855.5 1734.5,849.5 1725.5,852.5"/><polygon points="1722.5,861.5 1731.5,858.5 1725.5,852.5 1716.5,855.5"/><polygon points="1710.5,864.5 1722.5,861.5 1716.5,855.5 1704.5,858.5"/><polygon points="1701.5,867.5 1710.5,864.5 1704.5,858.5 1695.5,861.5"/><polygon points="1689.5,867.5 1701.5,867.5 1695.5,861.5 1683.5,864.5"/><polygon points="1680.5,870.5 1689.5,867.5 1683.5,864.5 1674.5,867.5"/><polygon points="1671.5,873.5 1680.5,870.5 1674.5,867.5 1665.5,870.5"/><polygon points="1659.5,876.5 1671.5,873.5 1665.5,870.5 1653.5,873.5"/><polygon points="1650.5,879.5 1659.5,876.5 1653.5,873.5 1644.5,876.5"/><polygon points="1638.5,882.5 1650.5,879.5 1644.5,876.5 1632.5,879.5"/><polygon points="1629.5,885.5 1638.5,882.5 1632.5,879.5 1623.5,879.5"/><polygon points="1620.5,888.5 1629.5,885.5 1623.5,879.5 1614.5,882.5"/><polygon points="2115.5,759.5 2124.5,756.5 2118.5,750.5 2109.5,753.5"/><polygon points="2103.5,759.5 2115.5,759.5 2109.5,753.5 2097.5,756.5"/><polygon points="2094.5,762.5 2103.5,759.5 2097.5,756.5 2088.5,759.5"/><polygon points="2085.5,765.5 2094.5,762.5 2088.5,759.5 2079.5,762.5"/><polygon points="2073.5,768.5 2085.5,765.5 2079.5,762.5 2067.5,765.5"/><polygon points="2064.5,771.5 2073.5,768.5 2067.5,765.5 2058.5,765.5"/><polygon points="2052.5,774.5 2064.5,771.5 2058.5,765.5 2046.5,768.5"/><polygon points="2043.5,777.5 2052.5,774.5 2046.5,768.5 2037.5,771.5"/><polygon points="2034.5,780.5 2043.5,777.5 2037.5,771.5 2028.5,774.5"/><polygon points="2022.5,783.5 2034.5,780.5 2028.5,774.5 2016.5,777.5"/><polygon points="2013.5,786.5 2022.5,783.5 2016.5,777.5 2007.5,780.5"/><polygon points="2001.5,786.5 2013.5,786.5 2007.5,780.5 1995.5,783.5"/><polygon points="1992.5,789.5 2001.5,786.5 1995.5,783.5 1986.5,786.5"/><polygon points="1983.5,792.5 1992.5,789.5 1986.5,786.5 1977.5,789.5"/><polygon points="1971.5,795.5 1983.5,792.5 1977.5,789.5 1965.5,789.5"/><polygon points="1962.5,798.5 1971.5,795.5 1965.5,789.5 1956.5,792.5"/><polygon points="1950.5,801.5 1962.5,798.5 1956.5,792.5 1944.5,795.5"/><polygon points="1941.5,804.5 1950.5,801.5 1944.5,795.5 1935.5,798.5"/><polygon points="1932.5,798.5 1941.5,804.5 1935.5,798.5 1926.5,783.5"/><polygon points="1920.5,750.5 1932.5,798.5 1926.5,783.5 1914.5,717.5"/><polygon points="1911.5,630.5 1920.5,750.5 1914.5,717.5 1905.5,582.5"/><polygon points="1899.5,501.5 1911.5,630.5 1905.5,582.5 1893.5,468.5"/><polygon points="1890.5,441.5 1899.5,501.5 1893.5,468.5 1884.5,429.5"/><polygon points="1881.5,429.5 1890.5,441.5 1884.5,429.5 1875.5,423.5"/><polygon points="1869.5,432.5 1881.5,429.5 1875.5,423.5 1863.5,426.5"/><polygon points="1860.5,435.5 1869.5,432.5 1863.5,426.5 1854.5,429.5"/><polygon points="1848.5,438.5 1860.5,435.5 1854.5,429.5 1842.5,432.5"/><polygon points="1839.5,444.5 1848.5,438.5 1842.5,432.5 1833.5,441.5"/><polygon points="1830.5,468.5 1839.5,444.5 1833.5,441.5 1824.5,483.5"/><polygon points="1818.5,558.5 1830.5,468.5 1824.5,483.5 1812.5,594.5"/><polygon points="1809.5,702.5 1818.5,558.5 1812.5,594.5 1803.5,738.5"/><polygon points="1797.5,807.5 1809.5,702.5 1803.5,738.5 1791.5,819.5"/><polygon points="1788.5,843.5 1797.5,807.5 1791.5,819.5 1782.5,840.5"/><polygon points="1779.5,849.5 1788.5,843.5 1782.5,840.5 1773.5,846.5"/><polygon points="1767.5,855.5 1779.5,849.5 1773.5,846.5 1761.5,849.5"/><polygon points="1758.5,855.5 1767.5,855.5 1761.5,849.5 1752.5,852.5"/><polygon points="1746.5,858.5 1758.5,855.5 1752.5,852.5 1740.5,855.5"/><polygon points="1737.5,861.5 1746.5,858.5 1740.5,855.5 1731.5,858.5"/><polygon points="1728.5,864.5 1737.5,861.5 1731.5,858.5 1722.5,861.5"/><polygon points="1716.5,867.5 1728.5,864.5 1722.5,861.5 1710.5,864.5"/><polygon points="1707.5,870.5 1716.5,867.5 1710.5,864.5 1701.5,867.5"/><polygon points="1695.5,873.5 1707.5,870.5 1701.5,867.5 1689.5,867.5"/><polygon points="1686.5,876.5 1695.5,873.5 1689.5,867.5 1680.5,870.5"/><polygon points="1677.5,879.5 1686.5,876.5 1680.5,870.5 1671.5,873.5"/><polygon points="1665.5,882.5 1677.5,879.5 1671.5,873.5 1659.5,876.5"/><polygon points="1656.5,885.5 1665.5,882.5 1659.5,876.5 1650.5,879.5"/><polygon points="1644.5,888.5 1656.5,885.5 1650.5,879.5 1638.5,882.5"/><polygon points="1635.5,891.5 1644.5,888.5 1638.5,882.5 1629.5,885.5"/><polygon points="1626.5,894.5 1635.5,891.5 1629.5,885.5 1620.5,888.5"/><polygon points="2121.5,762.5 2130.5,759.5 2124.5,756.5 2115.5,759.5"/><polygon points="2109.5,765.5 2121.5,762.5 2115.5,759.5 2103.5,759.5"/><polygon points="2100.5,768.5 2109.5,765.5 2103.5,759.5 2094.5,762.5"/><polygon points="2088.5,771.5 2100.5,768.5 2094.5,762.5 2085.5,765.5"/><polygon points="2079.5,774.5 2088.5,771.5 2085.5,765.5 2073.5,768.5"/><polygon points="2070.5,777.5 2079.5,774.5 2073.5,768.5 2064.5,771.5"/><polygon points="2058.5,780.5 2070.5,777.5 2064.5,771.5 2052.5,774.5"/><polygon points="2049.5,783.5 2058.5,780.5 2052.5,774.5 2043.5,777.5"/><polygon points="2037.5,783.5 2049.5,783.5 2043.5,777.5 2034.5,780.5"/><polygon points="2028.5,786.5 2037.5,783.5 2034.5,780.5 2022.5,783.5"/><polygon points="2019.5,789.5 2028.5,786.5 2022.5,783.5 2013.5,786.5"/><polygon points="2007.5,792.5 2019.5,789.5 2013.5,786.5 2001.5,786.5"/><polygon points="1998.5,795.5 2007.5,792.5 2001.5,786.5 1992.5,789.5"/><polygon points="1986.5,798.5 1998.5,795.5 1992.5,789.5 1983.5,792.5"/><polygon points="1977.5,801.5 1986.5,798.5 1983.5,792.5 1971.5,795.5"/><polygon points="1968.5,804.5 1977.5,801.5 1971.5,795.5 1962.5,798.5"/><polygon points="1956.5,807.5 1968.5,804.5 1962.5,798.5 1950.5,801.5"/><polygon points="1947.5,807.5 1956.5,807.5 1950.5,801.5 1941.5,804.5"/><polygon points="1935.5,807.5 1947.5,807.5 1941.5,804.5 1932.5,798.5"/><polygon points="1926.5,777.5 1935.5,807.5 1932.5,798.5 1920.5,750.5"/><polygon points="1917.5,678.5 1926.5,777.5 1920.5,750.5 1911.5,630.5"/><polygon points="1905.5,540.5 1917.5,678.5 1911.5,630.5 1899.5,501.5"/><polygon points="1896.5,456.5 1905.5,540.5 1899.5,501.5 1890.5,441.5"/><polygon points="1884.5,435.5 1896.5,456.5 1890.5,441.5 1881.5,429.5"/><polygon points="1875.5,438.5 1884.5,435.5 1881.5,429.5 1869.5,432.5"/><polygon points="1866.5,441.5 1875.5,438.5 1869.5,432.5 1860.5,435.5"/><polygon points="1854.5,444.5 1866.5,441.5 1860.5,435.5 1848.5,438.5"/><polygon points="1845.5,447.5 1854.5,444.5 1848.5,438.5 1839.5,444.5"/><polygon points="1833.5,462.5 1845.5,447.5 1839.5,444.5 1830.5,468.5"/><polygon points="1824.5,528.5 1833.5,462.5 1830.5,468.5 1818.5,558.5"/><polygon points="1815.5,666.5 1824.5,528.5 1818.5,558.5 1809.5,702.5"/><polygon points="1803.5,792.5 1815.5,666.5 1809.5,702.5 1797.5,807.5"/><polygon points="1794.5,843.5 1803.5,792.5 1797.5,807.5 1788.5,843.5"/><polygon points="1782.5,855.5 1794.5,843.5 1788.5,843.5 1779.5,849.5"/><polygon points="1773.5,858.5 1782.5,855.5 1779.5,849.5 1767.5,855.5"/><polygon points="1764.5,861.5 1773.5,858.5 1767.5,855.5 1758.5,855.5"/><polygon points="1752.5,864.5 1764.5,861.5 1758.5,855.5 1746.5,858.5"/><polygon points="1743.5,867.5 1752.5,864.5 1746.5,858.5 1737.5,861.5"/><polygon points="1731.5,870.5 1743.5,867.5 1737.5,861.5 1728.5,864.5"/><polygon points="1722.5,873.5 1731.5,870.5 1728.5,864.5 1716.5,867.5"/><polygon points="1713.5,876.5 1722.5,873.5 1716.5,867.5 1707.5,870.5"/><polygon points="1701.5,879.5 1713.5,876.5 1707.5,870.5 1695.5,873.5"/><polygon points="1692.5,882.5 1701.5,879.5 1695.5,873.5 1686.5,876.5"/><polygon points="1680.5,885.5 1692.5,882.5 1686.5,876.5 1677.5,879.5"/><polygon points="1671.5,888.5 1680.5,885.5 1677.5,879.5 1665.5,882.5"/><polygon points="1662.5,891.5 1671.5,888.5 1665.5,882.5 1656.5,885.5"/><polygon points="1650.5,891.5 1662.5,891.5 1656.5,885.5 1644.5,888.5"/><polygon points="1641.5,894.5 1650.5,891.5 1644.5,888.5 1635.5,891.5"/><polygon points="1629.5,897.5 1641.5,894.5 1635.5,891.5 1626.5,894.5"/><polygon points="2127.5,768.5 2136.5,765.5 2130.5,759.5 2121.5,762.5"/><polygon points="2115.5,771.5 2127.5,768.5 2121.5,762.5 2109.5,765.5"/><polygon points="2106.5,774.5 2115.5,771.5 2109.5,765.5 2100.5,768.5"/><polygon points="2094.5,777.5 2106.5,774.5 2100.5,768.5 2088.5,771.5"/><polygon points="2085.5,780.5 2094.5,777.5 2088.5,771.5 2079.5,774.5"/><polygon points="2076.5,780.5 2085.5,780.5 2079.5,774.5 2070.5,777.5"/><polygon points="2064.5,783.5 2076.5,780.5 2070.5,777.5 2058.5,780.5"/><polygon points="2055.5,786.5 2064.5,783.5 2058.5,780.5 2049.5,783.5"/><polygon points="2043.5,789.5 2055.5,786.5 2049.5,783.5 2037.5,783.5"/><polygon points="2034.5,792.5 2043.5,789.5 2037.5,783.5 2028.5,786.5"/><polygon points="2025.5,795.5 2034.5,792.5 2028.5,786.5 2019.5,789.5"/><polygon points="2013.5,798.5 2025.5,795.5 2019.5,789.5 2007.5,792.5"/><polygon points="2004.5,801.5 2013.5,798.5 2007.5,792.5 1998.5,795.5"/><polygon points="1992.5,801.5 2004.5,801.5 1998.5,795.5 1986.5,798.5"/><polygon points="1983.5,804.5 1992.5,801.5 1986.5,798.5 1977.5,801.5"/><polygon points="1974.5,807.5 1983.5,804.5 1977.5,801.5 1968.5,804.5"/><polygon points="1962.5,810.5 1974.5,807.5 1968.5,804.5 1956.5,807.5"/><polygon points="1953.5,813.5 1962.5,810.5 1956.5,807.5 1947.5,807.5"/><polygon points="1941.5,813.5 1953.5,813.5 1947.5,807.5 1935.5,807.5"/><polygon points="1932.5,798.5 1941.5,813.5 1935.5,807.5 1926.5,777.5"/><polygon points="1923.5,723.5 1932.5,798.5 1926.5,777.5 1917.5,678.5"/><polygon points="1911.5,585.5 1923.5,723.5 1917.5,678.5 1905.5,540.5"/><polygon points="1902.5,480.5 1911.5,585.5 1905.5,540.5 1896.5,456.5"/><polygon points="1890.5,444.5 1902.5,480.5 1896.5,456.5 1884.5,435.5"/><polygon points="1881.5,441.5 1890.5,444.5 1884.5,435.5 1875.5,438.5"/><polygon points="1872.5,444.5 1881.5,441.5 1875.5,438.5 1866.5,441.5"/><polygon points="1860.5,447.5 1872.5,444.5 1866.5,441.5 1854.5,444.5"/><polygon points="1851.5,450.5 1860.5,447.5 1854.5,444.5 1845.5,447.5"/><polygon points="1839.5,462.5 1851.5,450.5 1845.5,447.5 1833.5,462.5"/><polygon points="1830.5,507.5 1839.5,462.5 1833.5,462.5 1824.5,528.5"/><polygon points="1821.5,627.5 1830.5,507.5 1824.5,528.5 1815.5,666.5"/><polygon points="1809.5,765.5 1821.5,627.5 1815.5,666.5 1803.5,792.5"/><polygon points="1800.5,840.5 1809.5,765.5 1803.5,792.5 1794.5,843.5"/><polygon points="1788.5,858.5 1800.5,840.5 1794.5,843.5 1782.5,855.5"/><polygon points="1779.5,864.5 1788.5,858.5 1782.5,855.5 1773.5,858.5"/><polygon points="1770.5,867.5 1779.5,864.5 1773.5,858.5 1764.5,861.5"/><polygon points="1758.5,870.5 1770.5,867.5 1764.5,861.5 1752.5,864.5"/><polygon points="1749.5,873.5 1758.5,870.5 1752.5,864.5 1743.5,867.5"/><polygon points="1737.5,876.5 1749.5,873.5 1743.5,867.5 1731.5,870.5"/><polygon points="1728.5,879.5 1737.5,876.5 1731.5,870.5 1722.5,873.5"/><polygon points="1719.5,879.5 1728.5,879.5 1722.5,873.5 1713.5,876.5"/><polygon points="1707.5,882.5 1719.5,879.5 1713.5,876.5 1701.5,879.5"/><polygon points="1698.5,885.5 1707.5,882.5 1701.5,879.5 1692.5,882.5"/><polygon points="1686.5,888.5 1698.5,885.5 1692.5,882.5 1680.5,885.5"/><polygon points="1677.5,891.5 1686.5,888.5 1680.5,885.5 1671.5,888.5"/><polygon points="1668.5,894.5 1677.5,891.5 1671.5,888.5 1662.5,891.5"/><polygon points="1656.5,897.5 1668.5,894.5 1662.5,891.5 1650.5,891.5"/><polygon points="1647.5,900.5 1656.5,897.5 1650.5,891.5 1641.5,894.5"/><polygon points="1635.5,903.5 1647.5,900.5 1641.5,894.5 1629.5,897.5"/><polygon points="2133.5,771.5 2142.5,771.5 2136.5,765.5 2127.5,768.5"/><polygon points="2121.5,774.5 2133.5,771.5 2127.5,768.5 2115.5,771.5"/><polygon points="2112.5,777.5 2121.5,774.5 2115.5,771.5 2106.5,774.5"/><polygon points="2100.5,780.5 2112.5,777.5 2106.5,774.5 2094.5,777.5"/><polygon points="2091.5,783.5 2100.5,780.5 2094.5,777.5 2085.5,780.5"/><polygon points="2082.5,786.5 2091.5,783.5 2085.5,780.5 2076.5,780.5"/><polygon points="2070.5,789.5 2082.5,786.5 2076.5,780.5 2064.5,783.5"/><polygon points="2061.5,792.5 2070.5,789.5 2064.5,783.5 2055.5,786.5"/><polygon points="2049.5,795.5 2061.5,792.5 2055.5,786.5 2043.5,789.5"/><polygon points="2040.5,798.5 2049.5,795.5 2043.5,789.5 2034.5,792.5"/><polygon points="2031.5,798.5 2040.5,798.5 2034.5,792.5 2025.5,795.5"/><polygon points="2019.5,801.5 2031.5,798.5 2025.5,795.5 2013.5,798.5"/><polygon points="2010.5,804.5 2019.5,801.5 2013.5,798.5 2004.5,801.5"/><polygon points="1998.5,807.5 2010.5,804.5 2004.5,801.5 1992.5,801.5"/><polygon points="1989.5,810.5 1998.5,807.5 1992.5,801.5 1983.5,804.5"/><polygon points="1980.5,813.5 1989.5,810.5 1983.5,804.5 1974.5,807.5"/><polygon points="1968.5,816.5 1980.5,813.5 1974.5,807.5 1962.5,810.5"/><polygon points="1959.5,819.5 1968.5,816.5 1962.5,810.5 1953.5,813.5"/><polygon points="1947.5,819.5 1959.5,819.5 1953.5,813.5 1941.5,813.5"/><polygon points="1938.5,813.5 1947.5,819.5 1941.5,813.5 1932.5,798.5"/><polygon points="1929.5,759.5 1938.5,813.5 1932.5,798.5 1923.5,723.5"/><polygon points="1917.5,633.5 1929.5,759.5 1923.5,723.5 1911.5,585.5"/><polygon points="1908.5,507.5 1917.5,633.5 1911.5,585.5 1902.5,480.5"/><polygon points="1896.5,456.5 1908.5,507.5 1902.5,480.5 1890.5,444.5"/><polygon points="1887.5,447.5 1896.5,456.5 1890.5,444.5 1881.5,441.5"/><polygon points="1878.5,450.5 1887.5,447.5 1881.5,441.5 1872.5,444.5"/><polygon points="1866.5,453.5 1878.5,450.5 1872.5,444.5 1860.5,447.5"/><polygon points="1857.5,456.5 1866.5,453.5 1860.5,447.5 1851.5,450.5"/><polygon points="1845.5,462.5 1857.5,456.5 1851.5,450.5 1839.5,462.5"/><polygon points="1836.5,492.5 1845.5,462.5 1839.5,462.5 1830.5,507.5"/><polygon points="1827.5,588.5 1836.5,492.5 1830.5,507.5 1821.5,627.5"/><polygon points="1815.5,735.5 1827.5,588.5 1821.5,627.5 1809.5,765.5"/><polygon points="1806.5,831.5 1815.5,735.5 1809.5,765.5 1800.5,840.5"/><polygon points="1794.5,861.5 1806.5,831.5 1800.5,840.5 1788.5,858.5"/><polygon points="1785.5,867.5 1794.5,861.5 1788.5,858.5 1779.5,864.5"/><polygon points="1776.5,870.5 1785.5,867.5 1779.5,864.5 1770.5,867.5"/><polygon points="1764.5,873.5 1776.5,870.5 1770.5,867.5 1758.5,870.5"/><polygon points="1755.5,876.5 1764.5,873.5 1758.5,870.5 1749.5,873.5"/><polygon points="1743.5,879.5 1755.5,876.5 1749.5,873.5 1737.5,876.5"/><polygon points="1734.5,882.5 1743.5,879.5 1737.5,876.5 1728.5,879.5"/><polygon points="1725.5,885.5 1734.5,882.5 1728.5,879.5 1719.5,879.5"/><polygon points="1713.5,888.5 1725.5,885.5 1719.5,879.5 1707.5,882.5"/><polygon points="1704.5,891.5 1713.5,888.5 1707.5,882.5 1698.5,885.5"/><polygon points="1692.5,894.5 1704.5,891.5 1698.5,885.5 1686.5,888.5"/><polygon points="1683.5,897.5 1692.5,894.5 1686.5,888.5 1677.5,891.5"/><polygon points="1674.5,900.5 1683.5,897.5 1677.5,891.5 1668.5,894.5"/><polygon points="1662.5,903.5 1674.5,900.5 1668.5,894.5 1656.5,897.5"/><polygon points="1653.5,906.5 1662.5,903.5 1656.5,897.5 1647.5,900.5"/><polygon points="1641.5,909.5 1653.5,906.5 1647.5,900.5 1635.5,903.5"/><polygon points="2139.5,777.5 2148.5,774.5 2142.5,771.5 2133.5,771.5"/><polygon points="2127.5,780.5 2139.5,777.5 2133.5,771.5 2121.5,774.5"/><polygon points="2118.5,783.5 2127.5,780.5 2121.5,774.5 2112.5,777.5"/><polygon points="2106.5,786.5 2118.5,783.5 2112.5,777.5 2100.5,780.5"/><polygon points="2097.5,789.5 2106.5,786.5 2100.5,780.5 2091.5,783.5"/><polygon points="2088.5,792.5 2097.5,789.5 2091.5,783.5 2082.5,786.5"/><polygon points="2076.5,795.5 2088.5,792.5 2082.5,786.5 2070.5,789.5"/><polygon points="2067.5,795.5 2076.5,795.5 2070.5,789.5 2061.5,792.5"/><polygon points="2055.5,798.5 2067.5,795.5 2061.5,792.5 2049.5,795.5"/><polygon points="2046.5,801.5 2055.5,798.5 2049.5,795.5 2040.5,798.5"/><polygon points="2037.5,804.5 2046.5,801.5 2040.5,798.5 2031.5,798.5"/><polygon points="2025.5,807.5 2037.5,804.5 2031.5,798.5 2019.5,801.5"/><polygon points="2016.5,810.5 2025.5,807.5 2019.5,801.5 2010.5,804.5"/><polygon points="2004.5,813.5 2016.5,810.5 2010.5,804.5 1998.5,807.5"/><polygon points="1995.5,816.5 2004.5,813.5 1998.5,807.5 1989.5,810.5"/><polygon points="1986.5,819.5 1995.5,816.5 1989.5,810.5 1980.5,813.5"/><polygon points="1974.5,819.5 1986.5,819.5 1980.5,813.5 1968.5,816.5"/><polygon points="1965.5,822.5 1974.5,819.5 1968.5,816.5 1959.5,819.5"/><polygon points="1953.5,825.5 1965.5,822.5 1959.5,819.5 1947.5,819.5"/><polygon points="1944.5,822.5 1953.5,825.5 1947.5,819.5 1938.5,813.5"/><polygon points="1935.5,789.5 1944.5,822.5 1938.5,813.5 1929.5,759.5"/><polygon points="1923.5,681.5 1935.5,789.5 1929.5,759.5 1917.5,633.5"/><polygon points="1914.5,546.5 1923.5,681.5 1917.5,633.5 1908.5,507.5"/><polygon points="1902.5,471.5 1914.5,546.5 1908.5,507.5 1896.5,456.5"/><polygon points="1893.5,453.5 1902.5,471.5 1896.5,456.5 1887.5,447.5"/><polygon points="1884.5,453.5 1893.5,453.5 1887.5,447.5 1878.5,450.5"/><polygon points="1872.5,456.5 1884.5,453.5 1878.5,450.5 1866.5,453.5"/><polygon points="1863.5,459.5 1872.5,456.5 1866.5,453.5 1857.5,456.5"/><polygon points="1851.5,465.5 1863.5,459.5 1857.5,456.5 1845.5,462.5"/><polygon points="1842.5,483.5 1851.5,465.5 1845.5,462.5 1836.5,492.5"/><polygon points="1833.5,558.5 1842.5,483.5 1836.5,492.5 1827.5,588.5"/><polygon points="1821.5,699.5 1833.5,558.5 1827.5,588.5 1815.5,735.5"/><polygon points="1812.5,816.5 1821.5,699.5 1815.5,735.5 1806.5,831.5"/><polygon points="1800.5,864.5 1812.5,816.5 1806.5,831.5 1794.5,861.5"/><polygon points="1791.5,873.5 1800.5,864.5 1794.5,861.5 1785.5,867.5"/><polygon points="1782.5,876.5 1791.5,873.5 1785.5,867.5 1776.5,870.5"/><polygon points="1770.5,879.5 1782.5,876.5 1776.5,870.5 1764.5,873.5"/><polygon points="1761.5,882.5 1770.5,879.5 1764.5,873.5 1755.5,876.5"/><polygon points="1749.5,885.5 1761.5,882.5 1755.5,876.5 1743.5,879.5"/><polygon points="1740.5,888.5 1749.5,885.5 1743.5,879.5 1734.5,882.5"/><polygon points="1731.5,891.5 1740.5,888.5 1734.5,882.5 1725.5,885.5"/><polygon points="1719.5,894.5 1731.5,891.5 1725.5,885.5 1713.5,888.5"/><polygon points="1710.5,897.5 1719.5,894.5 1713.5,888.5 1704.5,891.5"/><polygon points="1698.5,900.5 1710.5,897.5 1704.5,891.5 1692.5,894.5"/><polygon points="1689.5,900.5 1698.5,900.5 1692.5,894.5 1683.5,897.5"/><polygon points="1680.5,903.5 1689.5,900.5 1683.5,897.5 1674.5,900.5"/><polygon points="1668.5,906.5 1680.5,903.5 1674.5,900.5 1662.5,903.5"/><polygon points="1659.5,909.5 1668.5,906.5 1662.5,903.5 1653.5,906.5"/><polygon points="1647.5,912.5 1659.5,909.5 1653.5,906.5 1641.5,909.5"/><polygon points="2145.5,783.5 2154.5,780.5 2148.5,774.5 2139.5,777.5"/><polygon points="2133.5,786.5 2145.5,783.5 2139.5,777.5 2127.5,780.5"/><polygon points="2124.5,789.5 2133.5,786.5 2127.5,780.5 2118.5,783.5"/><polygon points="2112.5,792.5 2124.5,789.5 2118.5,783.5 2106.5,786.5"/><polygon points="2103.5,792.5 2112.5,792.5 2106.5,786.5 2097.5,789.5"/><polygon points="2094.5,795.5 2103.5,792.5 2097.5,789.5 2088.5,792.5"/><polygon points="2082.5,798.5 2094.5,795.5 2088.5,792.5 2076.5,795.5"/><polygon points="2073.5,801.5 2082.5,798.5 2076.5,795.5 2067.5,795.5"/><polygon points="2061.5,804.5 2073.5,801.5 2067.5,795.5 2055.5,798.5"/><polygon points="2052.5,807.5 2061.5,804.5 2055.5,798.5 2046.5,801.5"/><polygon points="2043.5,810.5 2052.5,807.5 2046.5,801.5 2037.5,804.5"/><polygon points="2031.5,813.5 2043.5,810.5 2037.5,804.5 2025.5,807.5"/><polygon points="2022.5,816.5 2031.5,813.5 2025.5,807.5 2016.5,810.5"/><polygon points="2010.5,816.5 2022.5,816.5 2016.5,810.5 2004.5,813.5"/><polygon points="2001.5,819.5 2010.5,816.5 2004.5,813.5 1995.5,816.5"/><polygon points="1992.5,822.5 2001.5,819.5 1995.5,816.5 1986.5,819.5"/><polygon points="1980.5,825.5 1992.5,822.5 1986.5,819.5 1974.5,819.5"/><polygon points="1971.5,828.5 1980.5,825.5 1974.5,819.5 1965.5,822.5"/><polygon points="1959.5,831.5 1971.5,828.5 1965.5,822.5 1953.5,825.5"/><polygon points="1950.5,831.5 1959.5,831.5 1953.5,825.5 1944.5,822.5"/><polygon points="1941.5,810.5 1950.5,831.5 1944.5,822.5 1935.5,789.5"/><polygon points="1929.5,729.5 1941.5,810.5 1935.5,789.5 1923.5,681.5"/><polygon points="1920.5,588.5 1929.5,729.5 1923.5,681.5 1914.5,546.5"/><polygon points="1908.5,489.5 1920.5,588.5 1914.5,546.5 1902.5,471.5"/><polygon points="1899.5,462.5 1908.5,489.5 1902.5,471.5 1893.5,453.5"/><polygon points="1890.5,459.5 1899.5,462.5 1893.5,453.5 1884.5,453.5"/><polygon points="1878.5,462.5 1890.5,459.5 1884.5,453.5 1872.5,456.5"/><polygon points="1869.5,465.5 1878.5,462.5 1872.5,456.5 1863.5,459.5"/><polygon points="1857.5,468.5 1869.5,465.5 1863.5,459.5 1851.5,465.5"/><polygon points="1848.5,480.5 1857.5,468.5 1851.5,465.5 1842.5,483.5"/><polygon points="1839.5,534.5 1848.5,480.5 1842.5,483.5 1833.5,558.5"/><polygon points="1827.5,657.5 1839.5,534.5 1833.5,558.5 1821.5,699.5"/><polygon points="1818.5,795.5 1827.5,657.5 1821.5,699.5 1812.5,816.5"/><polygon points="1806.5,861.5 1818.5,795.5 1812.5,816.5 1800.5,864.5"/><polygon points="1797.5,876.5 1806.5,861.5 1800.5,864.5 1791.5,873.5"/><polygon points="1788.5,882.5 1797.5,876.5 1791.5,873.5 1782.5,876.5"/><polygon points="1776.5,885.5 1788.5,882.5 1782.5,876.5 1770.5,879.5"/><polygon points="1767.5,888.5 1776.5,885.5 1770.5,879.5 1761.5,882.5"/><polygon points="1755.5,888.5 1767.5,888.5 1761.5,882.5 1749.5,885.5"/><polygon points="1746.5,891.5 1755.5,888.5 1749.5,885.5 1740.5,888.5"/><polygon points="1737.5,894.5 1746.5,891.5 1740.5,888.5 1731.5,891.5"/><polygon points="1725.5,897.5 1737.5,894.5 1731.5,891.5 1719.5,894.5"/><polygon points="1716.5,900.5 1725.5,897.5 1719.5,894.5 1710.5,897.5"/><polygon points="1704.5,903.5 1716.5,900.5 1710.5,897.5 1698.5,900.5"/><polygon points="1695.5,906.5 1704.5,903.5 1698.5,900.5 1689.5,900.5"/><polygon points="1686.5,909.5 1695.5,906.5 1689.5,900.5 1680.5,903.5"/><polygon points="1674.5,912.5 1686.5,909.5 1680.5,903.5 1668.5,906.5"/><polygon points="1665.5,915.5 1674.5,912.5 1668.5,906.5 1659.5,909.5"/><polygon points="1653.5,918.5 1665.5,915.5 1659.5,909.5 1647.5,912.5"/><polygon points="2148.5,786.5 2160.5,783.5 2154.5,780.5 2145.5,783.5"/><polygon points="2139.5,789.5 2148.5,786.5 2145.5,783.5 2133.5,786.5"/><polygon points="2130.5,792.5 2139.5,789.5 2133.5,786.5 2124.5,789.5"/><polygon points="2118.5,795.5 2130.5,792.5 2124.5,789.5 2112.5,792.5"/><polygon points="2109.5,798.5 2118.5,795.5 2112.5,792.5 2103.5,792.5"/><polygon points="2097.5,801.5 2109.5,798.5 2103.5,792.5 2094.5,795.5"/><polygon points="2088.5,804.5 2097.5,801.5 2094.5,795.5 2082.5,798.5"/><polygon points="2079.5,807.5 2088.5,804.5 2082.5,798.5 2073.5,801.5"/><polygon points="2067.5,810.5 2079.5,807.5 2073.5,801.5 2061.5,804.5"/><polygon points="2058.5,813.5 2067.5,810.5 2061.5,804.5 2052.5,807.5"/><polygon points="2046.5,813.5 2058.5,813.5 2052.5,807.5 2043.5,810.5"/><polygon points="2037.5,816.5 2046.5,813.5 2043.5,810.5 2031.5,813.5"/><polygon points="2028.5,819.5 2037.5,816.5 2031.5,813.5 2022.5,816.5"/><polygon points="2016.5,822.5 2028.5,819.5 2022.5,816.5 2010.5,816.5"/><polygon points="2007.5,825.5 2016.5,822.5 2010.5,816.5 2001.5,819.5"/><polygon points="1995.5,828.5 2007.5,825.5 2001.5,819.5 1992.5,822.5"/><polygon points="1986.5,831.5 1995.5,828.5 1992.5,822.5 1980.5,825.5"/><polygon points="1977.5,834.5 1986.5,831.5 1980.5,825.5 1971.5,828.5"/><polygon points="1965.5,837.5 1977.5,834.5 1971.5,828.5 1959.5,831.5"/><polygon points="1956.5,837.5 1965.5,837.5 1959.5,831.5 1950.5,831.5"/><polygon points="1944.5,828.5 1956.5,837.5 1950.5,831.5 1941.5,810.5"/><polygon points="1935.5,768.5 1944.5,828.5 1941.5,810.5 1929.5,729.5"/><polygon points="1926.5,636.5 1935.5,768.5 1929.5,729.5 1920.5,588.5"/><polygon points="1914.5,516.5 1926.5,636.5 1920.5,588.5 1908.5,489.5"/><polygon points="1905.5,471.5 1914.5,516.5 1908.5,489.5 1899.5,462.5"/><polygon points="1893.5,465.5 1905.5,471.5 1899.5,462.5 1890.5,459.5"/><polygon points="1884.5,468.5 1893.5,465.5 1890.5,459.5 1878.5,462.5"/><polygon points="1875.5,471.5 1884.5,468.5 1878.5,462.5 1869.5,465.5"/><polygon points="1863.5,474.5 1875.5,471.5 1869.5,465.5 1857.5,468.5"/><polygon points="1854.5,480.5 1863.5,474.5 1857.5,468.5 1848.5,480.5"/><polygon points="1842.5,516.5 1854.5,480.5 1848.5,480.5 1839.5,534.5"/><polygon points="1833.5,621.5 1842.5,516.5 1839.5,534.5 1827.5,657.5"/><polygon points="1824.5,765.5 1833.5,621.5 1827.5,657.5 1818.5,795.5"/><polygon points="1812.5,855.5 1824.5,765.5 1818.5,795.5 1806.5,861.5"/><polygon points="1803.5,879.5 1812.5,855.5 1806.5,861.5 1797.5,876.5"/><polygon points="1791.5,885.5 1803.5,879.5 1797.5,876.5 1788.5,882.5"/><polygon points="1782.5,888.5 1791.5,885.5 1788.5,882.5 1776.5,885.5"/><polygon points="1773.5,891.5 1782.5,888.5 1776.5,885.5 1767.5,888.5"/><polygon points="1761.5,894.5 1773.5,891.5 1767.5,888.5 1755.5,888.5"/><polygon points="1752.5,897.5 1761.5,894.5 1755.5,888.5 1746.5,891.5"/><polygon points="1740.5,900.5 1752.5,897.5 1746.5,891.5 1737.5,894.5"/><polygon points="1731.5,903.5 1740.5,900.5 1737.5,894.5 1725.5,897.5"/><polygon points="1722.5,906.5 1731.5,903.5 1725.5,897.5 1716.5,900.5"/><polygon points="1710.5,909.5 1722.5,906.5 1716.5,900.5 1704.5,903.5"/><polygon points="1701.5,912.5 1710.5,909.5 1704.5,903.5 1695.5,906.5"/><polygon points="1689.5,915.5 1701.5,912.5 1695.5,906.5 1686.5,909.5"/><polygon points="1680.5,918.5 1689.5,915.5 1686.5,909.5 1674.5,912.5"/><polygon points="1671.5,921.5 1680.5,918.5 1674.5,912.5 1665.5,915.5"/><polygon points="1659.5,924.5 1671.5,921.5 1665.5,915.5 1653.5,918.5"/><polygon points="2154.5,792.5 2166.5,789.5 2160.5,783.5 2148.5,786.5"/><polygon points="2145.5,795.5 2154.5,792.5 2148.5,786.5 2139.5,789.5"/><polygon points="2136.5,798.5 2145.5,795.5 2139.5,789.5 2130.5,792.5"/><polygon points="2124.5,801.5 2136.5,798.5 2130.5,792.5 2118.5,795.5"/><polygon points="2115.5,804.5 2124.5,801.5 2118.5,795.5 2109.5,798.5"/><polygon points="2103.5,807.5 2115.5,804.5 2109.5,798.5 2097.5,801.5"/><polygon points="2094.5,810.5 2103.5,807.5 2097.5,801.5 2088.5,804.5"/><polygon points="2085.5,810.5 2094.5,810.5 2088.5,804.5 2079.5,807.5"/><polygon points="2073.5,813.5 2085.5,810.5 2079.5,807.5 2067.5,810.5"/><polygon points="2064.5,816.5 2073.5,813.5 2067.5,810.5 2058.5,813.5"/><polygon points="2052.5,819.5 2064.5,816.5 2058.5,813.5 2046.5,813.5"/><polygon points="2043.5,822.5 2052.5,819.5 2046.5,813.5 2037.5,816.5"/><polygon points="2034.5,825.5 2043.5,822.5 2037.5,816.5 2028.5,819.5"/><polygon points="2022.5,828.5 2034.5,825.5 2028.5,819.5 2016.5,822.5"/><polygon points="2013.5,831.5 2022.5,828.5 2016.5,822.5 2007.5,825.5"/><polygon points="2001.5,831.5 2013.5,831.5 2007.5,825.5 1995.5,828.5"/><polygon points="1992.5,834.5 2001.5,831.5 1995.5,828.5 1986.5,831.5"/><polygon points="1983.5,837.5 1992.5,834.5 1986.5,831.5 1977.5,834.5"/><polygon points="1971.5,840.5 1983.5,837.5 1977.5,834.5 1965.5,837.5"/><polygon points="1962.5,843.5 1971.5,840.5 1965.5,837.5 1956.5,837.5"/><polygon points="1950.5,840.5 1962.5,843.5 1956.5,837.5 1944.5,828.5"/><polygon points="1941.5,798.5 1950.5,840.5 1944.5,828.5 1935.5,768.5"/><polygon points="1932.5,687.5 1941.5,798.5 1935.5,768.5 1926.5,636.5"/><polygon points="1920.5,552.5 1932.5,687.5 1926.5,636.5 1914.5,516.5"/><polygon points="1911.5,483.5 1920.5,552.5 1914.5,516.5 1905.5,471.5"/><polygon points="1899.5,471.5 1911.5,483.5 1905.5,471.5 1893.5,465.5"/><polygon points="1890.5,471.5 1899.5,471.5 1893.5,465.5 1884.5,468.5"/><polygon points="1881.5,474.5 1890.5,471.5 1884.5,468.5 1875.5,471.5"/><polygon points="1869.5,477.5 1881.5,474.5 1875.5,471.5 1863.5,474.5"/><polygon points="1860.5,483.5 1869.5,477.5 1863.5,474.5 1854.5,480.5"/><polygon points="1848.5,504.5 1860.5,483.5 1854.5,480.5 1842.5,516.5"/><polygon points="1839.5,588.5 1848.5,504.5 1842.5,516.5 1833.5,621.5"/><polygon points="1830.5,729.5 1839.5,588.5 1833.5,621.5 1824.5,765.5"/><polygon points="1818.5,843.5 1830.5,729.5 1824.5,765.5 1812.5,855.5"/><polygon points="1809.5,882.5 1818.5,843.5 1812.5,855.5 1803.5,879.5"/><polygon points="1797.5,891.5 1809.5,882.5 1803.5,879.5 1791.5,885.5"/><polygon points="1788.5,894.5 1797.5,891.5 1791.5,885.5 1782.5,888.5"/><polygon points="1779.5,897.5 1788.5,894.5 1782.5,888.5 1773.5,891.5"/><polygon points="1767.5,900.5 1779.5,897.5 1773.5,891.5 1761.5,894.5"/><polygon points="1758.5,903.5 1767.5,900.5 1761.5,894.5 1752.5,897.5"/><polygon points="1746.5,906.5 1758.5,903.5 1752.5,897.5 1740.5,900.5"/><polygon points="1737.5,909.5 1746.5,906.5 1740.5,900.5 1731.5,903.5"/><polygon points="1728.5,912.5 1737.5,909.5 1731.5,903.5 1722.5,906.5"/><polygon points="1716.5,912.5 1728.5,912.5 1722.5,906.5 1710.5,909.5"/><polygon points="1707.5,915.5 1716.5,912.5 1710.5,909.5 1701.5,912.5"/><polygon points="1695.5,918.5 1707.5,915.5 1701.5,912.5 1689.5,915.5"/><polygon points="1686.5,921.5 1695.5,918.5 1689.5,915.5 1680.5,918.5"/><polygon points="1677.5,924.5 1686.5,921.5 1680.5,918.5 1671.5,921.5"/><polygon points="1665.5,927.5 1677.5,924.5 1671.5,921.5 1659.5,924.5"/><polygon points="2160.5,798.5 2172.5,795.5 2166.5,789.5 2154.5,792.5"/><polygon points="2151.5,801.5 2160.5,798.5 2154.5,792.5 2145.5,795.5"/><polygon points="2142.5,804.5 2151.5,801.5 2145.5,795.5 2136.5,798.5"/><polygon points="2130.5,804.5 2142.5,804.5 2136.5,798.5 2124.5,801.5"/><polygon points="2121.5,807.5 2130.5,804.5 2124.5,801.5 2115.5,804.5"/><polygon points="2109.5,810.5 2121.5,807.5 2115.5,804.5 2103.5,807.5"/><polygon points="2100.5,813.5 2109.5,810.5 2103.5,807.5 2094.5,810.5"/><polygon points="2091.5,816.5 2100.5,813.5 2094.5,810.5 2085.5,810.5"/><polygon points="2079.5,819.5 2091.5,816.5 2085.5,810.5 2073.5,813.5"/><polygon points="2070.5,822.5 2079.5,819.5 2073.5,813.5 2064.5,816.5"/><polygon points="2058.5,825.5 2070.5,822.5 2064.5,816.5 2052.5,819.5"/><polygon points="2049.5,828.5 2058.5,825.5 2052.5,819.5 2043.5,822.5"/><polygon points="2040.5,828.5 2049.5,828.5 2043.5,822.5 2034.5,825.5"/><polygon points="2028.5,831.5 2040.5,828.5 2034.5,825.5 2022.5,828.5"/><polygon points="2019.5,834.5 2028.5,831.5 2022.5,828.5 2013.5,831.5"/><polygon points="2007.5,837.5 2019.5,834.5 2013.5,831.5 2001.5,831.5"/><polygon points="1998.5,840.5 2007.5,837.5 2001.5,831.5 1992.5,834.5"/><polygon points="1989.5,843.5 1998.5,840.5 1992.5,834.5 1983.5,837.5"/><polygon points="1977.5,846.5 1989.5,843.5 1983.5,837.5 1971.5,840.5"/><polygon points="1968.5,849.5 1977.5,846.5 1971.5,840.5 1962.5,843.5"/><polygon points="1956.5,849.5 1968.5,849.5 1962.5,843.5 1950.5,840.5"/><polygon points="1947.5,825.5 1956.5,849.5 1950.5,840.5 1941.5,798.5"/><polygon points="1938.5,732.5 1947.5,825.5 1941.5,798.5 1932.5,687.5"/><polygon points="1926.5,594.5 1938.5,732.5 1932.5,687.5 1920.5,552.5"/><polygon points="1917.5,501.5 1926.5,594.5 1920.5,552.5 1911.5,483.5"/><polygon points="1905.5,477.5 1917.5,501.5 1911.5,483.5 1899.5,471.5"/><polygon points="1896.5,477.5 1905.5,477.5 1899.5,471.5 1890.5,471.5"/><polygon points="1887.5,480.5 1896.5,477.5 1890.5,471.5 1881.5,474.5"/><polygon points="1875.5,483.5 1887.5,480.5 1881.5,474.5 1869.5,477.5"/><polygon points="1866.5,486.5 1875.5,483.5 1869.5,477.5 1860.5,483.5"/><polygon points="1854.5,501.5 1866.5,486.5 1860.5,483.5 1848.5,504.5"/><polygon points="1845.5,558.5 1854.5,501.5 1848.5,504.5 1839.5,588.5"/><polygon points="1836.5,690.5 1845.5,558.5 1839.5,588.5 1830.5,729.5"/><polygon points="1824.5,822.5 1836.5,690.5 1830.5,729.5 1818.5,843.5"/><polygon points="1815.5,882.5 1824.5,822.5 1818.5,843.5 1809.5,882.5"/><polygon points="1803.5,894.5 1815.5,882.5 1809.5,882.5 1797.5,891.5"/><polygon points="1794.5,900.5 1803.5,894.5 1797.5,891.5 1788.5,894.5"/><polygon points="1785.5,900.5 1794.5,900.5 1788.5,894.5 1779.5,897.5"/><polygon points="1773.5,903.5 1785.5,900.5 1779.5,897.5 1767.5,900.5"/><polygon points="1764.5,906.5 1773.5,903.5 1767.5,900.5 1758.5,903.5"/><polygon points="1752.5,909.5 1764.5,906.5 1758.5,903.5 1746.5,906.5"/><polygon points="1743.5,912.5 1752.5,909.5 1746.5,906.5 1737.5,909.5"/><polygon points="1734.5,915.5 1743.5,912.5 1737.5,909.5 1728.5,912.5"/><polygon points="1722.5,918.5 1734.5,915.5 1728.5,912.5 1716.5,912.5"/><polygon points="1713.5,921.5 1722.5,918.5 1716.5,912.5 1707.5,915.5"/><polygon points="1701.5,924.5 1713.5,921.5 1707.5,915.5 1695.5,918.5"/><polygon points="1692.5,927.5 1701.5,924.5 1695.5,918.5 1686.5,921.5"/><polygon points="1683.5,930.5 1692.5,927.5 1686.5,921.5 1677.5,924.5"/><polygon points="1671.5,933.5 1683.5,930.5 1677.5,924.5 1665.5,927.5"/><polygon points="2166.5,801.5 2178.5,798.5 2172.5,795.5 2160.5,798.5"/><polygon points="2157.5,804.5 2166.5,801.5 2160.5,798.5 2151.5,801.5"/><polygon points="2148.5,807.5 2157.5,804.5 2151.5,801.5 2142.5,804.5"/><polygon points="2136.5,810.5 2148.5,807.5 2142.5,804.5 2130.5,804.5"/><polygon points="2127.5,813.5 2136.5,810.5 2130.5,804.5 2121.5,807.5"/><polygon points="2115.5,816.5 2127.5,813.5 2121.5,807.5 2109.5,810.5"/><polygon points="2106.5,819.5 2115.5,816.5 2109.5,810.5 2100.5,813.5"/><polygon points="2097.5,822.5 2106.5,819.5 2100.5,813.5 2091.5,816.5"/><polygon points="2085.5,825.5 2097.5,822.5 2091.5,816.5 2079.5,819.5"/><polygon points="2076.5,825.5 2085.5,825.5 2079.5,819.5 2070.5,822.5"/><polygon points="2064.5,828.5 2076.5,825.5 2070.5,822.5 2058.5,825.5"/><polygon points="2055.5,831.5 2064.5,828.5 2058.5,825.5 2049.5,828.5"/><polygon points="2046.5,834.5 2055.5,831.5 2049.5,828.5 2040.5,828.5"/><polygon points="2034.5,837.5 2046.5,834.5 2040.5,828.5 2028.5,831.5"/><polygon points="2025.5,840.5 2034.5,837.5 2028.5,831.5 2019.5,834.5"/><polygon points="2013.5,843.5 2025.5,840.5 2019.5,834.5 2007.5,837.5"/><polygon points="2004.5,846.5 2013.5,843.5 2007.5,837.5 1998.5,840.5"/><polygon points="1995.5,849.5 2004.5,846.5 1998.5,840.5 1989.5,843.5"/><polygon points="1983.5,852.5 1995.5,849.5 1989.5,843.5 1977.5,846.5"/><polygon points="1974.5,855.5 1983.5,852.5 1977.5,846.5 1968.5,849.5"/><polygon points="1962.5,855.5 1974.5,855.5 1968.5,849.5 1956.5,849.5"/><polygon points="1953.5,843.5 1962.5,855.5 1956.5,849.5 1947.5,825.5"/><polygon points="1944.5,774.5 1953.5,843.5 1947.5,825.5 1938.5,732.5"/><polygon points="1932.5,639.5 1944.5,774.5 1938.5,732.5 1926.5,594.5"/><polygon points="1923.5,528.5 1932.5,639.5 1926.5,594.5 1917.5,501.5"/><polygon points="1911.5,486.5 1923.5,528.5 1917.5,501.5 1905.5,477.5"/><polygon points="1902.5,483.5 1911.5,486.5 1905.5,477.5 1896.5,477.5"/><polygon points="1893.5,486.5 1902.5,483.5 1896.5,477.5 1887.5,480.5"/><polygon points="1881.5,489.5 1893.5,486.5 1887.5,480.5 1875.5,483.5"/><polygon points="1872.5,492.5 1881.5,489.5 1875.5,483.5 1866.5,486.5"/><polygon points="1860.5,501.5 1872.5,492.5 1866.5,486.5 1854.5,501.5"/><polygon points="1851.5,540.5 1860.5,501.5 1854.5,501.5 1845.5,558.5"/><polygon points="1842.5,651.5 1851.5,540.5 1845.5,558.5 1836.5,690.5"/><polygon points="1830.5,795.5 1842.5,651.5 1836.5,690.5 1824.5,822.5"/><polygon points="1821.5,876.5 1830.5,795.5 1824.5,822.5 1815.5,882.5"/><polygon points="1809.5,900.5 1821.5,876.5 1815.5,882.5 1803.5,894.5"/><polygon points="1800.5,903.5 1809.5,900.5 1803.5,894.5 1794.5,900.5"/><polygon points="1791.5,906.5 1800.5,903.5 1794.5,900.5 1785.5,900.5"/><polygon points="1779.5,909.5 1791.5,906.5 1785.5,900.5 1773.5,903.5"/><polygon points="1770.5,912.5 1779.5,909.5 1773.5,903.5 1764.5,906.5"/><polygon points="1758.5,915.5 1770.5,912.5 1764.5,906.5 1752.5,909.5"/><polygon points="1749.5,918.5 1758.5,915.5 1752.5,909.5 1743.5,912.5"/><polygon points="1740.5,921.5 1749.5,918.5 1743.5,912.5 1734.5,915.5"/><polygon points="1728.5,924.5 1740.5,921.5 1734.5,915.5 1722.5,918.5"/><polygon points="1719.5,927.5 1728.5,924.5 1722.5,918.5 1713.5,921.5"/><polygon points="1707.5,930.5 1719.5,927.5 1713.5,921.5 1701.5,924.5"/><polygon points="1698.5,933.5 1707.5,930.5 1701.5,924.5 1692.5,927.5"/><polygon points="1689.5,936.5 1698.5,933.5 1692.5,927.5 1683.5,930.5"/><polygon points="1677.5,936.5 1689.5,936.5 1683.5,930.5 1671.5,933.5"/><polygon points="2172.5,807.5 2184.5,804.5 2178.5,798.5 2166.5,801.5"/><polygon points="2163.5,810.5 2172.5,807.5 2166.5,801.5 2157.5,804.5"/><polygon points="2154.5,813.5 2163.5,810.5 2157.5,804.5 2148.5,807.5"/><polygon points="2142.5,816.5 2154.5,813.5 2148.5,807.5 2136.5,810.5"/><polygon points="2133.5,819.5 2142.5,816.5 2136.5,810.5 2127.5,813.5"/><polygon points="2121.5,822.5 2133.5,819.5 2127.5,813.5 2115.5,816.5"/><polygon points="2112.5,822.5 2121.5,822.5 2115.5,816.5 2106.5,819.5"/><polygon points="2103.5,825.5 2112.5,822.5 2106.5,819.5 2097.5,822.5"/><polygon points="2091.5,828.5 2103.5,825.5 2097.5,822.5 2085.5,825.5"/><polygon points="2082.5,831.5 2091.5,828.5 2085.5,825.5 2076.5,825.5"/><polygon points="2070.5,834.5 2082.5,831.5 2076.5,825.5 2064.5,828.5"/><polygon points="2061.5,837.5 2070.5,834.5 2064.5,828.5 2055.5,831.5"/><polygon points="2052.5,840.5 2061.5,837.5 2055.5,831.5 2046.5,834.5"/><polygon points="2040.5,843.5 2052.5,840.5 2046.5,834.5 2034.5,837.5"/><polygon points="2031.5,843.5 2040.5,843.5 2034.5,837.5 2025.5,840.5"/><polygon points="2019.5,846.5 2031.5,843.5 2025.5,840.5 2013.5,843.5"/><polygon points="2010.5,849.5 2019.5,846.5 2013.5,843.5 2004.5,846.5"/><polygon points="2001.5,852.5 2010.5,849.5 2004.5,846.5 1995.5,849.5"/><polygon points="1989.5,855.5 2001.5,852.5 1995.5,849.5 1983.5,852.5"/><polygon points="1980.5,858.5 1989.5,855.5 1983.5,852.5 1974.5,855.5"/><polygon points="1968.5,861.5 1980.5,858.5 1974.5,855.5 1962.5,855.5"/><polygon points="1959.5,855.5 1968.5,861.5 1962.5,855.5 1953.5,843.5"/><polygon points="1950.5,810.5 1959.5,855.5 1953.5,843.5 1944.5,774.5"/><polygon points="1938.5,690.5 1950.5,810.5 1944.5,774.5 1932.5,639.5"/><polygon points="1929.5,558.5 1938.5,690.5 1932.5,639.5 1923.5,528.5"/><polygon points="1917.5,498.5 1929.5,558.5 1923.5,528.5 1911.5,486.5"/><polygon points="1908.5,489.5 1917.5,498.5 1911.5,486.5 1902.5,483.5"/><polygon points="1899.5,489.5 1908.5,489.5 1902.5,483.5 1893.5,486.5"/><polygon points="1887.5,492.5 1899.5,489.5 1893.5,486.5 1881.5,489.5"/><polygon points="1878.5,495.5 1887.5,492.5 1881.5,489.5 1872.5,492.5"/><polygon points="1866.5,501.5 1878.5,495.5 1872.5,492.5 1860.5,501.5"/><polygon points="1857.5,528.5 1866.5,501.5 1860.5,501.5 1851.5,540.5"/><polygon points="1848.5,618.5 1857.5,528.5 1851.5,540.5 1842.5,651.5"/><polygon points="1836.5,762.5 1848.5,618.5 1842.5,651.5 1830.5,795.5"/><polygon points="1827.5,867.5 1836.5,762.5 1830.5,795.5 1821.5,876.5"/><polygon points="1815.5,900.5 1827.5,867.5 1821.5,876.5 1809.5,900.5"/><polygon points="1806.5,909.5 1815.5,900.5 1809.5,900.5 1800.5,903.5"/><polygon points="1797.5,912.5 1806.5,909.5 1800.5,903.5 1791.5,906.5"/><polygon points="1785.5,915.5 1797.5,912.5 1791.5,906.5 1779.5,909.5"/><polygon points="1776.5,918.5 1785.5,915.5 1779.5,909.5 1770.5,912.5"/><polygon points="1764.5,921.5 1776.5,918.5 1770.5,912.5 1758.5,915.5"/><polygon points="1755.5,924.5 1764.5,921.5 1758.5,915.5 1749.5,918.5"/><polygon points="1746.5,924.5 1755.5,924.5 1749.5,918.5 1740.5,921.5"/><polygon points="1734.5,927.5 1746.5,924.5 1740.5,921.5 1728.5,924.5"/><polygon points="1725.5,930.5 1734.5,927.5 1728.5,924.5 1719.5,927.5"/><polygon points="1713.5,933.5 1725.5,930.5 1719.5,927.5 1707.5,930.5"/><polygon points="1704.5,936.5 1713.5,933.5 1707.5,930.5 1698.5,933.5"/><polygon points="1695.5,939.5 1704.5,936.5 1698.5,933.5 1689.5,936.5"/><polygon points="1683.5,942.5 1695.5,939.5 1689.5,936.5 1677.5,936.5"/><polygon points="2178.5,813.5 2190.5,810.5 2184.5,804.5 2172.5,807.5"/><polygon points="2169.5,816.5 2178.5,813.5 2172.5,807.5 2163.5,810.5"/><polygon points="2157.5,816.5 2169.5,816.5 2163.5,810.5 2154.5,813.5"/><polygon points="2148.5,819.5 2157.5,816.5 2154.5,813.5 2142.5,816.5"/><polygon points="2139.5,822.5 2148.5,819.5 2142.5,816.5 2133.5,819.5"/><polygon points="2127.5,825.5 2139.5,822.5 2133.5,819.5 2121.5,822.5"/><polygon points="2118.5,828.5 2127.5,825.5 2121.5,822.5 2112.5,822.5"/><polygon points="2106.5,831.5 2118.5,828.5 2112.5,822.5 2103.5,825.5"/><polygon points="2097.5,834.5 2106.5,831.5 2103.5,825.5 2091.5,828.5"/><polygon points="2088.5,837.5 2097.5,834.5 2091.5,828.5 2082.5,831.5"/><polygon points="2076.5,840.5 2088.5,837.5 2082.5,831.5 2070.5,834.5"/><polygon points="2067.5,840.5 2076.5,840.5 2070.5,834.5 2061.5,837.5"/><polygon points="2055.5,843.5 2067.5,840.5 2061.5,837.5 2052.5,840.5"/><polygon points="2046.5,846.5 2055.5,843.5 2052.5,840.5 2040.5,843.5"/><polygon points="2037.5,849.5 2046.5,846.5 2040.5,843.5 2031.5,843.5"/><polygon points="2025.5,852.5 2037.5,849.5 2031.5,843.5 2019.5,846.5"/><polygon points="2016.5,855.5 2025.5,852.5 2019.5,846.5 2010.5,849.5"/><polygon points="2004.5,858.5 2016.5,855.5 2010.5,849.5 2001.5,852.5"/><polygon points="1995.5,861.5 2004.5,858.5 2001.5,852.5 1989.5,855.5"/><polygon points="1986.5,864.5 1995.5,861.5 1989.5,855.5 1980.5,858.5"/><polygon points="1974.5,867.5 1986.5,864.5 1980.5,858.5 1968.5,861.5"/><polygon points="1965.5,864.5 1974.5,867.5 1968.5,861.5 1959.5,855.5"/><polygon points="1953.5,837.5 1965.5,864.5 1959.5,855.5 1950.5,810.5"/><polygon points="1944.5,738.5 1953.5,837.5 1950.5,810.5 1938.5,690.5"/><polygon points="1935.5,597.5 1944.5,738.5 1938.5,690.5 1929.5,558.5"/><polygon points="1923.5,516.5 1935.5,597.5 1929.5,558.5 1917.5,498.5"/><polygon points="1914.5,495.5 1923.5,516.5 1917.5,498.5 1908.5,489.5"/><polygon points="1902.5,495.5 1914.5,495.5 1908.5,489.5 1899.5,489.5"/><polygon points="1893.5,498.5 1902.5,495.5 1899.5,489.5 1887.5,492.5"/><polygon points="1884.5,501.5 1893.5,498.5 1887.5,492.5 1878.5,495.5"/><polygon points="1872.5,504.5 1884.5,501.5 1878.5,495.5 1866.5,501.5"/><polygon points="1863.5,522.5 1872.5,504.5 1866.5,501.5 1857.5,528.5"/><polygon points="1851.5,588.5 1863.5,522.5 1857.5,528.5 1848.5,618.5"/><polygon points="1842.5,723.5 1851.5,588.5 1848.5,618.5 1836.5,762.5"/><polygon points="1833.5,849.5 1842.5,723.5 1836.5,762.5 1827.5,867.5"/><polygon points="1821.5,900.5 1833.5,849.5 1827.5,867.5 1815.5,900.5"/><polygon points="1812.5,912.5 1821.5,900.5 1815.5,900.5 1806.5,909.5"/><polygon points="1800.5,915.5 1812.5,912.5 1806.5,909.5 1797.5,912.5"/><polygon points="1791.5,918.5 1800.5,915.5 1797.5,912.5 1785.5,915.5"/><polygon points="1782.5,921.5 1791.5,918.5 1785.5,915.5 1776.5,918.5"/><polygon points="1770.5,924.5 1782.5,921.5 1776.5,918.5 1764.5,921.5"/><polygon points="1761.5,927.5 1770.5,924.5 1764.5,921.5 1755.5,924.5"/><polygon points="1749.5,930.5 1761.5,927.5 1755.5,924.5 1746.5,924.5"/><polygon points="1740.5,933.5 1749.5,930.5 1746.5,924.5 1734.5,927.5"/><polygon points="1731.5,936.5 1740.5,933.5 1734.5,927.5 1725.5,930.5"/><polygon points="1719.5,939.5 1731.5,936.5 1725.5,930.5 1713.5,933.5"/><polygon points="1710.5,942.5 1719.5,939.5 1713.5,933.5 1704.5,936.5"/><polygon points="1698.5,945.5 1710.5,942.5 1704.5,936.5 1695.5,939.5"/><polygon points="1689.5,948.5 1698.5,945.5 1695.5,939.5 1683.5,942.5"/><polygon points="2184.5,816.5 2196.5,813.5 2190.5,810.5 2178.5,813.5"/><polygon points="2175.5,819.5 2184.5,816.5 2178.5,813.5 2169.5,816.5"/><polygon points="2163.5,822.5 2175.5,819.5 2169.5,816.5 2157.5,816.5"/><polygon points="2154.5,825.5 2163.5,822.5 2157.5,816.5 2148.5,819.5"/><polygon points="2145.5,828.5 2154.5,825.5 2148.5,819.5 2139.5,822.5"/><polygon points="2133.5,831.5 2145.5,828.5 2139.5,822.5 2127.5,825.5"/><polygon points="2124.5,834.5 2133.5,831.5 2127.5,825.5 2118.5,828.5"/><polygon points="2112.5,837.5 2124.5,834.5 2118.5,828.5 2106.5,831.5"/><polygon points="2103.5,837.5 2112.5,837.5 2106.5,831.5 2097.5,834.5"/><polygon points="2094.5,840.5 2103.5,837.5 2097.5,834.5 2088.5,837.5"/><polygon points="2082.5,843.5 2094.5,840.5 2088.5,837.5 2076.5,840.5"/><polygon points="2073.5,846.5 2082.5,843.5 2076.5,840.5 2067.5,840.5"/><polygon points="2061.5,849.5 2073.5,846.5 2067.5,840.5 2055.5,843.5"/><polygon points="2052.5,852.5 2061.5,849.5 2055.5,843.5 2046.5,846.5"/><polygon points="2043.5,855.5 2052.5,852.5 2046.5,846.5 2037.5,849.5"/><polygon points="2031.5,858.5 2043.5,855.5 2037.5,849.5 2025.5,852.5"/><polygon points="2022.5,861.5 2031.5,858.5 2025.5,852.5 2016.5,855.5"/><polygon points="2010.5,864.5 2022.5,861.5 2016.5,855.5 2004.5,858.5"/><polygon points="2001.5,867.5 2010.5,864.5 2004.5,858.5 1995.5,861.5"/><polygon points="1992.5,870.5 2001.5,867.5 1995.5,861.5 1986.5,864.5"/><polygon points="1980.5,870.5 1992.5,870.5 1986.5,864.5 1974.5,867.5"/><polygon points="1971.5,873.5 1980.5,870.5 1974.5,867.5 1965.5,864.5"/><polygon points="1959.5,855.5 1971.5,873.5 1965.5,864.5 1953.5,837.5"/><polygon points="1950.5,780.5 1959.5,855.5 1953.5,837.5 1944.5,738.5"/><polygon points="1941.5,642.5 1950.5,780.5 1944.5,738.5 1935.5,597.5"/><polygon points="1929.5,537.5 1941.5,642.5 1935.5,597.5 1923.5,516.5"/><polygon points="1920.5,504.5 1929.5,537.5 1923.5,516.5 1914.5,495.5"/><polygon points="1908.5,501.5 1920.5,504.5 1914.5,495.5 1902.5,495.5"/><polygon points="1899.5,504.5 1908.5,501.5 1902.5,495.5 1893.5,498.5"/><polygon points="1890.5,507.5 1899.5,504.5 1893.5,498.5 1884.5,501.5"/><polygon points="1878.5,510.5 1890.5,507.5 1884.5,501.5 1872.5,504.5"/><polygon points="1869.5,519.5 1878.5,510.5 1872.5,504.5 1863.5,522.5"/><polygon points="1857.5,564.5 1869.5,519.5 1863.5,522.5 1851.5,588.5"/><polygon points="1848.5,684.5 1857.5,564.5 1851.5,588.5 1842.5,723.5"/><polygon points="1839.5,825.5 1848.5,684.5 1842.5,723.5 1833.5,849.5"/><polygon points="1827.5,897.5 1839.5,825.5 1833.5,849.5 1821.5,900.5"/><polygon points="1818.5,918.5 1827.5,897.5 1821.5,900.5 1812.5,912.5"/><polygon points="1806.5,921.5 1818.5,918.5 1812.5,912.5 1800.5,915.5"/><polygon points="1797.5,924.5 1806.5,921.5 1800.5,915.5 1791.5,918.5"/><polygon points="1788.5,927.5 1797.5,924.5 1791.5,918.5 1782.5,921.5"/><polygon points="1776.5,930.5 1788.5,927.5 1782.5,921.5 1770.5,924.5"/><polygon points="1767.5,933.5 1776.5,930.5 1770.5,924.5 1761.5,927.5"/><polygon points="1755.5,936.5 1767.5,933.5 1761.5,927.5 1749.5,930.5"/><polygon points="1746.5,939.5 1755.5,936.5 1749.5,930.5 1740.5,933.5"/><polygon points="1737.5,942.5 1746.5,939.5 1740.5,933.5 1731.5,936.5"/><polygon points="1725.5,945.5 1737.5,942.5 1731.5,936.5 1719.5,939.5"/><polygon points="1716.5,945.5 1725.5,945.5 1719.5,939.5 1710.5,942.5"/><polygon points="1704.5,948.5 1716.5,945.5 1710.5,942.5 1698.5,945.5"/><polygon points="1695.5,951.5 1704.5,948.5 1698.5,945.5 1689.5,948.5"/><polygon points="2190.5,822.5 2202.5,819.5 2196.5,813.5 2184.5,816.5"/><polygon points="2181.5,825.5 2190.5,822.5 2184.5,816.5 2175.5,819.5"/><polygon points="2169.5,828.5 2181.5,825.5 2175.5,819.5 2163.5,822.5"/><polygon points="2160.5,831.5 2169.5,828.5 2163.5,822.5 2154.5,825.5"/><polygon points="2151.5,834.5 2160.5,831.5 2154.5,825.5 2145.5,828.5"/><polygon points="2139.5,834.5 2151.5,834.5 2145.5,828.5 2133.5,831.5"/><polygon points="2130.5,837.5 2139.5,834.5 2133.5,831.5 2124.5,834.5"/><polygon points="2118.5,840.5 2130.5,837.5 2124.5,834.5 2112.5,837.5"/><polygon points="2109.5,843.5 2118.5,840.5 2112.5,837.5 2103.5,837.5"/><polygon points="2100.5,846.5 2109.5,843.5 2103.5,837.5 2094.5,840.5"/><polygon points="2088.5,849.5 2100.5,846.5 2094.5,840.5 2082.5,843.5"/><polygon points="2079.5,852.5 2088.5,849.5 2082.5,843.5 2073.5,846.5"/><polygon points="2067.5,855.5 2079.5,852.5 2073.5,846.5 2061.5,849.5"/><polygon points="2058.5,858.5 2067.5,855.5 2061.5,849.5 2052.5,852.5"/><polygon points="2049.5,858.5 2058.5,858.5 2052.5,852.5 2043.5,855.5"/><polygon points="2037.5,861.5 2049.5,858.5 2043.5,855.5 2031.5,858.5"/><polygon points="2028.5,864.5 2037.5,861.5 2031.5,858.5 2022.5,861.5"/><polygon points="2016.5,867.5 2028.5,864.5 2022.5,861.5 2010.5,864.5"/><polygon points="2007.5,870.5 2016.5,867.5 2010.5,864.5 2001.5,867.5"/><polygon points="1998.5,873.5 2007.5,870.5 2001.5,867.5 1992.5,870.5"/><polygon points="1986.5,876.5 1998.5,873.5 1992.5,870.5 1980.5,870.5"/><polygon points="1977.5,879.5 1986.5,876.5 1980.5,870.5 1971.5,873.5"/><polygon points="1965.5,870.5 1977.5,879.5 1971.5,873.5 1959.5,855.5"/><polygon points="1956.5,819.5 1965.5,870.5 1959.5,855.5 1950.5,780.5"/><polygon points="1947.5,693.5 1956.5,819.5 1950.5,780.5 1941.5,642.5"/><polygon points="1935.5,567.5 1947.5,693.5 1941.5,642.5 1929.5,537.5"/><polygon points="1926.5,513.5 1935.5,567.5 1929.5,537.5 1920.5,504.5"/><polygon points="1914.5,507.5 1926.5,513.5 1920.5,504.5 1908.5,501.5"/><polygon points="1905.5,507.5 1914.5,507.5 1908.5,501.5 1899.5,504.5"/><polygon points="1896.5,510.5 1905.5,507.5 1899.5,504.5 1890.5,507.5"/><polygon points="1884.5,513.5 1896.5,510.5 1890.5,507.5 1878.5,510.5"/><polygon points="1875.5,519.5 1884.5,513.5 1878.5,510.5 1869.5,519.5"/><polygon points="1863.5,549.5 1875.5,519.5 1869.5,519.5 1857.5,564.5"/><polygon points="1854.5,648.5 1863.5,549.5 1857.5,564.5 1848.5,684.5"/><polygon points="1845.5,792.5 1854.5,648.5 1848.5,684.5 1839.5,825.5"/><polygon points="1833.5,888.5 1845.5,792.5 1839.5,825.5 1827.5,897.5"/><polygon points="1824.5,921.5 1833.5,888.5 1827.5,897.5 1818.5,918.5"/><polygon points="1812.5,927.5 1824.5,921.5 1818.5,918.5 1806.5,921.5"/><polygon points="1803.5,930.5 1812.5,927.5 1806.5,921.5 1797.5,924.5"/><polygon points="1794.5,933.5 1803.5,930.5 1797.5,924.5 1788.5,927.5"/><polygon points="1782.5,933.5 1794.5,933.5 1788.5,927.5 1776.5,930.5"/><polygon points="1773.5,936.5 1782.5,933.5 1776.5,930.5 1767.5,933.5"/><polygon points="1761.5,939.5 1773.5,936.5 1767.5,933.5 1755.5,936.5"/><polygon points="1752.5,942.5 1761.5,939.5 1755.5,936.5 1746.5,939.5"/><polygon points="1743.5,945.5 1752.5,942.5 1746.5,939.5 1737.5,942.5"/><polygon points="1731.5,948.5 1743.5,945.5 1737.5,942.5 1725.5,945.5"/><polygon points="1722.5,951.5 1731.5,948.5 1725.5,945.5 1716.5,945.5"/><polygon points="1710.5,954.5 1722.5,951.5 1716.5,945.5 1704.5,948.5"/><polygon points="1701.5,957.5 1710.5,954.5 1704.5,948.5 1695.5,951.5"/><polygon points="2196.5,828.5 2208.5,825.5 2202.5,819.5 2190.5,822.5"/><polygon points="2187.5,828.5 2196.5,828.5 2190.5,822.5 2181.5,825.5"/><polygon points="2175.5,831.5 2187.5,828.5 2181.5,825.5 2169.5,828.5"/><polygon points="2166.5,834.5 2175.5,831.5 2169.5,828.5 2160.5,831.5"/><polygon points="2157.5,837.5 2166.5,834.5 2160.5,831.5 2151.5,834.5"/><polygon points="2145.5,840.5 2157.5,837.5 2151.5,834.5 2139.5,834.5"/><polygon points="2136.5,843.5 2145.5,840.5 2139.5,834.5 2130.5,837.5"/><polygon points="2124.5,846.5 2136.5,843.5 2130.5,837.5 2118.5,840.5"/><polygon points="2115.5,849.5 2124.5,846.5 2118.5,840.5 2109.5,843.5"/><polygon points="2106.5,852.5 2115.5,849.5 2109.5,843.5 2100.5,846.5"/><polygon points="2094.5,855.5 2106.5,852.5 2100.5,846.5 2088.5,849.5"/><polygon points="2085.5,855.5 2094.5,855.5 2088.5,849.5 2079.5,852.5"/><polygon points="2073.5,858.5 2085.5,855.5 2079.5,852.5 2067.5,855.5"/><polygon points="2064.5,861.5 2073.5,858.5 2067.5,855.5 2058.5,858.5"/><polygon points="2055.5,864.5 2064.5,861.5 2058.5,858.5 2049.5,858.5"/><polygon points="2043.5,867.5 2055.5,864.5 2049.5,858.5 2037.5,861.5"/><polygon points="2034.5,870.5 2043.5,867.5 2037.5,861.5 2028.5,864.5"/><polygon points="2022.5,873.5 2034.5,870.5 2028.5,864.5 2016.5,867.5"/><polygon points="2013.5,876.5 2022.5,873.5 2016.5,867.5 2007.5,870.5"/><polygon points="2004.5,879.5 2013.5,876.5 2007.5,870.5 1998.5,873.5"/><polygon points="1992.5,882.5 2004.5,879.5 1998.5,873.5 1986.5,876.5"/><polygon points="1983.5,885.5 1992.5,882.5 1986.5,876.5 1977.5,879.5"/><polygon points="1971.5,882.5 1983.5,885.5 1977.5,879.5 1965.5,870.5"/><polygon points="1962.5,846.5 1971.5,882.5 1965.5,870.5 1956.5,819.5"/><polygon points="1953.5,741.5 1962.5,846.5 1956.5,819.5 1947.5,693.5"/><polygon points="1941.5,603.5 1953.5,741.5 1947.5,693.5 1935.5,567.5"/><polygon points="1932.5,528.5 1941.5,603.5 1935.5,567.5 1926.5,513.5"/><polygon points="1920.5,513.5 1932.5,528.5 1926.5,513.5 1914.5,507.5"/><polygon points="1911.5,513.5 1920.5,513.5 1914.5,507.5 1905.5,507.5"/><polygon points="1902.5,516.5 1911.5,513.5 1905.5,507.5 1896.5,510.5"/><polygon points="1890.5,519.5 1902.5,516.5 1896.5,510.5 1884.5,513.5"/><polygon points="1881.5,522.5 1890.5,519.5 1884.5,513.5 1875.5,519.5"/><polygon points="1869.5,543.5 1881.5,522.5 1875.5,519.5 1863.5,549.5"/><polygon points="1860.5,615.5 1869.5,543.5 1863.5,549.5 1854.5,648.5"/><polygon points="1851.5,756.5 1860.5,615.5 1854.5,648.5 1845.5,792.5"/><polygon points="1839.5,876.5 1851.5,756.5 1845.5,792.5 1833.5,888.5"/><polygon points="1830.5,921.5 1839.5,876.5 1833.5,888.5 1824.5,921.5"/><polygon points="1818.5,930.5 1830.5,921.5 1824.5,921.5 1812.5,927.5"/><polygon points="1809.5,933.5 1818.5,930.5 1812.5,927.5 1803.5,930.5"/><polygon points="1800.5,936.5 1809.5,933.5 1803.5,930.5 1794.5,933.5"/><polygon points="1788.5,939.5 1800.5,936.5 1794.5,933.5 1782.5,933.5"/><polygon points="1779.5,942.5 1788.5,939.5 1782.5,933.5 1773.5,936.5"/><polygon points="1767.5,945.5 1779.5,942.5 1773.5,936.5 1761.5,939.5"/><polygon points="1758.5,948.5 1767.5,945.5 1761.5,939.5 1752.5,942.5"/><polygon points="1749.5,951.5 1758.5,948.5 1752.5,942.5 1743.5,945.5"/><polygon points="1737.5,954.5 1749.5,951.5 1743.5,945.5 1731.5,948.5"/><polygon points="1728.5,957.5 1737.5,954.5 1731.5,948.5 1722.5,951.5"/><polygon points="1716.5,960.5 1728.5,957.5 1722.5,951.5 1710.5,954.5"/><polygon points="1707.5,963.5 1716.5,960.5 1710.5,954.5 1701.5,957.5"/><polygon points="2202.5,831.5 2214.5,828.5 2208.5,825.5 2196.5,828.5"/><polygon points="2193.5,834.5 2202.5,831.5 2196.5,828.5 2187.5,828.5"/><polygon points="2181.5,837.5 2193.5,834.5 2187.5,828.5 2175.5,831.5"/><polygon points="2172.5,840.5 2181.5,837.5 2175.5,831.5 2166.5,834.5"/><polygon points="2163.5,843.5 2172.5,840.5 2166.5,834.5 2157.5,837.5"/><polygon points="2151.5,846.5 2163.5,843.5 2157.5,837.5 2145.5,840.5"/><polygon points="2142.5,849.5 2151.5,846.5 2145.5,840.5 2136.5,843.5"/><polygon points="2130.5,852.5 2142.5,849.5 2136.5,843.5 2124.5,846.5"/><polygon points="2121.5,852.5 2130.5,852.5 2124.5,846.5 2115.5,849.5"/><polygon points="2112.5,855.5 2121.5,852.5 2115.5,849.5 2106.5,852.5"/><polygon points="2100.5,858.5 2112.5,855.5 2106.5,852.5 2094.5,855.5"/><polygon points="2091.5,861.5 2100.5,858.5 2094.5,855.5 2085.5,855.5"/><polygon points="2079.5,864.5 2091.5,861.5 2085.5,855.5 2073.5,858.5"/><polygon points="2070.5,867.5 2079.5,864.5 2073.5,858.5 2064.5,861.5"/><polygon points="2061.5,870.5 2070.5,867.5 2064.5,861.5 2055.5,864.5"/><polygon points="2049.5,873.5 2061.5,870.5 2055.5,864.5 2043.5,867.5"/><polygon points="2040.5,876.5 2049.5,873.5 2043.5,867.5 2034.5,870.5"/><polygon points="2028.5,876.5 2040.5,876.5 2034.5,870.5 2022.5,873.5"/><polygon points="2019.5,879.5 2028.5,876.5 2022.5,873.5 2013.5,876.5"/><polygon points="2010.5,882.5 2019.5,879.5 2013.5,876.5 2004.5,879.5"/><polygon points="1998.5,885.5 2010.5,882.5 2004.5,879.5 1992.5,882.5"/><polygon points="1989.5,888.5 1998.5,885.5 1992.5,882.5 1983.5,885.5"/><polygon points="1977.5,888.5 1989.5,888.5 1983.5,885.5 1971.5,882.5"/><polygon points="1968.5,870.5 1977.5,888.5 1971.5,882.5 1962.5,846.5"/><polygon points="1959.5,786.5 1968.5,870.5 1962.5,846.5 1953.5,741.5"/><polygon points="1947.5,648.5 1959.5,786.5 1953.5,741.5 1941.5,603.5"/><polygon points="1938.5,549.5 1947.5,648.5 1941.5,603.5 1932.5,528.5"/><polygon points="1926.5,519.5 1938.5,549.5 1932.5,528.5 1920.5,513.5"/><polygon points="1917.5,519.5 1926.5,519.5 1920.5,513.5 1911.5,513.5"/><polygon points="1908.5,519.5 1917.5,519.5 1911.5,513.5 1902.5,516.5"/><polygon points="1896.5,522.5 1908.5,519.5 1902.5,516.5 1890.5,519.5"/><polygon points="1887.5,528.5 1896.5,522.5 1890.5,519.5 1881.5,522.5"/><polygon points="1875.5,537.5 1887.5,528.5 1881.5,522.5 1869.5,543.5"/><polygon points="1866.5,591.5 1875.5,537.5 1869.5,543.5 1860.5,615.5"/><polygon points="1857.5,717.5 1866.5,591.5 1860.5,615.5 1851.5,756.5"/><polygon points="1845.5,852.5 1857.5,717.5 1851.5,756.5 1839.5,876.5"/><polygon points="1836.5,918.5 1845.5,852.5 1839.5,876.5 1830.5,921.5"/><polygon points="1824.5,936.5 1836.5,918.5 1830.5,921.5 1818.5,930.5"/><polygon points="1815.5,939.5 1824.5,936.5 1818.5,930.5 1809.5,933.5"/><polygon points="1806.5,942.5 1815.5,939.5 1809.5,933.5 1800.5,936.5"/><polygon points="1794.5,945.5 1806.5,942.5 1800.5,936.5 1788.5,939.5"/><polygon points="1785.5,948.5 1794.5,945.5 1788.5,939.5 1779.5,942.5"/><polygon points="1773.5,951.5 1785.5,948.5 1779.5,942.5 1767.5,945.5"/><polygon points="1764.5,954.5 1773.5,951.5 1767.5,945.5 1758.5,948.5"/><polygon points="1755.5,957.5 1764.5,954.5 1758.5,948.5 1749.5,951.5"/><polygon points="1743.5,957.5 1755.5,957.5 1749.5,951.5 1737.5,954.5"/><polygon points="1734.5,960.5 1743.5,957.5 1737.5,954.5 1728.5,957.5"/><polygon points="1722.5,963.5 1734.5,960.5 1728.5,957.5 1716.5,960.5"/><polygon points="1713.5,966.5 1722.5,963.5 1716.5,960.5 1707.5,963.5"/><polygon points="2208.5,837.5 2217.5,834.5 2214.5,828.5 2202.5,831.5"/><polygon points="2199.5,840.5 2208.5,837.5 2202.5,831.5 2193.5,834.5"/><polygon points="2187.5,843.5 2199.5,840.5 2193.5,834.5 2181.5,837.5"/><polygon points="2178.5,846.5 2187.5,843.5 2181.5,837.5 2172.5,840.5"/><polygon points="2166.5,846.5 2178.5,846.5 2172.5,840.5 2163.5,843.5"/><polygon points="2157.5,849.5 2166.5,846.5 2163.5,843.5 2151.5,846.5"/><polygon points="2148.5,852.5 2157.5,849.5 2151.5,846.5 2142.5,849.5"/><polygon points="2136.5,855.5 2148.5,852.5 2142.5,849.5 2130.5,852.5"/><polygon points="2127.5,858.5 2136.5,855.5 2130.5,852.5 2121.5,852.5"/><polygon points="2115.5,861.5 2127.5,858.5 2121.5,852.5 2112.5,855.5"/><polygon points="2106.5,864.5 2115.5,861.5 2112.5,855.5 2100.5,858.5"/><polygon points="2097.5,867.5 2106.5,864.5 2100.5,858.5 2091.5,861.5"/><polygon points="2085.5,870.5 2097.5,867.5 2091.5,861.5 2079.5,864.5"/><polygon points="2076.5,870.5 2085.5,870.5 2079.5,864.5 2070.5,867.5"/><polygon points="2064.5,873.5 2076.5,870.5 2070.5,867.5 2061.5,870.5"/><polygon points="2055.5,876.5 2064.5,873.5 2061.5,870.5 2049.5,873.5"/><polygon points="2046.5,879.5 2055.5,876.5 2049.5,873.5 2040.5,876.5"/><polygon points="2034.5,882.5 2046.5,879.5 2040.5,876.5 2028.5,876.5"/><polygon points="2025.5,885.5 2034.5,882.5 2028.5,876.5 2019.5,879.5"/><polygon points="2013.5,888.5 2025.5,885.5 2019.5,879.5 2010.5,882.5"/><polygon points="2004.5,891.5 2013.5,888.5 2010.5,882.5 1998.5,885.5"/><polygon points="1995.5,894.5 2004.5,891.5 1998.5,885.5 1989.5,888.5"/><polygon points="1983.5,897.5 1995.5,894.5 1989.5,888.5 1977.5,888.5"/><polygon points="1974.5,885.5 1983.5,897.5 1977.5,888.5 1968.5,870.5"/><polygon points="1962.5,825.5 1974.5,885.5 1968.5,870.5 1959.5,786.5"/><polygon points="1953.5,696.5 1962.5,825.5 1959.5,786.5 1947.5,648.5"/><polygon points="1944.5,576.5 1953.5,696.5 1947.5,648.5 1938.5,549.5"/><polygon points="1932.5,528.5 1944.5,576.5 1938.5,549.5 1926.5,519.5"/><polygon points="1923.5,522.5 1932.5,528.5 1926.5,519.5 1917.5,519.5"/><polygon points="1911.5,525.5 1923.5,522.5 1917.5,519.5 1908.5,519.5"/><polygon points="1902.5,528.5 1911.5,525.5 1908.5,519.5 1896.5,522.5"/><polygon points="1893.5,531.5 1902.5,528.5 1896.5,522.5 1887.5,528.5"/><polygon points="1881.5,537.5 1893.5,531.5 1887.5,528.5 1875.5,537.5"/><polygon points="1872.5,573.5 1881.5,537.5 1875.5,537.5 1866.5,591.5"/><polygon points="1860.5,678.5 1872.5,573.5 1866.5,591.5 1857.5,717.5"/><polygon points="1851.5,822.5 1860.5,678.5 1857.5,717.5 1845.5,852.5"/><polygon points="1842.5,912.5 1851.5,822.5 1845.5,852.5 1836.5,918.5"/><polygon points="1830.5,939.5 1842.5,912.5 1836.5,918.5 1824.5,936.5"/><polygon points="1821.5,942.5 1830.5,939.5 1824.5,936.5 1815.5,939.5"/><polygon points="1809.5,945.5 1821.5,942.5 1815.5,939.5 1806.5,942.5"/><polygon points="1800.5,948.5 1809.5,945.5 1806.5,942.5 1794.5,945.5"/><polygon points="1791.5,951.5 1800.5,948.5 1794.5,945.5 1785.5,948.5"/><polygon points="1779.5,954.5 1791.5,951.5 1785.5,948.5 1773.5,951.5"/><polygon points="1770.5,957.5 1779.5,954.5 1773.5,951.5 1764.5,954.5"/><polygon points="1758.5,960.5 1770.5,957.5 1764.5,954.5 1755.5,957.5"/><polygon points="1749.5,963.5 1758.5,960.5 1755.5,957.5 1743.5,957.5"/><polygon points="1740.5,966.5 1749.5,963.5 1743.5,957.5 1734.5,960.5"/><polygon points="1728.5,969.5 1740.5,966.5 1734.5,960.5 1722.5,963.5"/><polygon points="1719.5,972.5 1728.5,969.5 1722.5,963.5 1713.5,966.5"/><polygon points="2214.5,840.5 2223.5,837.5 2217.5,834.5 2208.5,837.5"/><polygon points="2205.5,843.5 2214.5,840.5 2208.5,837.5 2199.5,840.5"/><polygon points="2193.5,846.5 2205.5,843.5 2199.5,840.5 2187.5,843.5"/><polygon points="2184.5,849.5 2193.5,846.5 2187.5,843.5 2178.5,846.5"/><polygon points="2172.5,852.5 2184.5,849.5 2178.5,846.5 2166.5,846.5"/><polygon points="2163.5,855.5 2172.5,852.5 2166.5,846.5 2157.5,849.5"/><polygon points="2154.5,858.5 2163.5,855.5 2157.5,849.5 2148.5,852.5"/><polygon points="2142.5,861.5 2154.5,858.5 2148.5,852.5 2136.5,855.5"/><polygon points="2133.5,864.5 2142.5,861.5 2136.5,855.5 2127.5,858.5"/><polygon points="2121.5,867.5 2133.5,864.5 2127.5,858.5 2115.5,861.5"/><polygon points="2112.5,867.5 2121.5,867.5 2115.5,861.5 2106.5,864.5"/><polygon points="2103.5,870.5 2112.5,867.5 2106.5,864.5 2097.5,867.5"/><polygon points="2091.5,873.5 2103.5,870.5 2097.5,867.5 2085.5,870.5"/><polygon points="2082.5,876.5 2091.5,873.5 2085.5,870.5 2076.5,870.5"/><polygon points="2070.5,879.5 2082.5,876.5 2076.5,870.5 2064.5,873.5"/><polygon points="2061.5,882.5 2070.5,879.5 2064.5,873.5 2055.5,876.5"/><polygon points="2052.5,885.5 2061.5,882.5 2055.5,876.5 2046.5,879.5"/><polygon points="2040.5,888.5 2052.5,885.5 2046.5,879.5 2034.5,882.5"/><polygon points="2031.5,891.5 2040.5,888.5 2034.5,882.5 2025.5,885.5"/><polygon points="2019.5,894.5 2031.5,891.5 2025.5,885.5 2013.5,888.5"/><polygon points="2010.5,897.5 2019.5,894.5 2013.5,888.5 2004.5,891.5"/><polygon points="2001.5,900.5 2010.5,897.5 2004.5,891.5 1995.5,894.5"/><polygon points="1989.5,903.5 2001.5,900.5 1995.5,894.5 1983.5,897.5"/><polygon points="1980.5,897.5 1989.5,903.5 1983.5,897.5 1974.5,885.5"/><polygon points="1968.5,858.5 1980.5,897.5 1974.5,885.5 1962.5,825.5"/><polygon points="1959.5,744.5 1968.5,858.5 1962.5,825.5 1953.5,696.5"/><polygon points="1950.5,609.5 1959.5,744.5 1953.5,696.5 1944.5,576.5"/><polygon points="1938.5,543.5 1950.5,609.5 1944.5,576.5 1932.5,528.5"/><polygon points="1929.5,528.5 1938.5,543.5 1932.5,528.5 1923.5,522.5"/><polygon points="1917.5,531.5 1929.5,528.5 1923.5,522.5 1911.5,525.5"/><polygon points="1908.5,534.5 1917.5,531.5 1911.5,525.5 1902.5,528.5"/><polygon points="1899.5,537.5 1908.5,534.5 1902.5,528.5 1893.5,531.5"/><polygon points="1887.5,540.5 1899.5,537.5 1893.5,531.5 1881.5,537.5"/><polygon points="1878.5,564.5 1887.5,540.5 1881.5,537.5 1872.5,573.5"/><polygon points="1866.5,645.5 1878.5,564.5 1872.5,573.5 1860.5,678.5"/><polygon points="1857.5,786.5 1866.5,645.5 1860.5,678.5 1851.5,822.5"/><polygon points="1848.5,900.5 1857.5,786.5 1851.5,822.5 1842.5,912.5"/><polygon points="1836.5,939.5 1848.5,900.5 1842.5,912.5 1830.5,939.5"/><polygon points="1827.5,948.5 1836.5,939.5 1830.5,939.5 1821.5,942.5"/><polygon points="1815.5,951.5 1827.5,948.5 1821.5,942.5 1809.5,945.5"/><polygon points="1806.5,954.5 1815.5,951.5 1809.5,945.5 1800.5,948.5"/><polygon points="1797.5,957.5 1806.5,954.5 1800.5,948.5 1791.5,951.5"/><polygon points="1785.5,960.5 1797.5,957.5 1791.5,951.5 1779.5,954.5"/><polygon points="1776.5,963.5 1785.5,960.5 1779.5,954.5 1770.5,957.5"/><polygon points="1764.5,966.5 1776.5,963.5 1770.5,957.5 1758.5,960.5"/><polygon points="1755.5,969.5 1764.5,966.5 1758.5,960.5 1749.5,963.5"/><polygon points="1746.5,972.5 1755.5,969.5 1749.5,963.5 1740.5,966.5"/><polygon points="1734.5,975.5 1746.5,972.5 1740.5,966.5 1728.5,969.5"/><polygon points="1725.5,978.5 1734.5,975.5 1728.5,969.5 1719.5,972.5"/><polygon points="2220.5,846.5 2229.5,843.5 2223.5,837.5 2214.5,840.5"/><polygon points="2211.5,849.5 2220.5,846.5 2214.5,840.5 2205.5,843.5"/><polygon points="2199.5,852.5 2211.5,849.5 2205.5,843.5 2193.5,846.5"/><polygon points="2190.5,855.5 2199.5,852.5 2193.5,846.5 2184.5,849.5"/><polygon points="2178.5,858.5 2190.5,855.5 2184.5,849.5 2172.5,852.5"/><polygon points="2169.5,861.5 2178.5,858.5 2172.5,852.5 2163.5,855.5"/><polygon points="2160.5,864.5 2169.5,861.5 2163.5,855.5 2154.5,858.5"/><polygon points="2148.5,864.5 2160.5,864.5 2154.5,858.5 2142.5,861.5"/><polygon points="2139.5,867.5 2148.5,864.5 2142.5,861.5 2133.5,864.5"/><polygon points="2127.5,870.5 2139.5,867.5 2133.5,864.5 2121.5,867.5"/><polygon points="2118.5,873.5 2127.5,870.5 2121.5,867.5 2112.5,867.5"/><polygon points="2109.5,876.5 2118.5,873.5 2112.5,867.5 2103.5,870.5"/><polygon points="2097.5,879.5 2109.5,876.5 2103.5,870.5 2091.5,873.5"/><polygon points="2088.5,882.5 2097.5,879.5 2091.5,873.5 2082.5,876.5"/><polygon points="2076.5,885.5 2088.5,882.5 2082.5,876.5 2070.5,879.5"/><polygon points="2067.5,888.5 2076.5,885.5 2070.5,879.5 2061.5,882.5"/><polygon points="2058.5,888.5 2067.5,888.5 2061.5,882.5 2052.5,885.5"/><polygon points="2046.5,891.5 2058.5,888.5 2052.5,885.5 2040.5,888.5"/><polygon points="2037.5,894.5 2046.5,891.5 2040.5,888.5 2031.5,891.5"/><polygon points="2025.5,897.5 2037.5,894.5 2031.5,891.5 2019.5,894.5"/><polygon points="2016.5,900.5 2025.5,897.5 2019.5,894.5 2010.5,897.5"/><polygon points="2007.5,903.5 2016.5,900.5 2010.5,897.5 2001.5,900.5"/><polygon points="1995.5,906.5 2007.5,903.5 2001.5,900.5 1989.5,903.5"/><polygon points="1986.5,906.5 1995.5,906.5 1989.5,903.5 1980.5,897.5"/><polygon points="1974.5,882.5 1986.5,906.5 1980.5,897.5 1968.5,858.5"/><polygon points="1965.5,792.5 1974.5,882.5 1968.5,858.5 1959.5,744.5"/><polygon points="1956.5,651.5 1965.5,792.5 1959.5,744.5 1950.5,609.5"/><polygon points="1944.5,561.5 1956.5,651.5 1950.5,609.5 1938.5,543.5"/><polygon points="1935.5,537.5 1944.5,561.5 1938.5,543.5 1929.5,528.5"/><polygon points="1923.5,534.5 1935.5,537.5 1929.5,528.5 1917.5,531.5"/><polygon points="1914.5,537.5 1923.5,534.5 1917.5,531.5 1908.5,534.5"/><polygon points="1905.5,540.5 1914.5,537.5 1908.5,534.5 1899.5,537.5"/><polygon points="1893.5,546.5 1905.5,540.5 1899.5,537.5 1887.5,540.5"/><polygon points="1884.5,558.5 1893.5,546.5 1887.5,540.5 1878.5,564.5"/><polygon points="1872.5,618.5 1884.5,558.5 1878.5,564.5 1866.5,645.5"/><polygon points="1863.5,750.5 1872.5,618.5 1866.5,645.5 1857.5,786.5"/><polygon points="1854.5,879.5 1863.5,750.5 1857.5,786.5 1848.5,900.5"/><polygon points="1842.5,939.5 1854.5,879.5 1848.5,900.5 1836.5,939.5"/><polygon points="1833.5,951.5 1842.5,939.5 1836.5,939.5 1827.5,948.5"/><polygon points="1821.5,957.5 1833.5,951.5 1827.5,948.5 1815.5,951.5"/><polygon points="1812.5,960.5 1821.5,957.5 1815.5,951.5 1806.5,954.5"/><polygon points="1803.5,963.5 1812.5,960.5 1806.5,954.5 1797.5,957.5"/><polygon points="1791.5,966.5 1803.5,963.5 1797.5,957.5 1785.5,960.5"/><polygon points="1782.5,969.5 1791.5,966.5 1785.5,960.5 1776.5,963.5"/><polygon points="1770.5,969.5 1782.5,969.5 1776.5,963.5 1764.5,966.5"/><polygon points="1761.5,972.5 1770.5,969.5 1764.5,966.5 1755.5,969.5"/><polygon points="1752.5,975.5 1761.5,972.5 1755.5,969.5 1746.5,972.5"/><polygon points="1740.5,978.5 1752.5,975.5 1746.5,972.5 1734.5,975.5"/><polygon points="1731.5,981.5 1740.5,978.5 1734.5,975.5 1725.5,978.5"/><polygon points="2226.5,852.5 2235.5,849.5 2229.5,843.5 2220.5,846.5"/><polygon points="2217.5,855.5 2226.5,852.5 2220.5,846.5 2211.5,849.5"/><polygon points="2205.5,858.5 2217.5,855.5 2211.5,849.5 2199.5,852.5"/><polygon points="2196.5,858.5 2205.5,858.5 2199.5,852.5 2190.5,855.5"/><polygon points="2184.5,861.5 2196.5,858.5 2190.5,855.5 2178.5,858.5"/><polygon points="2175.5,864.5 2184.5,861.5 2178.5,858.5 2169.5,861.5"/><polygon points="2166.5,867.5 2175.5,864.5 2169.5,861.5 2160.5,864.5"/><polygon points="2154.5,870.5 2166.5,867.5 2160.5,864.5 2148.5,864.5"/><polygon points="2145.5,873.5 2154.5,870.5 2148.5,864.5 2139.5,867.5"/><polygon points="2133.5,876.5 2145.5,873.5 2139.5,867.5 2127.5,870.5"/><polygon points="2124.5,879.5 2133.5,876.5 2127.5,870.5 2118.5,873.5"/><polygon points="2115.5,882.5 2124.5,879.5 2118.5,873.5 2109.5,876.5"/><polygon points="2103.5,882.5 2115.5,882.5 2109.5,876.5 2097.5,879.5"/><polygon points="2094.5,885.5 2103.5,882.5 2097.5,879.5 2088.5,882.5"/><polygon points="2082.5,888.5 2094.5,885.5 2088.5,882.5 2076.5,885.5"/><polygon points="2073.5,891.5 2082.5,888.5 2076.5,885.5 2067.5,888.5"/><polygon points="2064.5,894.5 2073.5,891.5 2067.5,888.5 2058.5,888.5"/><polygon points="2052.5,897.5 2064.5,894.5 2058.5,888.5 2046.5,891.5"/><polygon points="2043.5,900.5 2052.5,897.5 2046.5,891.5 2037.5,894.5"/><polygon points="2031.5,903.5 2043.5,900.5 2037.5,894.5 2025.5,897.5"/><polygon points="2022.5,906.5 2031.5,903.5 2025.5,897.5 2016.5,900.5"/><polygon points="2013.5,909.5 2022.5,906.5 2016.5,900.5 2007.5,903.5"/><polygon points="2001.5,912.5 2013.5,909.5 2007.5,903.5 1995.5,906.5"/><polygon points="1992.5,909.5 2001.5,912.5 1995.5,906.5 1986.5,906.5"/><polygon points="1980.5,879.5 1992.5,909.5 1986.5,906.5 1974.5,882.5"/><polygon points="1971.5,783.5 1980.5,879.5 1974.5,882.5 1965.5,792.5"/><polygon points="1962.5,639.5 1971.5,783.5 1965.5,792.5 1956.5,651.5"/><polygon points="1950.5,531.5 1962.5,639.5 1956.5,651.5 1944.5,561.5"/><polygon points="1941.5,495.5 1950.5,531.5 1944.5,561.5 1935.5,537.5"/><polygon points="1929.5,489.5 1941.5,495.5 1935.5,537.5 1923.5,534.5"/><polygon points="1920.5,492.5 1929.5,489.5 1923.5,534.5 1914.5,537.5"/><polygon points="1911.5,495.5 1920.5,492.5 1914.5,537.5 1905.5,540.5"/><polygon points="1899.5,498.5 1911.5,495.5 1905.5,540.5 1893.5,546.5"/><polygon points="1890.5,504.5 1899.5,498.5 1893.5,546.5 1884.5,558.5"/><polygon points="1878.5,528.5 1890.5,504.5 1884.5,558.5 1872.5,618.5"/><polygon points="1869.5,612.5 1878.5,528.5 1872.5,618.5 1863.5,750.5"/><polygon points="1860.5,759.5 1869.5,612.5 1863.5,750.5 1854.5,879.5"/><polygon points="1848.5,888.5 1860.5,759.5 1854.5,879.5 1842.5,939.5"/><polygon points="1839.5,945.5 1848.5,888.5 1842.5,939.5 1833.5,951.5"/><polygon points="1827.5,960.5 1839.5,945.5 1833.5,951.5 1821.5,957.5"/><polygon points="1818.5,963.5 1827.5,960.5 1821.5,957.5 1812.5,960.5"/><polygon points="1809.5,966.5 1818.5,963.5 1812.5,960.5 1803.5,963.5"/><polygon points="1797.5,969.5 1809.5,966.5 1803.5,963.5 1791.5,966.5"/><polygon points="1788.5,972.5 1797.5,969.5 1791.5,966.5 1782.5,969.5"/><polygon points="1776.5,975.5 1788.5,972.5 1782.5,969.5 1770.5,969.5"/><polygon points="1767.5,978.5 1776.5,975.5 1770.5,969.5 1761.5,972.5"/><polygon points="1758.5,981.5 1767.5,978.5 1761.5,972.5 1752.5,975.5"/><polygon points="1746.5,984.5 1758.5,981.5 1752.5,975.5 1740.5,978.5"/><polygon points="1737.5,987.5 1746.5,984.5 1740.5,978.5 1731.5,981.5"/><polygon points="2232.5,855.5 2241.5,852.5 2235.5,849.5 2226.5,852.5"/><polygon points="2223.5,858.5 2232.5,855.5 2226.5,852.5 2217.5,855.5"/><polygon points="2211.5,861.5 2223.5,858.5 2217.5,855.5 2205.5,858.5"/><polygon points="2202.5,864.5 2211.5,861.5 2205.5,858.5 2196.5,858.5"/><polygon points="2190.5,867.5 2202.5,864.5 2196.5,858.5 2184.5,861.5"/><polygon points="2181.5,870.5 2190.5,867.5 2184.5,861.5 2175.5,864.5"/><polygon points="2172.5,873.5 2181.5,870.5 2175.5,864.5 2166.5,867.5"/><polygon points="2160.5,876.5 2172.5,873.5 2166.5,867.5 2154.5,870.5"/><polygon points="2151.5,876.5 2160.5,876.5 2154.5,870.5 2145.5,873.5"/><polygon points="2139.5,864.5 2151.5,876.5 2145.5,873.5 2133.5,876.5"/><polygon points="2130.5,825.5 2139.5,864.5 2133.5,876.5 2124.5,879.5"/><polygon points="2121.5,753.5 2130.5,825.5 2124.5,879.5 2115.5,882.5"/><polygon points="2109.5,687.5 2121.5,753.5 2115.5,882.5 2103.5,882.5"/><polygon points="2100.5,657.5 2109.5,687.5 2103.5,882.5 2094.5,885.5"/><polygon points="2088.5,651.5 2100.5,657.5 2094.5,885.5 2082.5,888.5"/><polygon points="2079.5,651.5 2088.5,651.5 2082.5,888.5 2073.5,891.5"/><polygon points="2070.5,654.5 2079.5,651.5 2073.5,891.5 2064.5,894.5"/><polygon points="2058.5,657.5 2070.5,654.5 2064.5,894.5 2052.5,897.5"/><polygon points="2049.5,660.5 2058.5,657.5 2052.5,897.5 2043.5,900.5"/><polygon points="2037.5,669.5 2049.5,660.5 2043.5,900.5 2031.5,903.5"/><polygon points="2028.5,699.5 2037.5,669.5 2031.5,903.5 2022.5,906.5"/><polygon points="2019.5,762.5 2028.5,699.5 2022.5,906.5 2013.5,909.5"/><polygon points="2007.5,843.5 2019.5,762.5 2013.5,909.5 2001.5,912.5"/><polygon points="1998.5,897.5 2007.5,843.5 2001.5,912.5 1992.5,909.5"/><polygon points="1986.5,915.5 1998.5,897.5 1992.5,909.5 1980.5,879.5"/><polygon points="1977.5,900.5 1986.5,915.5 1980.5,879.5 1971.5,783.5"/><polygon points="1968.5,852.5 1977.5,900.5 1971.5,783.5 1962.5,639.5"/><polygon points="1956.5,807.5 1968.5,852.5 1962.5,639.5 1950.5,531.5"/><polygon points="1947.5,792.5 1956.5,807.5 1950.5,531.5 1941.5,495.5"/><polygon points="1935.5,789.5 1947.5,792.5 1941.5,495.5 1929.5,489.5"/><polygon points="1926.5,792.5 1935.5,789.5 1929.5,489.5 1920.5,492.5"/><polygon points="1917.5,795.5 1926.5,792.5 1920.5,492.5 1911.5,495.5"/><polygon points="1905.5,798.5 1917.5,795.5 1911.5,495.5 1899.5,498.5"/><polygon points="1896.5,801.5 1905.5,798.5 1899.5,498.5 1890.5,504.5"/><polygon points="1884.5,810.5 1896.5,801.5 1890.5,504.5 1878.5,528.5"/><polygon points="1875.5,843.5 1884.5,810.5 1878.5,528.5 1869.5,612.5"/><polygon points="1866.5,900.5 1875.5,843.5 1869.5,612.5 1860.5,759.5"/><polygon points="1854.5,942.5 1866.5,900.5 1860.5,759.5 1848.5,888.5"/><polygon points="1845.5,960.5 1854.5,942.5 1848.5,888.5 1839.5,945.5"/><polygon points="1833.5,966.5 1845.5,960.5 1839.5,945.5 1827.5,960.5"/><polygon points="1824.5,969.5 1833.5,966.5 1827.5,960.5 1818.5,963.5"/><polygon points="1815.5,972.5 1824.5,969.5 1818.5,963.5 1809.5,966.5"/><polygon points="1803.5,975.5 1815.5,972.5 1809.5,966.5 1797.5,969.5"/><polygon points="1794.5,978.5 1803.5,975.5 1797.5,969.5 1788.5,972.5"/><polygon points="1782.5,981.5 1794.5,978.5 1788.5,972.5 1776.5,975.5"/><polygon points="1773.5,984.5 1782.5,981.5 1776.5,975.5 1767.5,978.5"/><polygon points="1764.5,987.5 1773.5,984.5 1767.5,978.5 1758.5,981.5"/><polygon points="1752.5,990.5 1764.5,987.5 1758.5,981.5 1746.5,984.5"/><polygon points="1743.5,990.5 1752.5,990.5 1746.5,984.5 1737.5,987.5"/></g>
<path d="M1848 891.5h1M1851 891.5h1M1854 891.5h1M1857 894.5h1M1860 894.5h1M1863 894.5h1M1866 894.5h1M1866 894.5h1M1866 891.5h1M1971 861.5h1M1974 858.5h1M1974 858.5h1M1974 855.5h1M1977 852.5h1M2004 855.5h1M2007 852.5h1M2007 852.5h1M2010 849.5h1M2013 849.5h1M2016 846.5h1M2016 846.5h1M2019 846.5h1M2022 843.5h1M2025 843.5h1M2025 843.5h1M2028 843.5h1M2031 840.5h1M2034 840.5h1M2034 840.5h1M2037 840.5h1M2040 840.5h1M2043 837.5h1M2046 837.5h1M2046 837.5h1M2049 837.5h1M2052 834.5h1M2055 834.5h1M2055 834.5h1M2058 834.5h1M2061 834.5h1M2064 831.5h1M2067 831.5h1M2067 831.5h1M2070 831.5h1M2073 828.5h1M2076 828.5h1M2076 828.5h1M2079 828.5h1M2082 825.5h1M2085 825.5h1M2085 825.5h1M2088 825.5h1M2091 822.5h1M2094 822.5h1M2097 822.5h1M2097 822.5h1M2100 822.5h1M2103 819.5h1M2106 819.5h1M2106 819.5h1M2109 819.5h1M2112 819.5h1M2115 819.5h1M2118 819.5h1M2118 819.5h1M2121 819.5h1M2124 819.5h1M2127 819.5h1M2130 819.5h1M1854 822.5h1M1857 822.5h1M1860 822.5h1M1863 822.5h1M1863 822.5h1M1866 822.5h1M1869 822.5h1M1872 822.5h1M1875 822.5h1M1875 822.5h1M1878 822.5h1M1881 819.5h1M1953 801.5h1M1956 798.5h1M1956 798.5h1M1959 798.5h1M1962 795.5h1M1965 795.5h1M1965 795.5h1M1968 792.5h1M1971 789.5h1M1971 789.5h1M1971 786.5h1M2016 783.5h1M2019 780.5h1M2019 780.5h1M2022 780.5h1M2025 777.5h1M2025 777.5h1M2028 777.5h1M2031 774.5h1M2034 774.5h1M2034 774.5h1M2037 774.5h1M2040 774.5h1M2043 771.5h1M2046 771.5h1M2046 771.5h1M2049 771.5h1M2052 768.5h1M2055 768.5h1M2055 768.5h1M2058 768.5h1M2061 768.5h1M2064 765.5h1M2067 765.5h1M2067 765.5h1M2070 765.5h1M2073 762.5h1M2076 762.5h1M2076 762.5h1M2079 762.5h1M2082 759.5h1M2085 759.5h1M2085 759.5h1M2088 759.5h1M2091 756.5h1M2094 756.5h1M2097 756.5h1M2097 756.5h1M2100 756.5h1M2103 753.5h1M2106 753.5h1M2106 753.5h1M2109 753.5h1M2112 753.5h1M2115 753.5h1M2118 753.5h1M2121 753.5h1M1860 753.5h1M1863 753.5h1M1866 753.5h1M1869 753.5h1M1872 753.5h1M1872 753.5h1M1875 753.5h1M1878 750.5h1M1881 750.5h1M1884 750.5h1M1884 750.5h1M1887 750.5h1M1890 750.5h1M1893 747.5h1M1896 747.5h1M1896 747.5h1M1899 747.5h1M1902 747.5h1M1905 747.5h1M1905 747.5h1M1908 747.5h1M1911 744.5h1M1914 744.5h1M1917 744.5h1M1917 744.5h1M1920 744.5h1M1923 741.5h1M1926 741.5h1M1926 741.5h1M1929 741.5h1M1932 738.5h1M1935 738.5h1M1935 738.5h1M1938 738.5h1M1941 738.5h1M1944 735.5h1M1947 735.5h1M1947 735.5h1M1950 732.5h1M1953 729.5h1M1953 729.5h1M1956 729.5h1M1959 726.5h1M1962 726.5h1M1965 726.5h1M1965 726.5h1M1968 723.5h1M2025 714.5h1M2028 711.5h1M2028 711.5h1M2031 711.5h1M2034 708.5h1M2037 708.5h1M2037 708.5h1M2040 708.5h1M2043 708.5h1M2046 705.5h1M2049 705.5h1M2049 705.5h1M2052 705.5h1M2055 702.5h1M2058 702.5h1M2058 702.5h1M2061 702.5h1M2064 702.5h1M2067 699.5h1M2070 699.5h1M2070 699.5h1M2073 699.5h1M2076 696.5h1M2079 696.5h1M2079 696.5h1M2082 696.5h1M2085 696.5h1M2088 696.5h1M2088 696.5h1M2091 696.5h1M2094 696.5h1M2097 693.5h1M2100 693.5h1M2100 693.5h1M2103 693.5h1M2106 690.5h1M2109 690.5h1M1863 687.5h1M1866 687.5h1M1869 684.5h1M1872 684.5h1M1872 684.5h1M1875 684.5h1M1878 681.5h1M1881 681.5h1M1881 681.5h1M1884 681.5h1M1887 681.5h1M1890 681.5h1M1893 681.5h1M1893 681.5h1M1896 681.5h1M1899 678.5h1M1902 678.5h1M1902 678.5h1M1905 678.5h1M1908 678.5h1M1911 675.5h1M1914 675.5h1M1914 675.5h1M1917 675.5h1M1920 672.5h1M1923 672.5h1M1923 672.5h1M1926 672.5h1M1929 669.5h1M1932 669.5h1M1932 669.5h1M1935 669.5h1M1938 669.5h1M1941 669.5h1M1944 669.5h1M1944 669.5h1M1947 666.5h1M1950 666.5h1M1953 663.5h1M1953 663.5h1M1956 663.5h1M1959 660.5h1M1962 660.5h1M1962 660.5h1M1962 657.5h1M1869 618.5h1M1872 618.5h1M1875 618.5h1M1878 615.5h1M1881 615.5h1M1881 615.5h1M1884 615.5h1M1887 612.5h1M1890 612.5h1M1893 612.5h1M1893 612.5h1M1896 612.5h1M1899 609.5h1M1902 609.5h1M1902 609.5h1M1905 609.5h1M1908 606.5h1M1911 606.5h1M1914 606.5h1M1914 606.5h1M1917 606.5h1M1920 603.5h1M1923 603.5h1M1923 603.5h1M1926 603.5h1M1929 600.5h1M1932 600.5h1M1932 600.5h1M1935 600.5h1M1938 600.5h1M1941 600.5h1M1944 600.5h1M1944 600.5h1M1947 597.5h1M1950 594.5h1M1950 594.5h1M1953 594.5h1M1956 594.5h1M1875 546.5h1M1878 546.5h1M1878 546.5h1M1881 546.5h1M1884 546.5h1M1887 546.5h1M1890 546.5h1M1890 546.5h1M1893 546.5h1M1896 543.5h1M1899 543.5h1M1899 543.5h1M1902 543.5h1M1905 540.5h1M1908 540.5h1M1911 540.5h1M1911 540.5h1M1914 540.5h1M1917 537.5h1M1920 537.5h1M1920 537.5h1M1923 534.5h1M1926 534.5h1M1929 531.5h1M1929 531.5h1M1932 531.5h1M1935 531.5h1M1938 531.5h1M1941 531.5h1M1941 531.5h1M1944 531.5h1M1947 528.5h1M1950 528.5h1" fill="none" stroke="#00f" stroke-width="1"/>
<path d="M1446.5 261.5L1740.5 507.5M1740.5 507.5L2250.5 366.5M1740.5 996.5L1740.5 507.5" stroke="#000" stroke-width="0.95" fill="none" shape-rendering="geometricPrecision"/>
<path d="M1740.5 996.5L2250.5 855.5M1740.5 996.5L1446.5 750.5M1446.5 750.5L1446.5 261.5M1740.5 996.5l4.5 14.5M1752.5 993.5l2 7M1767.5 990.5l2 7M1779.5 984.5l2 7M1791.5 981.5l4.5 14.5M1803.5 978.5l2 7M1818.5 975.5l2 7M1830.5 972.5l2 7M1842.5 969.5l4.5 14.5M1854.5 963.5l2 7M1869.5 960.5l2 7M1881.5 957.5l2 7M1893.5 954.5l4.5 14.5M1905.5 951.5l2 7M1920.5 948.5l2 7M1932.5 942.5l2 7M1944.5 939.5l4.5 14.5M1956.5 936.5l2 7M1971.5 933.5l2 7M1983.5 930.5l2 7M1995.5 927.5l4.5 14.5M2007.5 921.5l2 7M2022.5 918.5l2 7M2034.5 915.5l2 7M2046.5 912.5l4.5 14.5M2058.5 909.5l2 7M2073.5 903.5l2 7M2085.5 900.5l2 7M2097.5 897.5l4.5 14.5M2109.5 894.5l2 7M2124.5 891.5l2 7M2136.5 888.5l2 7M2148.5 882.5l4.5 14.5M2160.5 879.5l2 7M2175.5 876.5l2 7M2187.5 873.5l2 7M2199.5 870.5l4.5 14.5M2211.5 867.5l2 7M2226.5 861.5l2 7M2238.5 858.5l2 7M2250.5 855.5l4.5 14.5M1740.5 996.5l-7.5 10.5M1731.5 987.5l-3.5 4.5M1719.5 981.5l-3.5 4.5M1710.5 972.5l-3.5 4.5M1701.5 963.5l-3.5 4.5M1692.5 954.5l-7.5 10.5M1680.5 948.5l-3.5 4.5M1671.5 939.5l-3.5 4.5M1662.5 930.5l-3.5 4.5M1653.5 921.5l-3.5 4.5M1641.5 915.5l-7.5 10.5M1632.5 906.5l-3.5 4.5M1623.5 897.5l-3.5 4.5M1614.5 888.5l-3.5 4.5M1602.5 882.5l-3.5 4.5M1593.5 873.5l-7.5 10.5M1584.5 864.5l-3.5 4.5M1572.5 858.5l-3.5 4.5M1563.5 849.5l-3.5 4.5M1554.5 840.5l-3.5 4.5M1545.5 831.5l-7.5 10.5M1533.5 825.5l-3.5 4.5M1524.5 816.5l-3.5 4.5M1515.5 807.5l-3.5 4.5M1506.5 798.5l-3.5 4.5M1494.5 792.5l-7.5 10.5M1485.5 783.5l-3.5 4.5M1476.5 774.5l-3.5 4.5M1467.5 765.5l-3.5 4.5M1455.5 759.5l-3.5 4.5M1446.5 750.5l-7.5 10.5M1446.5 750.5h-15M1446.5 732.5h-6M1446.5 717.5h-6M1446.5 699.5h-6M1446.5 684.5h-15M1446.5 666.5h-6M1446.5 651.5h-6M1446.5 633.5h-6M1446.5 615.5h-15M1446.5 600.5h-6M1446.5 582.5h-6M1446.5 567.5h-6M1446.5 549.5h-15M1446.5 534.5h-6M1446.5 516.5h-6M1446.5 498.5h-6M1446.5 483.5h-15M1446.5 465.5h-6M1446.5 450.5h-6M1446.5 432.5h-6M1446.5 417.5h-15M1446.5 399.5h-6M1446.5 381.5h-6M1446.5 366.5h-6M1446.5 348.5h-15M1446.5 333.5h-6M1446.5 315.5h-6M1446.5 300.5h-6M1446.5 282.5h-15M1446.5 264.5h-6" stroke="#000" stroke-width="0.95" fill="none" shape-rendering="geometricPrecision"/>
<text x="1750.9" y="1046.5" font-size="34.5" text-anchor="middle">–10</text>
<text x="1801.9" y="1031.5" font-size="34.5" text-anchor="middle">–8</text>
<text x="1852.9" y="1019.5" font-size="34.5" text-anchor="middle">–6</text>
<text x="1903.9" y="1004.5" font-size="34.5" text-anchor="middle">–4</text>
<text x="1954.9" y="989.5" font-size="34.5" text-anchor="middle">–2</text>
<text x="2004.8" y="977.5" font-size="34.5" text-anchor="middle">0</text>
<text x="2055.8" y="962.5" font-size="34.5" text-anchor="middle">2</text>
<text x="2106.8" y="947.5" font-size="34.5" text-anchor="middle">4</text>
<text x="2157.8" y="932.5" font-size="34.5" text-anchor="middle">6</text>
<text x="2208.8" y="920.5" font-size="34.5" text-anchor="middle">8</text>
<text x="2260.9" y="905.5" font-size="34.5" text-anchor="middle">10</text>
<text x="1710.8" y="1037.0" font-size="34.5" text-anchor="end">–3</text>
<text x="1664.6" y="998.0" font-size="34.5" text-anchor="end">–2</text>
<text x="1616.0" y="959.8" font-size="34.5" text-anchor="end">–1</text>
<text x="1567.6" y="917.0" font-size="34.5" text-anchor="end">0</text>
<text x="1520.0" y="876.7" font-size="34.5" text-anchor="end">1</text>
<text x="1467.0" y="837.9" font-size="34.5" text-anchor="end">2</text>
<text x="1420.4" y="794.2" font-size="34.5" text-anchor="end">3</text>
<text x="1424.5" y="765.5" font-size="34.5" text-anchor="end">0</text>
<text x="1424.5" y="699.5" font-size="34.5" text-anchor="end">0.002</text>
<text x="1424.5" y="630.5" font-size="34.5" text-anchor="end">0.004</text>
<text x="1424.5" y="564.5" font-size="34.5" text-anchor="end">0.006</text>
<text x="1424.5" y="498.5" font-size="34.5" text-anchor="end">0.008</text>
<text x="1427.5" y="432.5" font-size="34.5" text-anchor="end">0.01</text>
<text x="1424.5" y="363.5" font-size="34.5" text-anchor="end">0.012</text>
<text x="1424.5" y="297.5" font-size="34.5" text-anchor="end">0.014</text>
<text transform="translate(1299,270.5) rotate(-90)" font-size="34.9" text-anchor="end">Events / ( 0.4 x 0.12 )</text>
<text transform="translate(1390,817.5) rotate(40)" font-size="34.5">mean</text>
<text transform="translate(2248.5,922) rotate(-15.4)" font-size="34.5">x</text>
<text x="1785.4" y="69" font-size="56" text-anchor="middle">histogram of model(x|mean)</text>
<rect x="2112.5" y="81.5" width="228" height="264" fill="#fff" stroke="#000" stroke-width="1"/>
<path d="M2112.5 126.5h228" stroke="#000" stroke-width="1"/>
<text x="2231" y="117" font-size="34" text-anchor="middle">hh__x_mean</text>
<text x="2123.5" y="158.7" font-size="20.7">Entries</text>
<text x="2330" y="156" font-size="21" text-anchor="end">2500</text>
<text x="2123.5" y="200.5" font-size="20.7">Mean x</text>
<text x="2330" y="200.6" font-size="21" text-anchor="end">0.07207</text>
<text x="2123.5" y="242.8" font-size="20.7">Mean y</text>
<text x="2330" y="242.8" font-size="21" text-anchor="end">–0.006977</text>
<text x="2123.5" y="290.8" font-size="20.7">Std Dev x</text>
<text x="2330" y="290.8" font-size="21" text-anchor="end">2.147</text>
<text x="2123.5" y="332.4" font-size="20.7">Std Dev y</text>
<text x="2330" y="332.4" font-size="21" text-anchor="end">1.735</text>
</g>
</svg>
</body></html>
